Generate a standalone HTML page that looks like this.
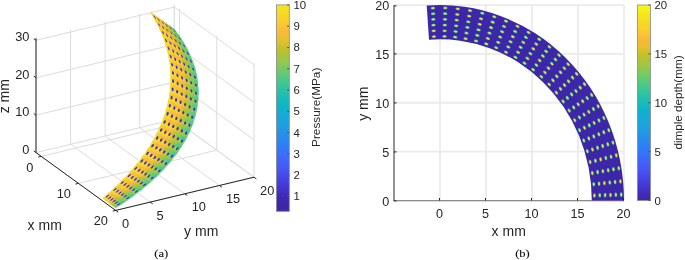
<!DOCTYPE html>
<html><head><meta charset="utf-8"><style>
html,body{margin:0;padding:0;background:#fff;}
svg{display:block;will-change:transform;}
text{font-family:"Liberation Sans",sans-serif;}
</style></head><body>
<svg width="685" height="260" viewBox="0 0 685 260">
<rect width="685" height="260" fill="#fff"/>
<g stroke="#dcdcdc" stroke-width="1" fill="none">
<line x1="41.20" y1="156.37" x2="179.50" y2="123.17"/>
<line x1="78.45" y1="183.38" x2="216.75" y2="150.18"/>
<line x1="115.70" y1="210.40" x2="254.00" y2="177.20"/>
<line x1="36.00" y1="152.60" x2="115.70" y2="210.40"/>
<line x1="70.58" y1="144.30" x2="150.28" y2="202.10"/>
<line x1="105.15" y1="136.00" x2="184.85" y2="193.80"/>
<line x1="139.73" y1="127.70" x2="219.43" y2="185.50"/>
<line x1="174.30" y1="119.40" x2="254.00" y2="177.20"/>
<line x1="36.00" y1="152.60" x2="36.00" y2="38.24"/>
<line x1="70.58" y1="144.30" x2="70.58" y2="29.94"/>
<line x1="105.15" y1="136.00" x2="105.15" y2="21.64"/>
<line x1="139.73" y1="127.70" x2="139.73" y2="13.34"/>
<line x1="174.30" y1="119.40" x2="174.30" y2="5.04"/>
<line x1="36.00" y1="152.60" x2="174.30" y2="119.40"/>
<line x1="36.00" y1="115.17" x2="174.30" y2="81.97"/>
<line x1="36.00" y1="77.73" x2="174.30" y2="44.53"/>
<line x1="36.00" y1="40.30" x2="174.30" y2="7.10"/>
<line x1="174.30" y1="119.40" x2="174.30" y2="5.04"/>
<line x1="179.50" y1="123.17" x2="179.50" y2="8.81"/>
<line x1="216.75" y1="150.18" x2="216.75" y2="35.83"/>
<line x1="254.00" y1="177.20" x2="254.00" y2="62.84"/>
<line x1="174.30" y1="119.40" x2="254.00" y2="177.20"/>
<line x1="174.30" y1="81.97" x2="254.00" y2="139.77"/>
<line x1="174.30" y1="44.53" x2="254.00" y2="102.33"/>
<line x1="174.30" y1="7.10" x2="254.00" y2="64.90"/>
</g>
<g stroke-width="0.6" stroke-linejoin="round">
<polygon points="172.53,28.56 174.87,30.21 173.96,29.06 171.64,27.40" fill="#40c790" stroke="#40c790"/>
<polygon points="173.41,29.72 175.77,31.36 174.87,30.21 172.53,28.56" fill="#43c88d" stroke="#43c88d"/>
<polygon points="174.28,30.89 176.65,32.53 175.77,31.36 173.41,29.72" fill="#5dca78" stroke="#5dca78"/>
<polygon points="175.12,32.06 177.51,33.69 176.65,32.53 174.28,30.89" fill="#7dc85e" stroke="#7dc85e"/>
<polygon points="175.95,33.23 178.35,34.86 177.51,33.69 175.12,32.06" fill="#7fc85c" stroke="#7fc85c"/>
<polygon points="170.19,26.91 172.53,28.56 171.64,27.40 169.32,25.75" fill="#57ca7d" stroke="#57ca7d"/>
<polygon points="176.77,34.41 179.18,36.03 178.35,34.86 175.95,33.23" fill="#60ca75" stroke="#60ca75"/>
<polygon points="171.06,28.08 173.41,29.72 172.53,28.56 170.19,26.91" fill="#5aca7a" stroke="#5aca7a"/>
<polygon points="177.57,35.59 180.00,37.21 179.18,36.03 176.77,34.41" fill="#44c88c" stroke="#44c88c"/>
<polygon points="171.91,29.25 174.28,30.89 173.41,29.72 171.06,28.08" fill="#7bc860" stroke="#7bc860"/>
<polygon points="178.35,36.78 180.79,38.39 180.00,37.21 177.57,35.59" fill="#3fc790" stroke="#3fc790"/>
<polygon points="172.74,30.42 175.12,32.06 174.28,30.89 171.91,29.25" fill="#98c84a" stroke="#98c84a"/>
<polygon points="179.12,37.96 181.57,39.57 180.79,38.39 178.35,36.78" fill="#54ca7f" stroke="#54ca7f"/>
<polygon points="173.55,31.60 175.95,33.23 175.12,32.06 172.74,30.42" fill="#9ac849" stroke="#9ac849"/>
<polygon points="167.86,25.26 170.19,26.91 169.32,25.75 166.99,24.09" fill="#79c861" stroke="#79c861"/>
<polygon points="174.35,32.79 176.77,34.41 175.95,33.23 173.55,31.60" fill="#7ec85d" stroke="#7ec85d"/>
<polygon points="179.87,39.16 182.34,40.76 181.57,39.57 179.12,37.96" fill="#76c963" stroke="#76c963"/>
<polygon points="168.70,26.43 171.06,28.08 170.19,26.91 167.86,25.26" fill="#7dc85e" stroke="#7dc85e"/>
<polygon points="175.14,33.97 177.57,35.59 176.77,34.41 174.35,32.79" fill="#5cca79" stroke="#5cca79"/>
<polygon points="180.60,40.35 183.08,41.95 182.34,40.76 179.87,39.16" fill="#82c85a" stroke="#82c85a"/>
<polygon points="169.53,27.61 171.91,29.25 171.06,28.08 168.70,26.43" fill="#9bc848" stroke="#9bc848"/>
<polygon points="175.91,35.16 178.35,36.78 177.57,35.59 175.14,33.97" fill="#56ca7e" stroke="#56ca7e"/>
<polygon points="181.31,41.56 183.81,43.15 183.08,41.95 180.60,40.35" fill="#6bc96d" stroke="#6bc96d"/>
<polygon points="170.35,28.79 172.74,30.42 171.91,29.25 169.53,27.61" fill="#b2c234" stroke="#b2c234"/>
<polygon points="176.66,36.36 179.12,37.96 178.35,36.78 175.91,35.16" fill="#70c968" stroke="#70c968"/>
<polygon points="171.15,29.97 173.55,31.60 172.74,30.42 170.35,28.79" fill="#b3c233" stroke="#b3c233"/>
<polygon points="182.01,42.76 184.52,44.35 183.81,43.15 181.31,41.56" fill="#4ac887" stroke="#4ac887"/>
<polygon points="165.52,23.61 167.86,25.26 166.99,24.09 164.67,22.44" fill="#9dc847" stroke="#9dc847"/>
<polygon points="177.40,37.55 179.87,39.16 179.12,37.96 176.66,36.36" fill="#92c84e" stroke="#92c84e"/>
<polygon points="171.94,31.16 174.35,32.79 173.55,31.60 171.15,29.97" fill="#9ec846" stroke="#9ec846"/>
<polygon points="182.70,43.97 185.22,45.55 184.52,44.35 182.01,42.76" fill="#3ec791" stroke="#3ec791"/>
<polygon points="166.35,24.79 168.70,26.43 167.86,25.26 165.52,23.61" fill="#a0c745" stroke="#a0c745"/>
<polygon points="178.12,38.76 180.60,40.35 179.87,39.16 177.40,37.55" fill="#9dc847" stroke="#9dc847"/>
<polygon points="172.71,32.35 175.14,33.97 174.35,32.79 171.94,31.16" fill="#7fc85c" stroke="#7fc85c"/>
<polygon points="183.36,45.18 185.89,46.76 185.22,45.55 182.70,43.97" fill="#4cc986" stroke="#4cc986"/>
<polygon points="167.16,25.97 169.53,27.61 168.70,26.43 166.35,24.79" fill="#b8c130" stroke="#b8c130"/>
<polygon points="173.46,33.55 175.91,35.16 175.14,33.97 172.71,32.35" fill="#78c962" stroke="#78c962"/>
<polygon points="178.82,39.96 181.31,41.56 180.60,40.35 178.12,38.76" fill="#88c855" stroke="#88c855"/>
<polygon points="167.97,27.16 170.35,28.79 169.53,27.61 167.16,25.97" fill="#d7c02a" stroke="#d7c02a"/>
<polygon points="184.01,46.39 186.55,47.97 185.89,46.76 183.36,45.18" fill="#6dc96a" stroke="#6dc96a"/>
<polygon points="174.20,34.75 176.66,36.36 175.91,35.16 173.46,33.55" fill="#92c84f" stroke="#92c84f"/>
<polygon points="179.51,41.17 182.01,42.76 181.31,41.56 178.82,39.96" fill="#64c973" stroke="#64c973"/>
<polygon points="168.75,28.35 171.15,29.97 170.35,28.79 167.97,27.16" fill="#d8c02b" stroke="#d8c02b"/>
<polygon points="184.64,47.61 187.20,49.18 186.55,47.97 184.01,46.39" fill="#82c859" stroke="#82c859"/>
<polygon points="174.93,35.95 177.40,37.55 176.66,36.36 174.20,34.75" fill="#adc338" stroke="#adc338"/>
<polygon points="180.18,42.38 182.70,43.97 182.01,42.76 179.51,41.17" fill="#54ca7f" stroke="#54ca7f"/>
<polygon points="169.52,29.54 171.94,31.16 171.15,29.97 168.75,28.35" fill="#bbc12f" stroke="#bbc12f"/>
<polygon points="163.18,21.96 165.52,23.61 164.67,22.44 162.35,20.78" fill="#bec12e" stroke="#bec12e"/>
<polygon points="175.63,37.16 178.12,38.76 177.40,37.55 174.93,35.95" fill="#b5c131" stroke="#b5c131"/>
<polygon points="185.26,48.83 187.82,50.40 187.20,49.18 184.64,47.61" fill="#74c965" stroke="#74c965"/>
<polygon points="163.99,23.15 166.35,24.79 165.52,23.61 163.18,21.96" fill="#c1c12d" stroke="#c1c12d"/>
<polygon points="170.28,30.74 172.71,32.35 171.94,31.16 169.52,29.54" fill="#a1c743" stroke="#a1c743"/>
<polygon points="180.83,43.60 183.36,45.18 182.70,43.97 180.18,42.38" fill="#66c970" stroke="#66c970"/>
<polygon points="164.79,24.33 167.16,25.97 166.35,24.79 163.99,23.15" fill="#e1c02e" stroke="#e1c02e"/>
<polygon points="176.32,38.37 178.82,39.96 178.12,38.76 175.63,37.16" fill="#a5c540" stroke="#a5c540"/>
<polygon points="171.02,31.94 173.46,33.55 172.71,32.35 170.28,30.74" fill="#9cc848" stroke="#9cc848"/>
<polygon points="185.85,50.05 188.43,51.61 187.82,50.40 185.26,48.83" fill="#52c981" stroke="#52c981"/>
<polygon points="181.47,44.81 184.01,46.39 183.36,45.18 180.83,43.60" fill="#8ac854" stroke="#8ac854"/>
<polygon points="165.58,25.52 167.97,27.16 167.16,25.97 164.79,24.33" fill="#f2bb36" stroke="#f2bb36"/>
<polygon points="177.00,39.58 179.51,41.17 178.82,39.96 176.32,38.37" fill="#87c856" stroke="#87c856"/>
<polygon points="171.75,33.14 174.20,34.75 173.46,33.55 171.02,31.94" fill="#afc336" stroke="#afc336"/>
<polygon points="186.43,51.28 189.02,52.84 188.43,51.61 185.85,50.05" fill="#3fc791" stroke="#3fc791"/>
<polygon points="182.09,46.04 184.64,47.61 184.01,46.39 181.47,44.81" fill="#9dc847" stroke="#9dc847"/>
<polygon points="166.35,26.72 168.75,28.35 167.97,27.16 165.58,25.52" fill="#f2bb36" stroke="#f2bb36"/>
<polygon points="172.46,34.35 174.93,35.95 174.20,34.75 171.75,33.14" fill="#d1c028" stroke="#d1c028"/>
<polygon points="177.66,40.80 180.18,42.38 179.51,41.17 177.00,39.58" fill="#76c963" stroke="#76c963"/>
<polygon points="167.11,27.92 169.52,29.54 168.75,28.35 166.35,26.72" fill="#e4c02f" stroke="#e4c02f"/>
<polygon points="187.00,52.51 189.59,54.06 189.02,52.84 186.43,51.28" fill="#46c88b" stroke="#46c88b"/>
<polygon points="182.69,47.26 185.26,48.83 184.64,47.61 182.09,46.04" fill="#90c850" stroke="#90c850"/>
<polygon points="160.84,20.31 163.18,21.96 162.35,20.78 160.02,19.13" fill="#e7c030" stroke="#e7c030"/>
<polygon points="173.15,35.56 175.63,37.16 174.93,35.95 172.46,34.35" fill="#dbc02c" stroke="#dbc02c"/>
<polygon points="178.30,42.02 180.83,43.60 180.18,42.38 177.66,40.80" fill="#89c855" stroke="#89c855"/>
<polygon points="167.85,29.12 170.28,30.74 169.52,29.54 167.11,27.92" fill="#c3c02c" stroke="#c3c02c"/>
<polygon points="161.64,21.50 163.99,23.15 163.18,21.96 160.84,20.31" fill="#e9c031" stroke="#e9c031"/>
<polygon points="183.28,48.49 185.85,50.05 185.26,48.83 182.69,47.26" fill="#6dc96b" stroke="#6dc96b"/>
<polygon points="187.54,53.74 190.15,55.29 189.59,54.06 187.00,52.51" fill="#63c973" stroke="#63c973"/>
<polygon points="173.83,36.77 176.32,38.37 175.63,37.16 173.15,35.56" fill="#c5c02c" stroke="#c5c02c"/>
<polygon points="178.92,43.24 181.47,44.81 180.83,43.60 178.30,42.02" fill="#a7c53e" stroke="#a7c53e"/>
<polygon points="168.58,30.32 171.02,31.94 170.28,30.74 167.85,29.12" fill="#bdc12e" stroke="#bdc12e"/>
<polygon points="162.42,22.69 164.79,24.33 163.99,23.15 161.64,21.50" fill="#f6b939" stroke="#f6b939"/>
<polygon points="174.49,37.99 177.00,39.58 176.32,38.37 173.83,36.77" fill="#a7c53e" stroke="#a7c53e"/>
<polygon points="183.85,49.72 186.43,51.28 185.85,50.05 183.28,48.49" fill="#55ca7e" stroke="#55ca7e"/>
<polygon points="188.07,54.97 190.69,56.52 190.15,55.29 187.54,53.74" fill="#80c85b" stroke="#80c85b"/>
<polygon points="163.20,23.89 165.58,25.52 164.79,24.33 162.42,22.69" fill="#fdc634" stroke="#fdc634"/>
<polygon points="169.29,31.53 171.75,33.14 171.02,31.94 168.58,30.32" fill="#d7c02a" stroke="#d7c02a"/>
<polygon points="179.53,44.46 182.09,46.04 181.47,44.81 178.92,43.24" fill="#b6c131" stroke="#b6c131"/>
<polygon points="175.14,39.21 177.66,40.80 177.00,39.58 174.49,37.99" fill="#9bc849" stroke="#9bc849"/>
<polygon points="163.95,25.09 166.35,26.72 165.58,25.52 163.20,23.89" fill="#fcc733" stroke="#fcc733"/>
<polygon points="169.99,32.74 172.46,34.35 171.75,33.14 169.29,31.53" fill="#efbd34" stroke="#efbd34"/>
<polygon points="184.40,50.95 187.00,52.51 186.43,51.28 183.85,49.72" fill="#5eca77" stroke="#5eca77"/>
<polygon points="188.58,56.21 191.20,57.75 190.69,56.52 188.07,54.97" fill="#7bc85f" stroke="#7bc85f"/>
<polygon points="180.12,45.69 182.69,47.26 182.09,46.04 179.53,44.46" fill="#acc43a" stroke="#acc43a"/>
<polygon points="164.69,26.29 167.11,27.92 166.35,26.72 163.95,25.09" fill="#f7ba39" stroke="#f7ba39"/>
<polygon points="175.77,40.44 178.30,42.02 177.66,40.80 175.14,39.21" fill="#a8c53d" stroke="#a8c53d"/>
<polygon points="170.67,33.96 173.15,35.56 172.46,34.35 169.99,32.74" fill="#f4bb37" stroke="#f4bb37"/>
<polygon points="184.93,52.19 187.54,53.74 187.00,52.51 184.40,50.95" fill="#81c85a" stroke="#81c85a"/>
<polygon points="158.50,18.67 160.84,20.31 160.02,19.13 157.70,17.48" fill="#f5ba38" stroke="#f5ba38"/>
<polygon points="180.70,46.93 183.28,48.49 182.69,47.26 180.12,45.69" fill="#8fc851" stroke="#8fc851"/>
<polygon points="189.07,57.45 191.71,58.99 191.20,57.75 188.58,56.21" fill="#5aca7a" stroke="#5aca7a"/>
<polygon points="165.42,27.50 167.85,29.12 167.11,27.92 164.69,26.29" fill="#eabf31" stroke="#eabf31"/>
<polygon points="171.33,35.18 173.83,36.77 173.15,35.56 170.67,33.96" fill="#eabf31" stroke="#eabf31"/>
<polygon points="176.38,41.66 178.92,43.24 178.30,42.02 175.77,40.44" fill="#c8c02b" stroke="#c8c02b"/>
<polygon points="159.28,19.86 161.64,21.50 160.84,20.31 158.50,18.67" fill="#f7b939" stroke="#f7b939"/>
<polygon points="185.45,53.43 188.07,54.97 187.54,53.74 184.93,52.19" fill="#9bc849" stroke="#9bc849"/>
<polygon points="166.14,28.71 168.58,30.32 167.85,29.12 165.42,27.50" fill="#e6c02f" stroke="#e6c02f"/>
<polygon points="181.26,48.16 183.85,49.72 183.28,48.49 180.70,46.93" fill="#77c962" stroke="#77c962"/>
<polygon points="189.55,58.69 192.19,60.23 191.71,58.99 189.07,57.45" fill="#42c78e" stroke="#42c78e"/>
<polygon points="160.05,21.06 162.42,22.69 161.64,21.50 159.28,19.86" fill="#fcc733" stroke="#fcc733"/>
<polygon points="171.98,36.40 174.49,37.99 173.83,36.77 171.33,35.18" fill="#cbc02a" stroke="#cbc02a"/>
<polygon points="176.98,42.89 179.53,44.46 178.92,43.24 176.38,41.66" fill="#dcc02c" stroke="#dcc02c"/>
<polygon points="166.83,29.92 169.29,31.53 168.58,30.32 166.14,28.71" fill="#f2bb36" stroke="#f2bb36"/>
<polygon points="160.81,22.26 163.20,23.89 162.42,22.69 160.05,21.06" fill="#f9d428" stroke="#f9d428"/>
<polygon points="181.80,49.40 184.40,50.95 183.85,49.72 181.26,48.16" fill="#81c85a" stroke="#81c85a"/>
<polygon points="185.95,54.67 188.58,56.21 188.07,54.97 185.45,53.43" fill="#97c84b" stroke="#97c84b"/>
<polygon points="172.61,37.63 175.14,39.21 174.49,37.99 171.98,36.40" fill="#bbc12f" stroke="#bbc12f"/>
<polygon points="177.56,44.13 180.12,45.69 179.53,44.46 176.98,42.89" fill="#cfc028" stroke="#cfc028"/>
<polygon points="190.00,59.94 192.65,61.47 192.19,60.23 189.55,58.69" fill="#41c78f" stroke="#41c78f"/>
<polygon points="167.52,31.14 169.99,32.74 169.29,31.53 166.83,29.92" fill="#fcc336" stroke="#fcc336"/>
<polygon points="161.55,23.46 163.95,25.09 163.20,23.89 160.81,22.26" fill="#f8d527" stroke="#f8d527"/>
<polygon points="182.33,50.64 184.93,52.19 184.40,50.95 181.80,49.40" fill="#a0c744" stroke="#a0c744"/>
<polygon points="173.23,38.85 175.77,40.44 175.14,39.21 172.61,37.63" fill="#cec029" stroke="#cec029"/>
<polygon points="186.44,55.91 189.07,57.45 188.58,56.21 185.95,54.67" fill="#78c962" stroke="#78c962"/>
<polygon points="168.18,32.36 170.67,33.96 169.99,32.74 167.52,31.14" fill="#fcc832" stroke="#fcc832"/>
<polygon points="178.12,45.36 180.70,46.93 180.12,45.69 177.56,44.13" fill="#adc338" stroke="#adc338"/>
<polygon points="162.28,24.67 164.69,26.29 163.95,25.09 161.55,23.46" fill="#fcc832" stroke="#fcc832"/>
<polygon points="190.44,61.19 193.10,62.71 192.65,61.47 190.00,59.94" fill="#59ca7b" stroke="#59ca7b"/>
<polygon points="173.84,40.09 176.38,41.66 175.77,40.44 173.23,38.85" fill="#ebbe32" stroke="#ebbe32"/>
<polygon points="162.99,25.88 165.42,27.50 164.69,26.29 162.28,24.67" fill="#f7b939" stroke="#f7b939"/>
<polygon points="182.84,51.88 185.45,53.43 184.93,52.19 182.33,50.64" fill="#b4c132" stroke="#b4c132"/>
<polygon points="156.16,17.02 158.50,18.67 157.70,17.48 155.38,15.82" fill="#f7b939" stroke="#f7b939"/>
<polygon points="168.84,33.58 171.33,35.18 170.67,33.96 168.18,32.36" fill="#fabe37" stroke="#fabe37"/>
<polygon points="186.90,57.16 189.55,58.69 189.07,57.45 186.44,55.91" fill="#58ca7c" stroke="#58ca7c"/>
<polygon points="178.67,46.60 181.26,48.16 180.70,46.93 178.12,45.36" fill="#9cc848" stroke="#9cc848"/>
<polygon points="190.86,62.44 193.53,63.96 193.10,62.71 190.44,61.19" fill="#7ac860" stroke="#7ac860"/>
<polygon points="156.93,18.22 159.28,19.86 158.50,18.67 156.16,17.02" fill="#f8bb38" stroke="#f8bb38"/>
<polygon points="163.69,27.10 166.14,28.71 165.42,27.50 162.99,25.88" fill="#f5ba38" stroke="#f5ba38"/>
<polygon points="174.42,41.32 176.98,42.89 176.38,41.66 173.84,40.09" fill="#f4ba37" stroke="#f4ba37"/>
<polygon points="169.47,34.81 171.98,36.40 171.33,35.18 168.84,33.58" fill="#edbe33" stroke="#edbe33"/>
<polygon points="183.33,53.13 185.95,54.67 185.45,53.43 182.84,51.88" fill="#b1c235" stroke="#b1c235"/>
<polygon points="179.21,47.84 181.80,49.40 181.26,48.16 178.67,46.60" fill="#a3c642" stroke="#a3c642"/>
<polygon points="187.35,58.41 190.00,59.94 189.55,58.69 186.90,57.16" fill="#58ca7c" stroke="#58ca7c"/>
<polygon points="157.68,19.42 160.05,21.06 159.28,19.86 156.93,18.22" fill="#fcc932" stroke="#fcc932"/>
<polygon points="164.38,28.32 166.83,29.92 166.14,28.71 163.69,27.10" fill="#fcc236" stroke="#fcc236"/>
<polygon points="174.99,42.56 177.56,44.13 176.98,42.89 174.42,41.32" fill="#eebd34" stroke="#eebd34"/>
<polygon points="170.09,36.04 172.61,37.63 171.98,36.40 169.47,34.81" fill="#e4c02f" stroke="#e4c02f"/>
<polygon points="191.27,63.69 193.94,65.21 193.53,63.96 190.86,62.44" fill="#80c85b" stroke="#80c85b"/>
<polygon points="158.42,20.62 160.81,22.26 160.05,21.06 157.68,19.42" fill="#f8d626" stroke="#f8d626"/>
<polygon points="183.80,54.37 186.44,55.91 185.95,54.67 183.33,53.13" fill="#99c84a" stroke="#99c84a"/>
<polygon points="179.72,49.09 182.33,50.64 181.80,49.40 179.21,47.84" fill="#bec12e" stroke="#bec12e"/>
<polygon points="165.05,29.54 167.52,31.14 166.83,29.92 164.38,28.32" fill="#f9d12a" stroke="#f9d12a"/>
<polygon points="187.78,59.66 190.44,61.19 190.00,59.94 187.35,58.41" fill="#76c963" stroke="#76c963"/>
<polygon points="170.70,37.27 173.23,38.85 172.61,37.63 170.09,36.04" fill="#eebd34" stroke="#eebd34"/>
<polygon points="159.15,21.83 161.55,23.46 160.81,22.26 158.42,20.62" fill="#f8d726" stroke="#f8d726"/>
<polygon points="175.55,43.80 178.12,45.36 177.56,44.13 174.99,42.56" fill="#d4c029" stroke="#d4c029"/>
<polygon points="165.70,30.76 168.18,32.36 167.52,31.14 165.05,29.54" fill="#f8d626" stroke="#f8d626"/>
<polygon points="191.65,64.94 194.33,66.46 193.94,65.21 191.27,63.69" fill="#65c972" stroke="#65c972"/>
<polygon points="184.26,55.62 186.90,57.16 186.44,55.91 183.80,54.37" fill="#7bc85f" stroke="#7bc85f"/>
<polygon points="180.22,50.33 182.84,51.88 182.33,50.64 179.72,49.09" fill="#dac02b" stroke="#dac02b"/>
<polygon points="159.87,23.05 162.28,24.67 161.55,23.46 159.15,21.83" fill="#fbca30" stroke="#fbca30"/>
<polygon points="171.29,38.51 173.84,40.09 173.23,38.85 170.70,37.27" fill="#fabf37" stroke="#fabf37"/>
<polygon points="188.20,60.91 190.86,62.44 190.44,61.19 187.78,59.66" fill="#96c84c" stroke="#96c84c"/>
<polygon points="176.09,45.04 178.67,46.60 178.12,45.36 175.55,43.80" fill="#bcc12f" stroke="#bcc12f"/>
<polygon points="166.34,31.99 168.84,33.58 168.18,32.36 165.70,30.76" fill="#fbcc2e" stroke="#fbcc2e"/>
<polygon points="160.56,24.26 162.99,25.88 162.28,24.67 159.87,23.05" fill="#f8bc38" stroke="#f8bc38"/>
<polygon points="180.70,51.58 183.33,53.13 182.84,51.88 180.22,50.33" fill="#d6c02a" stroke="#d6c02a"/>
<polygon points="192.02,66.20 194.71,67.71 194.33,66.46 191.65,64.94" fill="#47c88a" stroke="#47c88a"/>
<polygon points="153.82,15.37 156.16,17.02 155.38,15.82 153.05,14.17" fill="#f9bd38" stroke="#f9bd38"/>
<polygon points="184.70,56.88 187.35,58.41 186.90,57.16 184.26,55.62" fill="#7bc860" stroke="#7bc860"/>
<polygon points="171.87,39.75 174.42,41.32 173.84,40.09 171.29,38.51" fill="#fcc832" stroke="#fcc832"/>
<polygon points="176.61,46.29 179.21,47.84 178.67,46.60 176.09,45.04" fill="#c5c02c" stroke="#c5c02c"/>
<polygon points="166.96,33.22 169.47,34.81 168.84,33.58 166.34,31.99" fill="#f9bd38" stroke="#f9bd38"/>
<polygon points="161.25,25.48 163.69,27.10 162.99,25.88 160.56,24.26" fill="#f7b939" stroke="#f7b939"/>
<polygon points="188.59,62.17 191.27,63.69 190.86,62.44 188.20,60.91" fill="#9bc848" stroke="#9bc848"/>
<polygon points="154.57,16.57 156.93,18.22 156.16,17.02 153.82,15.37" fill="#fabf37" stroke="#fabf37"/>
<polygon points="172.43,40.99 174.99,42.56 174.42,41.32 171.87,39.75" fill="#fcc236" stroke="#fcc236"/>
<polygon points="181.17,52.84 183.80,54.37 183.33,53.13 180.70,51.58" fill="#b5c131" stroke="#b5c131"/>
<polygon points="167.57,34.46 170.09,36.04 169.47,34.81 166.96,33.22" fill="#f4ba37" stroke="#f4ba37"/>
<polygon points="161.92,26.71 164.38,28.32 163.69,27.10 161.25,25.48" fill="#fdc435" stroke="#fdc435"/>
<polygon points="185.13,58.13 187.78,59.66 187.35,58.41 184.70,56.88" fill="#97c84b" stroke="#97c84b"/>
<polygon points="155.31,17.78 157.68,19.42 156.93,18.22 154.57,16.57" fill="#fbcd2e" stroke="#fbcd2e"/>
<polygon points="192.37,67.46 195.06,68.97 194.71,67.71 192.02,66.20" fill="#3ec791" stroke="#3ec791"/>
<polygon points="177.11,47.54 179.72,49.09 179.21,47.84 176.61,46.29" fill="#e6c02f" stroke="#e6c02f"/>
<polygon points="188.97,63.43 191.65,64.94 191.27,63.69 188.59,62.17" fill="#82c859" stroke="#82c859"/>
<polygon points="172.97,42.24 175.55,43.80 174.99,42.56 172.43,40.99" fill="#f1bc35" stroke="#f1bc35"/>
<polygon points="156.04,18.99 158.42,20.62 157.68,19.42 155.31,17.78" fill="#f7d924" stroke="#f7d924"/>
<polygon points="162.58,27.93 165.05,29.54 164.38,28.32 161.92,26.71" fill="#f9d328" stroke="#f9d328"/>
<polygon points="168.17,35.69 170.70,37.27 170.09,36.04 167.57,34.46" fill="#f9be37" stroke="#f9be37"/>
<polygon points="181.62,54.09 184.26,55.62 183.80,54.37 181.17,52.84" fill="#9fc746" stroke="#9fc746"/>
<polygon points="177.60,48.79 180.22,50.33 179.72,49.09 177.11,47.54" fill="#f3bb37" stroke="#f3bb37"/>
<polygon points="185.53,59.39 188.20,60.91 187.78,59.66 185.13,58.13" fill="#b0c235" stroke="#b0c235"/>
<polygon points="192.70,68.72 195.40,70.22 195.06,68.97 192.37,67.46" fill="#51c982" stroke="#51c982"/>
<polygon points="156.75,20.21 159.15,21.83 158.42,20.62 156.04,18.99" fill="#f7da24" stroke="#f7da24"/>
<polygon points="163.22,29.16 165.70,30.76 165.05,29.54 162.58,27.93" fill="#f8d825" stroke="#f8d825"/>
<polygon points="173.50,43.48 176.09,45.04 175.55,43.80 172.97,42.24" fill="#e5c02f" stroke="#e5c02f"/>
<polygon points="168.75,36.93 171.29,38.51 170.70,37.27 168.17,35.69" fill="#face2d" stroke="#face2d"/>
<polygon points="189.33,64.69 192.02,66.20 191.65,64.94 188.97,63.43" fill="#5fca76" stroke="#5fca76"/>
<polygon points="182.05,55.35 184.70,56.88 184.26,55.62 181.62,54.09" fill="#9ec746" stroke="#9ec746"/>
<polygon points="157.45,21.42 159.87,23.05 159.15,21.83 156.75,20.21" fill="#face2d" stroke="#face2d"/>
<polygon points="178.08,50.04 180.70,51.58 180.22,50.33 177.60,48.79" fill="#f1bc35" stroke="#f1bc35"/>
<polygon points="163.84,30.40 166.34,31.99 165.70,30.76 163.22,29.16" fill="#face2d" stroke="#face2d"/>
<polygon points="185.92,60.65 188.59,62.17 188.20,60.91 185.53,59.39" fill="#b4c132" stroke="#b4c132"/>
<polygon points="169.31,38.18 171.87,39.75 171.29,38.51 168.75,36.93" fill="#f8d626" stroke="#f8d626"/>
<polygon points="174.01,44.73 176.61,46.29 176.09,45.04 173.50,43.48" fill="#eabf31" stroke="#eabf31"/>
<polygon points="193.01,69.98 195.72,71.48 195.40,70.22 192.70,68.72" fill="#73c966" stroke="#73c966"/>
<polygon points="158.14,22.65 160.56,24.26 159.87,23.05 157.45,21.42" fill="#fac037" stroke="#fac037"/>
<polygon points="189.68,65.95 192.37,67.46 192.02,66.20 189.33,64.69" fill="#55ca7f" stroke="#55ca7f"/>
<polygon points="164.46,31.63 166.96,33.22 166.34,31.99 163.84,30.40" fill="#fabf37" stroke="#fabf37"/>
<polygon points="182.47,56.61 185.13,58.13 184.70,56.88 182.05,55.35" fill="#b4c132" stroke="#b4c132"/>
<polygon points="178.54,51.30 181.17,52.84 180.70,51.58 178.08,50.04" fill="#dec02d" stroke="#dec02d"/>
<polygon points="151.48,13.72 153.82,15.37 153.05,14.17 150.73,12.51" fill="#fcca31" stroke="#fcca31"/>
<polygon points="158.81,23.87 161.25,25.48 160.56,24.26 158.14,22.65" fill="#f9bd38" stroke="#f9bd38"/>
<polygon points="169.86,39.42 172.43,40.99 171.87,39.75 169.31,38.18" fill="#fad02b" stroke="#fad02b"/>
<polygon points="186.29,61.91 188.97,63.43 188.59,62.17 185.92,60.65" fill="#a1c744" stroke="#a1c744"/>
<polygon points="174.51,45.99 177.11,47.54 176.61,46.29 174.01,44.73" fill="#f8bb38" stroke="#f8bb38"/>
<polygon points="165.05,32.87 167.57,34.46 166.96,33.22 164.46,31.63" fill="#f6b938" stroke="#f6b938"/>
<polygon points="152.22,14.93 154.57,16.57 153.82,15.37 151.48,13.72" fill="#fbcb2f" stroke="#fbcb2f"/>
<polygon points="193.31,71.24 196.02,72.74 195.72,71.48 193.01,69.98" fill="#82c859" stroke="#82c859"/>
<polygon points="159.46,25.10 161.92,26.71 161.25,25.48 158.81,23.87" fill="#fcc832" stroke="#fcc832"/>
<polygon points="178.98,52.56 181.62,54.09 181.17,52.84 178.54,51.30" fill="#c0c12d" stroke="#c0c12d"/>
<polygon points="190.00,67.21 192.70,68.72 192.37,67.46 189.68,65.95" fill="#6cc96c" stroke="#6cc96c"/>
<polygon points="182.87,57.87 185.53,59.39 185.13,58.13 182.47,56.61" fill="#d5c02a" stroke="#d5c02a"/>
<polygon points="170.39,40.67 172.97,42.24 172.43,40.99 169.86,39.42" fill="#fbc136" stroke="#fbc136"/>
<polygon points="152.94,16.14 155.31,17.78 154.57,16.57 152.22,14.93" fill="#f7d925" stroke="#f7d925"/>
<polygon points="174.99,47.24 177.60,48.79 177.11,47.54 174.51,45.99" fill="#fcc733" stroke="#fcc733"/>
<polygon points="165.64,34.11 168.17,35.69 167.57,34.46 165.05,32.87" fill="#fbc037" stroke="#fbc037"/>
<polygon points="186.65,63.18 189.33,64.69 188.97,63.43 186.29,61.91" fill="#82c85a" stroke="#82c85a"/>
<polygon points="160.11,26.33 162.58,27.93 161.92,26.71 159.46,25.10" fill="#f8d725" stroke="#f8d725"/>
<polygon points="153.65,17.36 156.04,18.99 155.31,17.78 152.94,16.14" fill="#f5e41f" stroke="#f5e41f"/>
<polygon points="170.91,41.92 173.50,43.48 172.97,42.24 170.39,40.67" fill="#f4ba37" stroke="#f4ba37"/>
<polygon points="179.40,53.82 182.05,55.35 181.62,54.09 178.98,52.56" fill="#bfc12e" stroke="#bfc12e"/>
<polygon points="193.59,72.51 196.30,74.00 196.02,72.74 193.31,71.24" fill="#6fc969" stroke="#6fc969"/>
<polygon points="183.25,59.13 185.92,60.65 185.53,59.39 182.87,57.87" fill="#dac02b" stroke="#dac02b"/>
<polygon points="190.31,68.48 193.01,69.98 192.70,68.72 190.00,67.21" fill="#8fc851" stroke="#8fc851"/>
<polygon points="166.20,35.36 168.75,36.93 168.17,35.69 165.64,34.11" fill="#fad02c" stroke="#fad02c"/>
<polygon points="175.45,48.50 178.08,50.04 177.60,48.79 174.99,47.24" fill="#fdc535" stroke="#fdc535"/>
<polygon points="160.73,27.56 163.22,29.16 162.58,27.93 160.11,26.33" fill="#f7db23" stroke="#f7db23"/>
<polygon points="154.35,18.58 156.75,20.21 156.04,18.99 153.65,17.36" fill="#f4e41f" stroke="#f4e41f"/>
<polygon points="186.98,64.44 189.68,65.95 189.33,64.69 186.65,63.18" fill="#77c962" stroke="#77c962"/>
<polygon points="171.41,43.18 174.01,44.73 173.50,43.48 170.91,41.92" fill="#f8ba39" stroke="#f8ba39"/>
<polygon points="161.35,28.80 163.84,30.40 163.22,29.16 160.73,27.56" fill="#f9d229" stroke="#f9d229"/>
<polygon points="166.76,36.61 169.31,38.18 168.75,36.93 166.20,35.36" fill="#f8d825" stroke="#f8d825"/>
<polygon points="179.81,55.08 182.47,56.61 182.05,55.35 179.40,53.82" fill="#ddc02c" stroke="#ddc02c"/>
<polygon points="155.04,19.80 157.45,21.42 156.75,20.21 154.35,18.58" fill="#f7da24" stroke="#f7da24"/>
<polygon points="175.90,49.76 178.54,51.30 178.08,50.04 175.45,48.50" fill="#f5ba38" stroke="#f5ba38"/>
<polygon points="183.61,60.40 186.29,61.91 185.92,60.65 183.25,59.13" fill="#bfc12e" stroke="#bfc12e"/>
<polygon points="193.84,73.78 196.56,75.27 196.30,74.00 193.59,72.51" fill="#4dc985" stroke="#4dc985"/>
<polygon points="190.60,69.75 193.31,71.24 193.01,69.98 190.31,68.48" fill="#9dc847" stroke="#9dc847"/>
<polygon points="155.71,21.03 158.14,22.65 157.45,21.42 155.04,19.80" fill="#fbcc2f" stroke="#fbcc2f"/>
<polygon points="161.95,30.04 164.46,31.63 163.84,30.40 161.35,28.80" fill="#fcc336" stroke="#fcc336"/>
<polygon points="171.90,44.43 174.51,45.99 174.01,44.73 171.41,43.18" fill="#fcc931" stroke="#fcc931"/>
<polygon points="187.30,65.71 190.00,67.21 189.68,65.95 186.98,64.44" fill="#8ec851" stroke="#8ec851"/>
<polygon points="167.30,37.86 169.86,39.42 169.31,38.18 166.76,36.61" fill="#f9d229" stroke="#f9d229"/>
<polygon points="180.20,56.34 182.87,57.87 182.47,56.61 179.81,55.08" fill="#f1bc35" stroke="#f1bc35"/>
<polygon points="176.33,51.02 178.98,52.56 178.54,51.30 175.90,49.76" fill="#e8c030" stroke="#e8c030"/>
<polygon points="156.36,22.26 158.81,23.87 158.14,22.65 155.71,21.03" fill="#fcca31" stroke="#fcca31"/>
<polygon points="183.96,61.66 186.65,63.18 186.29,61.91 183.61,60.40" fill="#a3c641" stroke="#a3c641"/>
<polygon points="162.53,31.29 165.05,32.87 164.46,31.63 161.95,30.04" fill="#f9bc38" stroke="#f9bc38"/>
<polygon points="194.08,75.05 196.81,76.53 196.56,75.27 193.84,73.78" fill="#3ec791" stroke="#3ec791"/>
<polygon points="172.37,45.69 174.99,47.24 174.51,45.99 171.90,44.43" fill="#f8d527" stroke="#f8d527"/>
<polygon points="167.82,39.11 170.39,40.67 169.86,39.42 167.30,37.86" fill="#fcc336" stroke="#fcc336"/>
<polygon points="190.87,71.02 193.59,72.51 193.31,71.24 190.60,69.75" fill="#8cc853" stroke="#8cc853"/>
<polygon points="187.61,66.98 190.31,68.48 190.00,67.21 187.30,65.71" fill="#abc43a" stroke="#abc43a"/>
<polygon points="157.01,23.49 159.46,25.10 158.81,23.87 156.36,22.26" fill="#f8d527" stroke="#f8d527"/>
<polygon points="180.57,57.61 183.25,59.13 182.87,57.87 180.20,56.34" fill="#f3bb37" stroke="#f3bb37"/>
<polygon points="176.75,52.28 179.40,53.82 178.98,52.56 176.33,51.02" fill="#e8c030" stroke="#e8c030"/>
<polygon points="163.10,32.53 165.64,34.11 165.05,32.87 162.53,31.29" fill="#fdc435" stroke="#fdc435"/>
<polygon points="184.29,62.93 186.98,64.44 186.65,63.18 183.96,61.66" fill="#9cc848" stroke="#9cc848"/>
<polygon points="168.33,40.36 170.91,41.92 170.39,40.67 167.82,39.11" fill="#f6b939" stroke="#f6b939"/>
<polygon points="172.83,46.96 175.45,48.50 174.99,47.24 172.37,45.69" fill="#f9d328" stroke="#f9d328"/>
<polygon points="157.64,24.73 160.11,26.33 159.46,25.10 157.01,23.49" fill="#f5e120" stroke="#f5e120"/>
<polygon points="191.13,72.29 193.84,73.78 193.59,72.51 190.87,71.02" fill="#67c96f" stroke="#67c96f"/>
<polygon points="194.31,76.32 197.03,77.80 196.81,76.53 194.08,75.05" fill="#49c888" stroke="#49c888"/>
<polygon points="163.66,33.78 166.20,35.36 165.64,34.11 163.10,32.53" fill="#f9d428" stroke="#f9d428"/>
<polygon points="187.89,68.25 190.60,69.75 190.31,68.48 187.61,66.98" fill="#b6c131" stroke="#b6c131"/>
<polygon points="177.15,53.55 179.81,55.08 179.40,53.82 176.75,52.28" fill="#f4ba37" stroke="#f4ba37"/>
<polygon points="180.93,58.88 183.61,60.40 183.25,59.13 180.57,57.61" fill="#e8c030" stroke="#e8c030"/>
<polygon points="158.25,25.97 160.73,27.56 160.11,26.33 157.64,24.73" fill="#f4e51e" stroke="#f4e51e"/>
<polygon points="168.82,41.62 171.41,43.18 170.91,41.92 168.33,40.36" fill="#f9bc38" stroke="#f9bc38"/>
<polygon points="173.27,48.22 175.90,49.76 175.45,48.50 172.83,46.96" fill="#fdc635" stroke="#fdc635"/>
<polygon points="184.60,64.20 187.30,65.71 186.98,64.44 184.29,62.93" fill="#acc339" stroke="#acc339"/>
<polygon points="164.20,35.03 166.76,36.61 166.20,35.36 163.66,33.78" fill="#f7db23" stroke="#f7db23"/>
<polygon points="158.85,27.21 161.35,28.80 160.73,27.56 158.25,25.97" fill="#f6dd22" stroke="#f6dd22"/>
<polygon points="177.53,54.82 180.20,56.34 179.81,55.08 177.15,53.55" fill="#fdc535" stroke="#fdc535"/>
<polygon points="191.36,73.56 194.08,75.05 193.84,73.78 191.13,72.29" fill="#54ca7f" stroke="#54ca7f"/>
<polygon points="169.29,42.88 171.90,44.43 171.41,43.18 168.82,41.62" fill="#fbcb2f" stroke="#fbcb2f"/>
<polygon points="181.27,60.15 183.96,61.66 183.61,60.40 180.93,58.88" fill="#c6c02b" stroke="#c6c02b"/>
<polygon points="194.51,77.59 197.24,79.07 197.03,77.80 194.31,76.32" fill="#69c96e" stroke="#69c96e"/>
<polygon points="188.16,69.52 190.87,71.02 190.60,69.75 187.89,68.25" fill="#a8c53d" stroke="#a8c53d"/>
<polygon points="173.69,49.49 176.33,51.02 175.90,49.76 173.27,48.22" fill="#f6ba38" stroke="#f6ba38"/>
<polygon points="164.73,36.29 167.30,37.86 166.76,36.61 164.20,35.03" fill="#f8d626" stroke="#f8d626"/>
<polygon points="159.44,28.45 161.95,30.04 161.35,28.80 158.85,27.21" fill="#facf2c" stroke="#facf2c"/>
<polygon points="184.90,65.48 187.61,66.98 187.30,65.71 184.60,64.20" fill="#cec029" stroke="#cec029"/>
<polygon points="169.76,44.15 172.37,45.69 171.90,44.43 169.29,42.88" fill="#f8d725" stroke="#f8d725"/>
<polygon points="177.90,56.09 180.57,57.61 180.20,56.34 177.53,54.82" fill="#fcc733" stroke="#fcc733"/>
<polygon points="165.24,37.55 167.82,39.11 167.30,37.86 164.73,36.29" fill="#fcc733" stroke="#fcc733"/>
<polygon points="160.01,29.70 162.53,31.29 161.95,30.04 159.44,28.45" fill="#fcc932" stroke="#fcc932"/>
<polygon points="181.60,61.42 184.29,62.93 183.96,61.66 181.27,60.15" fill="#bbc12f" stroke="#bbc12f"/>
<polygon points="174.10,50.75 176.75,52.28 176.33,51.02 173.69,49.49" fill="#f6ba38" stroke="#f6ba38"/>
<polygon points="191.58,74.83 194.31,76.32 194.08,75.05 191.36,73.56" fill="#62ca73" stroke="#62ca73"/>
<polygon points="188.41,70.79 191.13,72.29 190.87,71.02 188.16,69.52" fill="#8ac854" stroke="#8ac854"/>
<polygon points="194.70,78.86 197.43,80.34 197.24,79.07 194.51,77.59" fill="#82c85a" stroke="#82c85a"/>
<polygon points="185.18,66.75 187.89,68.25 187.61,66.98 184.90,65.48" fill="#dcc02c" stroke="#dcc02c"/>
<polygon points="170.20,45.41 172.83,46.96 172.37,45.69 169.76,44.15" fill="#f8d527" stroke="#f8d527"/>
<polygon points="160.57,30.95 163.10,32.53 162.53,31.29 160.01,29.70" fill="#fad12b" stroke="#fad12b"/>
<polygon points="165.74,38.81 168.33,40.36 167.82,39.11 165.24,37.55" fill="#f9bd38" stroke="#f9bd38"/>
<polygon points="178.25,57.36 180.93,58.88 180.57,57.61 177.90,56.09" fill="#f8bc38" stroke="#f8bc38"/>
<polygon points="174.49,52.02 177.15,53.55 176.75,52.28 174.10,50.75" fill="#fdc535" stroke="#fdc535"/>
<polygon points="181.91,62.70 184.60,64.20 184.29,62.93 181.60,61.42" fill="#d3c029" stroke="#d3c029"/>
<polygon points="161.12,32.21 163.66,33.78 163.10,32.53 160.57,30.95" fill="#f6de22" stroke="#f6de22"/>
<polygon points="191.78,76.11 194.51,77.59 194.31,76.32 191.58,74.83" fill="#87c856" stroke="#87c856"/>
<polygon points="188.64,72.07 191.36,73.56 191.13,72.29 188.41,70.79" fill="#77c963" stroke="#77c963"/>
<polygon points="170.63,46.68 173.27,48.22 172.83,46.96 170.20,45.41" fill="#fcc833" stroke="#fcc833"/>
<polygon points="166.22,40.07 168.82,41.62 168.33,40.36 165.74,38.81" fill="#fbc136" stroke="#fbc136"/>
<polygon points="194.86,80.13 197.60,81.61 197.43,80.34 194.70,78.86" fill="#77c962" stroke="#77c962"/>
<polygon points="185.44,68.03 188.16,69.52 187.89,68.25 185.18,66.75" fill="#c9c02a" stroke="#c9c02a"/>
<polygon points="178.59,58.64 181.27,60.15 180.93,58.88 178.25,57.36" fill="#ebbf32" stroke="#ebbf32"/>
<polygon points="174.87,53.30 177.53,54.82 177.15,53.55 174.49,52.02" fill="#f9d329" stroke="#f9d329"/>
<polygon points="161.65,33.46 164.20,35.03 163.66,33.78 161.12,32.21" fill="#f4e61e" stroke="#f4e61e"/>
<polygon points="182.20,63.97 184.90,65.48 184.60,64.20 181.91,62.70" fill="#eebd33" stroke="#eebd33"/>
<polygon points="166.69,41.33 169.29,42.88 168.82,41.62 166.22,40.07" fill="#facf2c" stroke="#facf2c"/>
<polygon points="171.05,47.95 173.69,49.49 173.27,48.22 170.63,46.68" fill="#f8ba39" stroke="#f8ba39"/>
<polygon points="188.85,73.35 191.58,74.83 191.36,73.56 188.64,72.07" fill="#86c857" stroke="#86c857"/>
<polygon points="191.96,77.38 194.70,78.86 194.51,77.59 191.78,76.11" fill="#9cc848" stroke="#9cc848"/>
<polygon points="162.16,34.72 164.73,36.29 164.20,35.03 161.65,33.46" fill="#f5e121" stroke="#f5e121"/>
<polygon points="185.69,69.30 188.41,70.79 188.16,69.52 185.44,68.03" fill="#a9c43c" stroke="#a9c43c"/>
<polygon points="175.23,54.57 177.90,56.09 177.53,54.82 174.87,53.30" fill="#f8d527" stroke="#f8d527"/>
<polygon points="178.91,59.91 181.60,61.42 181.27,60.15 178.59,58.64" fill="#e5c02f" stroke="#e5c02f"/>
<polygon points="195.01,81.41 197.75,82.88 197.60,81.61 194.86,80.13" fill="#55ca7f" stroke="#55ca7f"/>
<polygon points="167.14,42.60 169.76,44.15 169.29,42.88 166.69,41.33" fill="#f7da24" stroke="#f7da24"/>
<polygon points="171.45,49.22 174.10,50.75 173.69,49.49 171.05,47.95" fill="#f7ba39" stroke="#f7ba39"/>
<polygon points="182.47,65.25 185.18,66.75 184.90,65.48 182.20,63.97" fill="#f4ba37" stroke="#f4ba37"/>
<polygon points="162.66,35.98 165.24,37.55 164.73,36.29 162.16,34.72" fill="#f9d328" stroke="#f9d328"/>
<polygon points="175.57,55.85 178.25,57.36 177.90,56.09 175.23,54.57" fill="#fcca31" stroke="#fcca31"/>
<polygon points="189.05,74.63 191.78,76.11 191.58,74.83 188.85,73.35" fill="#a4c641" stroke="#a4c641"/>
<polygon points="179.21,61.19 181.91,62.70 181.60,61.42 178.91,59.91" fill="#f0bc35" stroke="#f0bc35"/>
<polygon points="167.58,43.87 170.20,45.41 169.76,44.15 167.14,42.60" fill="#f7d925" stroke="#f7d925"/>
<polygon points="192.13,78.66 194.86,80.13 194.70,78.86 191.96,77.38" fill="#93c84e" stroke="#93c84e"/>
<polygon points="185.91,70.58 188.64,72.07 188.41,70.79 185.69,69.30" fill="#9bc849" stroke="#9bc849"/>
<polygon points="171.83,50.50 174.49,52.02 174.10,50.75 171.45,49.22" fill="#fcc733" stroke="#fcc733"/>
<polygon points="195.14,82.68 197.88,84.15 197.75,82.88 195.01,81.41" fill="#40c790" stroke="#40c790"/>
<polygon points="163.15,37.25 165.74,38.81 165.24,37.55 162.66,35.98" fill="#fcc931" stroke="#fcc931"/>
<polygon points="182.73,66.53 185.44,68.03 185.18,66.75 182.47,65.25" fill="#ecbe32" stroke="#ecbe32"/>
<polygon points="168.00,45.14 170.63,46.68 170.20,45.41 167.58,43.87" fill="#fbcc2f" stroke="#fbcc2f"/>
<polygon points="175.90,57.13 178.59,58.64 178.25,57.36 175.57,55.85" fill="#f8bb38" stroke="#f8bb38"/>
<polygon points="179.49,62.47 182.20,63.97 181.91,62.70 179.21,61.19" fill="#fbc236" stroke="#fbc236"/>
<polygon points="172.20,51.77 174.87,53.30 174.49,52.02 171.83,50.50" fill="#f8d527" stroke="#f8d527"/>
<polygon points="163.62,38.51 166.22,40.07 165.74,38.81 163.15,37.25" fill="#fbcd2e" stroke="#fbcd2e"/>
<polygon points="189.23,75.90 191.96,77.38 191.78,76.11 189.05,74.63" fill="#b5c131" stroke="#b5c131"/>
<polygon points="186.12,71.86 188.85,73.35 188.64,72.07 185.91,70.58" fill="#a6c53f" stroke="#a6c53f"/>
<polygon points="192.27,79.94 195.01,81.41 194.86,80.13 192.13,78.66" fill="#71c967" stroke="#71c967"/>
<polygon points="182.97,67.81 185.69,69.30 185.44,68.03 182.73,66.53" fill="#cfc028" stroke="#cfc028"/>
<polygon points="168.41,46.42 171.05,47.95 170.63,46.68 168.00,45.14" fill="#fabe37" stroke="#fabe37"/>
<polygon points="195.25,83.96 198.00,85.43 197.88,84.15 195.14,82.68" fill="#44c88d" stroke="#44c88d"/>
<polygon points="176.21,58.41 178.91,59.91 178.59,58.64 175.90,57.13" fill="#f4ba37" stroke="#f4ba37"/>
<polygon points="164.08,39.78 166.69,41.33 166.22,40.07 163.62,38.51" fill="#f7db24" stroke="#f7db24"/>
<polygon points="172.56,53.05 175.23,54.57 174.87,53.30 172.20,51.77" fill="#f8d725" stroke="#f8d725"/>
<polygon points="179.76,63.75 182.47,65.25 182.20,63.97 179.49,62.47" fill="#fcc832" stroke="#fcc832"/>
<polygon points="189.39,77.19 192.13,78.66 191.96,77.38 189.23,75.90" fill="#aec338" stroke="#aec338"/>
<polygon points="186.32,73.14 189.05,74.63 188.85,73.35 186.12,71.86" fill="#c4c02c" stroke="#c4c02c"/>
<polygon points="168.80,47.69 171.45,49.22 171.05,47.95 168.41,46.42" fill="#f9be37" stroke="#f9be37"/>
<polygon points="192.40,81.22 195.14,82.68 195.01,81.41 192.27,79.94" fill="#56ca7e" stroke="#56ca7e"/>
<polygon points="164.52,41.05 167.14,42.60 166.69,41.33 164.08,39.78" fill="#f4e51f" stroke="#f4e51f"/>
<polygon points="183.19,69.09 185.91,70.58 185.69,69.30 182.97,67.81" fill="#bbc12f" stroke="#bbc12f"/>
<polygon points="176.51,59.69 179.21,61.19 178.91,59.91 176.21,58.41" fill="#fbc037" stroke="#fbc037"/>
<polygon points="172.89,54.33 175.57,55.85 175.23,54.57 172.56,53.05" fill="#fbcc2f" stroke="#fbcc2f"/>
<polygon points="195.35,85.24 198.09,86.70 198.00,85.43 195.25,83.96" fill="#5fca76" stroke="#5fca76"/>
<polygon points="180.01,65.04 182.73,66.53 182.47,65.25 179.76,63.75" fill="#fac037" stroke="#fac037"/>
<polygon points="169.18,48.97 171.83,50.50 171.45,49.22 168.80,47.69" fill="#fbcb30" stroke="#fbcb30"/>
<polygon points="164.95,42.33 167.58,43.87 167.14,42.60 164.52,41.05" fill="#f5e31f" stroke="#f5e31f"/>
<polygon points="186.49,74.43 189.23,75.90 189.05,74.63 186.32,73.14" fill="#dbc02c" stroke="#dbc02c"/>
<polygon points="189.53,78.47 192.27,79.94 192.13,78.66 189.39,77.19" fill="#93c84e" stroke="#93c84e"/>
<polygon points="183.40,70.38 186.12,71.86 185.91,70.58 183.19,69.09" fill="#cac02a" stroke="#cac02a"/>
<polygon points="176.79,60.97 179.49,62.47 179.21,61.19 176.51,59.69" fill="#fad02c" stroke="#fad02c"/>
<polygon points="173.21,55.61 175.90,57.13 175.57,55.85 172.89,54.33" fill="#f9bd38" stroke="#f9bd38"/>
<polygon points="192.51,82.50 195.25,83.96 195.14,82.68 192.40,81.22" fill="#5bca7a" stroke="#5bca7a"/>
<polygon points="180.25,66.32 182.97,67.81 182.73,66.53 180.01,65.04" fill="#eebd34" stroke="#eebd34"/>
<polygon points="165.37,43.60 168.00,45.14 167.58,43.87 164.95,42.33" fill="#f8d825" stroke="#f8d825"/>
<polygon points="169.54,50.25 172.20,51.77 171.83,50.50 169.18,48.97" fill="#f7d925" stroke="#f7d925"/>
<polygon points="195.42,86.52 198.17,87.98 198.09,86.70 195.35,85.24" fill="#7ec85d" stroke="#7ec85d"/>
<polygon points="186.65,75.71 189.39,77.19 189.23,75.90 186.49,74.43" fill="#d2c029" stroke="#d2c029"/>
<polygon points="173.52,56.90 176.21,58.41 175.90,57.13 173.21,55.61" fill="#f6b939" stroke="#f6b939"/>
<polygon points="177.05,62.26 179.76,63.75 179.49,62.47 176.79,60.97" fill="#f8d626" stroke="#f8d626"/>
<polygon points="189.66,79.75 192.40,81.22 192.27,79.94 189.53,78.47" fill="#79c961" stroke="#79c961"/>
<polygon points="183.59,71.66 186.32,73.14 186.12,71.86 183.40,70.38" fill="#eabf31" stroke="#eabf31"/>
<polygon points="165.76,44.88 168.41,46.42 168.00,45.14 165.37,43.60" fill="#fbcb30" stroke="#fbcb30"/>
<polygon points="169.88,51.53 172.56,53.05 172.20,51.77 169.54,50.25" fill="#f7db24" stroke="#f7db24"/>
<polygon points="192.60,83.78 195.35,85.24 195.25,83.96 192.51,82.50" fill="#7dc85e" stroke="#7dc85e"/>
<polygon points="180.47,67.61 183.19,69.09 182.97,67.81 180.25,66.32" fill="#e4c02f" stroke="#e4c02f"/>
<polygon points="173.81,58.18 176.51,59.69 176.21,58.41 173.52,56.90" fill="#fcc336" stroke="#fcc336"/>
<polygon points="195.48,87.80 198.23,89.25 198.17,87.98 195.42,86.52" fill="#7ec85d" stroke="#7ec85d"/>
<polygon points="166.15,46.16 168.80,47.69 168.41,46.42 165.76,44.88" fill="#fbcb30" stroke="#fbcb30"/>
<polygon points="177.30,63.54 180.01,65.04 179.76,63.75 177.05,62.26" fill="#face2d" stroke="#face2d"/>
<polygon points="170.21,52.82 172.89,54.33 172.56,53.05 169.88,51.53" fill="#fad02b" stroke="#fad02b"/>
<polygon points="186.79,77.00 189.53,78.47 189.39,77.19 186.65,75.71" fill="#b0c235" stroke="#b0c235"/>
<polygon points="183.76,72.95 186.49,74.43 186.32,73.14 183.59,71.66" fill="#f4bb37" stroke="#f4bb37"/>
<polygon points="189.77,81.03 192.51,82.50 192.40,81.22 189.66,79.75" fill="#7ec85d" stroke="#7ec85d"/>
<polygon points="180.67,68.89 183.40,70.38 183.19,69.09 180.47,67.61" fill="#ecbe33" stroke="#ecbe33"/>
<polygon points="192.67,85.06 195.42,86.52 195.35,85.24 192.60,83.78" fill="#99c84a" stroke="#99c84a"/>
<polygon points="166.52,47.44 169.18,48.97 168.80,47.69 166.15,46.16" fill="#f8d725" stroke="#f8d725"/>
<polygon points="174.08,59.47 176.79,60.97 176.51,59.69 173.81,58.18" fill="#f9d22a" stroke="#f9d22a"/>
<polygon points="170.53,54.10 173.21,55.61 172.89,54.33 170.21,52.82" fill="#fbc136" stroke="#fbc136"/>
<polygon points="177.53,64.83 180.25,66.32 180.01,65.04 177.30,63.54" fill="#fabe37" stroke="#fabe37"/>
<polygon points="195.52,89.08 198.26,90.53 198.23,89.25 195.48,87.80" fill="#5fca77" stroke="#5fca77"/>
<polygon points="186.92,78.28 189.66,79.75 189.53,78.47 186.79,77.00" fill="#9dc847" stroke="#9dc847"/>
<polygon points="183.91,74.24 186.65,75.71 186.49,74.43 183.76,72.95" fill="#efbd34" stroke="#efbd34"/>
<polygon points="166.87,48.73 169.54,50.25 169.18,48.97 166.52,47.44" fill="#f5e320" stroke="#f5e320"/>
<polygon points="189.86,82.32 192.60,83.78 192.51,82.50 189.77,81.03" fill="#9dc847" stroke="#9dc847"/>
<polygon points="180.86,70.18 183.59,71.66 183.40,70.38 180.67,68.89" fill="#f9be37" stroke="#f9be37"/>
<polygon points="174.34,60.76 177.05,62.26 176.79,60.97 174.08,59.47" fill="#f8d825" stroke="#f8d825"/>
<polygon points="170.83,55.39 173.52,56.90 173.21,55.61 170.53,54.10" fill="#f9bc38" stroke="#f9bc38"/>
<polygon points="192.73,86.34 195.48,87.80 195.42,86.52 192.67,85.06" fill="#99c84a" stroke="#99c84a"/>
<polygon points="177.75,66.12 180.47,67.61 180.25,66.32 177.53,64.83" fill="#f4ba37" stroke="#f4ba37"/>
<polygon points="167.21,50.01 169.88,51.53 169.54,50.25 166.87,48.73" fill="#f4e51f" stroke="#f4e51f"/>
<polygon points="184.05,75.52 186.79,77.00 186.65,75.71 183.91,74.24" fill="#d8c02b" stroke="#d8c02b"/>
<polygon points="187.02,79.57 189.77,81.03 189.66,79.75 186.92,78.28" fill="#a0c744" stroke="#a0c744"/>
<polygon points="181.03,71.47 183.76,72.95 183.59,71.66 180.86,70.18" fill="#fcc832" stroke="#fcc832"/>
<polygon points="195.54,90.36 198.28,91.81 198.26,90.53 195.52,89.08" fill="#44c88d" stroke="#44c88d"/>
<polygon points="174.59,62.05 177.30,63.54 177.05,62.26 174.34,60.76" fill="#fad02b" stroke="#fad02b"/>
<polygon points="171.11,56.68 173.81,58.18 173.52,56.90 170.83,55.39" fill="#fcc733" stroke="#fcc733"/>
<polygon points="189.93,83.60 192.67,85.06 192.60,83.78 189.86,82.32" fill="#b3c233" stroke="#b3c233"/>
<polygon points="177.94,67.41 180.67,68.89 180.47,67.61 177.75,66.12" fill="#f9bc38" stroke="#f9bc38"/>
<polygon points="167.53,51.30 170.21,52.82 169.88,51.53 167.21,50.01" fill="#f7db23" stroke="#f7db23"/>
<polygon points="192.77,87.63 195.52,89.08 195.48,87.80 192.73,86.34" fill="#7cc85e" stroke="#7cc85e"/>
<polygon points="184.17,76.81 186.92,78.28 186.79,77.00 184.05,75.52" fill="#bdc12e" stroke="#bdc12e"/>
<polygon points="171.38,57.97 174.08,59.47 173.81,58.18 171.11,56.68" fill="#f8d626" stroke="#f8d626"/>
<polygon points="174.81,63.34 177.53,64.83 177.30,63.54 174.59,62.05" fill="#fbc136" stroke="#fbc136"/>
<polygon points="187.11,80.86 189.86,82.32 189.77,81.03 187.02,79.57" fill="#b9c130" stroke="#b9c130"/>
<polygon points="181.18,72.76 183.91,74.24 183.76,72.95 181.03,71.47" fill="#fcc435" stroke="#fcc435"/>
<polygon points="167.84,52.59 170.53,54.10 170.21,52.82 167.53,51.30" fill="#face2d" stroke="#face2d"/>
<polygon points="195.54,91.64 198.29,93.08 198.28,91.81 195.54,90.36" fill="#40c790" stroke="#40c790"/>
<polygon points="189.98,84.89 192.73,86.34 192.67,85.06 189.93,83.60" fill="#b2c233" stroke="#b2c233"/>
<polygon points="178.13,68.70 180.86,70.18 180.67,68.89 177.94,67.41" fill="#fbcc2f" stroke="#fbcc2f"/>
<polygon points="171.63,59.26 174.34,60.76 174.08,59.47 171.38,57.97" fill="#f7db23" stroke="#f7db23"/>
<polygon points="192.79,88.91 195.54,90.36 195.52,89.08 192.77,87.63" fill="#5bca7a" stroke="#5bca7a"/>
<polygon points="175.02,64.63 177.75,66.12 177.53,64.83 174.81,63.34" fill="#f6b938" stroke="#f6b938"/>
<polygon points="184.28,78.10 187.02,79.57 186.92,78.28 184.17,76.81" fill="#c2c12d" stroke="#c2c12d"/>
<polygon points="181.31,74.05 184.05,75.52 183.91,74.24 181.18,72.76" fill="#f3bb36" stroke="#f3bb36"/>
<polygon points="168.14,53.88 170.83,55.39 170.53,54.10 167.84,52.59" fill="#fcc931" stroke="#fcc931"/>
<polygon points="187.18,82.14 189.93,83.60 189.86,82.32 187.11,80.86" fill="#d8c02b" stroke="#d8c02b"/>
<polygon points="178.29,69.99 181.03,71.47 180.86,70.18 178.13,68.70" fill="#f8d626" stroke="#f8d626"/>
<polygon points="190.02,86.17 192.77,87.63 192.73,86.34 189.98,84.89" fill="#9dc847" stroke="#9dc847"/>
<polygon points="195.52,92.92 198.27,94.36 198.29,93.08 195.54,91.64" fill="#55ca7e" stroke="#55ca7e"/>
<polygon points="171.87,60.55 174.59,62.05 174.34,60.76 171.63,59.26" fill="#f9d428" stroke="#f9d428"/>
<polygon points="175.22,65.93 177.94,67.41 177.75,66.12 175.02,64.63" fill="#fabf37" stroke="#fabf37"/>
<polygon points="168.41,55.17 171.11,56.68 170.83,55.39 168.14,53.88" fill="#f9d329" stroke="#f9d329"/>
<polygon points="181.43,75.35 184.17,76.81 184.05,75.52 181.31,74.05" fill="#e6c02f" stroke="#e6c02f"/>
<polygon points="184.36,79.40 187.11,80.86 187.02,79.57 184.28,78.10" fill="#e2c02e" stroke="#e2c02e"/>
<polygon points="192.79,90.19 195.54,91.64 195.54,90.36 192.79,88.91" fill="#56ca7d" stroke="#56ca7d"/>
<polygon points="178.44,71.29 181.18,72.76 181.03,71.47 178.29,69.99" fill="#f9d22a" stroke="#f9d22a"/>
<polygon points="187.23,83.43 189.98,84.89 189.93,83.60 187.18,82.14" fill="#d8c02b" stroke="#d8c02b"/>
<polygon points="172.09,61.85 174.81,63.34 174.59,62.05 171.87,60.55" fill="#fdc535" stroke="#fdc535"/>
<polygon points="168.68,56.47 171.38,57.97 171.11,56.68 168.41,55.17" fill="#f5e021" stroke="#f5e021"/>
<polygon points="175.39,67.22 178.13,68.70 177.94,67.41 175.22,65.93" fill="#face2d" stroke="#face2d"/>
<polygon points="190.04,87.46 192.79,88.91 192.77,87.63 190.02,86.17" fill="#7ec85d" stroke="#7ec85d"/>
<polygon points="195.48,94.20 198.23,95.64 198.27,94.36 195.52,92.92" fill="#78c962" stroke="#78c962"/>
<polygon points="181.53,76.64 184.28,78.10 184.17,76.81 181.43,75.35" fill="#e9bf31" stroke="#e9bf31"/>
<polygon points="184.43,80.69 187.18,82.14 187.11,80.86 184.36,79.40" fill="#f2bb36" stroke="#f2bb36"/>
<polygon points="178.57,72.58 181.31,74.05 181.18,72.76 178.44,71.29" fill="#fcc336" stroke="#fcc336"/>
<polygon points="172.30,63.14 175.02,64.63 174.81,63.34 172.09,61.85" fill="#f9bc38" stroke="#f9bc38"/>
<polygon points="192.77,91.48 195.52,92.92 195.54,91.64 192.79,90.19" fill="#72c967" stroke="#72c967"/>
<polygon points="168.92,57.76 171.63,59.26 171.38,57.97 168.68,56.47" fill="#f4e61e" stroke="#f4e61e"/>
<polygon points="187.27,84.72 190.02,86.17 189.98,84.89 187.23,83.43" fill="#b9c130" stroke="#b9c130"/>
<polygon points="175.56,68.52 178.29,69.99 178.13,68.70 175.39,67.22" fill="#f8d825" stroke="#f8d825"/>
<polygon points="190.04,88.75 192.79,90.19 192.79,88.91 190.04,87.46" fill="#79c961" stroke="#79c961"/>
<polygon points="181.62,77.93 184.36,79.40 184.28,78.10 181.53,76.64" fill="#f7b939" stroke="#f7b939"/>
<polygon points="172.49,64.44 175.22,65.93 175.02,64.63 172.30,63.14" fill="#fcc336" stroke="#fcc336"/>
<polygon points="195.43,95.48 198.18,96.92 198.23,95.64 195.48,94.20" fill="#82c85a" stroke="#82c85a"/>
<polygon points="169.16,59.06 171.87,60.55 171.63,59.26 168.92,57.76" fill="#f6df22" stroke="#f6df22"/>
<polygon points="178.69,73.88 181.43,75.35 181.31,74.05 178.57,72.58" fill="#f5ba38" stroke="#f5ba38"/>
<polygon points="184.49,81.98 187.23,83.43 187.18,82.14 184.43,80.69" fill="#f2bb36" stroke="#f2bb36"/>
<polygon points="175.70,69.81 178.44,71.29 178.29,69.99 175.56,68.52" fill="#f9d428" stroke="#f9d428"/>
<polygon points="187.29,86.01 190.04,87.46 190.02,86.17 187.27,84.72" fill="#a0c744" stroke="#a0c744"/>
<polygon points="192.74,92.76 195.48,94.20 195.52,92.92 192.77,91.48" fill="#93c84e" stroke="#93c84e"/>
<polygon points="169.37,60.36 172.09,61.85 171.87,60.55 169.16,59.06" fill="#f9d12a" stroke="#f9d12a"/>
<polygon points="172.66,65.74 175.39,67.22 175.22,65.93 172.49,64.44" fill="#f9d22a" stroke="#f9d22a"/>
<polygon points="190.02,90.04 192.77,91.48 192.79,90.19 190.04,88.75" fill="#93c84e" stroke="#93c84e"/>
<polygon points="181.69,79.23 184.43,80.69 184.36,79.40 181.62,77.93" fill="#fdc634" stroke="#fdc634"/>
<polygon points="178.79,75.18 181.53,76.64 181.43,75.35 178.69,73.88" fill="#f7b939" stroke="#f7b939"/>
<polygon points="184.52,83.27 187.27,84.72 187.23,83.43 184.49,81.98" fill="#e2c02e" stroke="#e2c02e"/>
<polygon points="175.83,71.11 178.57,72.58 178.44,71.29 175.70,69.81" fill="#fdc535" stroke="#fdc535"/>
<polygon points="195.36,96.77 198.10,98.20 198.18,96.92 195.43,95.48" fill="#69c96e" stroke="#69c96e"/>
<polygon points="187.29,87.30 190.04,88.75 190.04,87.46 187.29,86.01" fill="#9dc847" stroke="#9dc847"/>
<polygon points="169.58,61.66 172.30,63.14 172.09,61.85 169.37,60.36" fill="#fcc932" stroke="#fcc932"/>
<polygon points="192.68,94.05 195.43,95.48 195.48,94.20 192.74,92.76" fill="#9cc848" stroke="#9cc848"/>
<polygon points="172.82,67.04 175.56,68.52 175.39,67.22 172.66,65.74" fill="#f7db24" stroke="#f7db24"/>
<polygon points="178.87,76.47 181.62,77.93 181.53,76.64 178.79,75.18" fill="#fcc833" stroke="#fcc833"/>
<polygon points="181.74,80.52 184.49,81.98 184.43,80.69 181.69,79.23" fill="#fdc634" stroke="#fdc634"/>
<polygon points="189.99,91.33 192.74,92.76 192.77,91.48 190.02,90.04" fill="#aec337" stroke="#aec337"/>
<polygon points="175.95,72.41 178.69,73.88 178.57,72.58 175.83,71.11" fill="#f7b939" stroke="#f7b939"/>
<polygon points="184.54,84.57 187.29,86.01 187.27,84.72 184.52,83.27" fill="#c2c12d" stroke="#c2c12d"/>
<polygon points="169.76,62.96 172.49,64.44 172.30,63.14 169.58,61.66" fill="#facf2c" stroke="#facf2c"/>
<polygon points="172.97,68.34 175.70,69.81 175.56,68.52 172.82,67.04" fill="#f8d725" stroke="#f8d725"/>
<polygon points="195.27,98.05 198.01,99.48 198.10,98.20 195.36,96.77" fill="#49c888" stroke="#49c888"/>
<polygon points="187.27,88.60 190.02,90.04 190.04,88.75 187.29,87.30" fill="#b1c235" stroke="#b1c235"/>
<polygon points="192.61,95.33 195.36,96.77 195.43,95.48 192.68,94.05" fill="#86c856" stroke="#86c856"/>
<polygon points="178.94,77.77 181.69,79.23 181.62,77.93 178.87,76.47" fill="#f8d427" stroke="#f8d427"/>
<polygon points="181.77,81.82 184.52,83.27 184.49,81.98 181.74,80.52" fill="#f7b939" stroke="#f7b939"/>
<polygon points="176.05,73.71 178.79,75.18 178.69,73.88 175.95,72.41" fill="#f8bb38" stroke="#f8bb38"/>
<polygon points="169.93,64.26 172.66,65.74 172.49,64.44 169.76,62.96" fill="#f6dd23" stroke="#f6dd23"/>
<polygon points="189.94,92.61 192.68,94.05 192.74,92.76 189.99,91.33" fill="#b5c131" stroke="#b5c131"/>
<polygon points="184.54,85.86 187.29,87.30 187.29,86.01 184.54,84.57" fill="#bdc12e" stroke="#bdc12e"/>
<polygon points="173.09,69.64 175.83,71.11 175.70,69.81 172.97,68.34" fill="#fcc931" stroke="#fcc931"/>
<polygon points="187.24,89.89 189.99,91.33 190.02,90.04 187.27,88.60" fill="#d2c029" stroke="#d2c029"/>
<polygon points="195.16,99.33 197.90,100.76 198.01,99.48 195.27,98.05" fill="#3ec791" stroke="#3ec791"/>
<polygon points="178.99,79.07 181.74,80.52 181.69,79.23 178.94,77.77" fill="#f9d428" stroke="#f9d428"/>
<polygon points="176.13,75.01 178.87,76.47 178.79,75.18 176.05,73.71" fill="#fcca31" stroke="#fcca31"/>
<polygon points="170.09,65.56 172.82,67.04 172.66,65.74 169.93,64.26" fill="#f4e51e" stroke="#f4e51e"/>
<polygon points="181.79,83.12 184.54,84.57 184.52,83.27 181.77,81.82" fill="#e9bf31" stroke="#e9bf31"/>
<polygon points="192.52,96.62 195.27,98.05 195.36,96.77 192.61,95.33" fill="#62ca74" stroke="#62ca74"/>
<polygon points="173.21,70.94 175.95,72.41 175.83,71.11 173.09,69.64" fill="#f9bd38" stroke="#f9bd38"/>
<polygon points="184.52,87.15 187.27,88.60 187.29,87.30 184.54,85.86" fill="#d9c02b" stroke="#d9c02b"/>
<polygon points="189.87,93.90 192.61,95.33 192.68,94.05 189.94,92.61" fill="#a4c641" stroke="#a4c641"/>
<polygon points="170.23,66.87 172.97,68.34 172.82,67.04 170.09,65.56" fill="#f5e220" stroke="#f5e220"/>
<polygon points="179.02,80.37 181.77,81.82 181.74,80.52 178.99,79.07" fill="#fcc733" stroke="#fcc733"/>
<polygon points="187.19,91.18 189.94,92.61 189.99,91.33 187.24,89.89" fill="#dbc02c" stroke="#dbc02c"/>
<polygon points="176.19,76.31 178.94,77.77 178.87,76.47 176.13,75.01" fill="#f8d626" stroke="#f8d626"/>
<polygon points="181.79,84.41 184.54,85.86 184.54,84.57 181.79,83.12" fill="#e6c02f" stroke="#e6c02f"/>
<polygon points="195.03,100.61 197.77,102.04 197.90,100.76 195.16,99.33" fill="#4dc985" stroke="#4dc985"/>
<polygon points="173.30,72.25 176.05,73.71 175.95,72.41 173.21,70.94" fill="#fabf37" stroke="#fabf37"/>
<polygon points="192.41,97.90 195.16,99.33 195.27,98.05 192.52,96.62" fill="#54ca7f" stroke="#54ca7f"/>
<polygon points="184.49,88.45 187.24,89.89 187.27,88.60 184.52,87.15" fill="#f0bc35" stroke="#f0bc35"/>
<polygon points="189.78,95.19 192.52,96.62 192.61,95.33 189.87,93.90" fill="#85c857" stroke="#85c857"/>
<polygon points="170.35,68.17 173.09,69.64 172.97,68.34 170.23,66.87" fill="#f8d527" stroke="#f8d527"/>
<polygon points="176.24,77.62 178.99,79.07 178.94,77.77 176.19,76.31" fill="#f8d626" stroke="#f8d626"/>
<polygon points="179.04,81.67 181.79,83.12 181.77,81.82 179.02,80.37" fill="#f7b939" stroke="#f7b939"/>
<polygon points="187.12,92.47 189.87,93.90 189.94,92.61 187.19,91.18" fill="#c4c02c" stroke="#c4c02c"/>
<polygon points="173.38,73.55 176.13,75.01 176.05,73.71 173.30,72.25" fill="#face2d" stroke="#face2d"/>
<polygon points="181.78,85.71 184.52,87.15 184.54,85.86 181.79,84.41" fill="#f3bb36" stroke="#f3bb36"/>
<polygon points="194.88,101.89 197.62,103.31 197.77,102.04 195.03,100.61" fill="#6fc969" stroke="#6fc969"/>
<polygon points="170.46,69.48 173.21,70.94 173.09,69.64 170.35,68.17" fill="#fcca31" stroke="#fcca31"/>
<polygon points="184.44,89.74 187.19,91.18 187.24,89.89 184.49,88.45" fill="#f4bb37" stroke="#f4bb37"/>
<polygon points="192.29,99.19 195.03,100.61 195.16,99.33 192.41,97.90" fill="#68c96f" stroke="#68c96f"/>
<polygon points="176.28,78.92 179.02,80.37 178.99,79.07 176.24,77.62" fill="#fcc931" stroke="#fcc931"/>
<polygon points="189.67,96.48 192.41,97.90 192.52,96.62 189.78,95.19" fill="#77c963" stroke="#77c963"/>
<polygon points="179.04,82.97 181.79,84.41 181.79,83.12 179.04,81.67" fill="#f5ba38" stroke="#f5ba38"/>
<polygon points="173.45,74.86 176.19,76.31 176.13,75.01 173.38,73.55" fill="#f7da24" stroke="#f7da24"/>
<polygon points="181.74,87.01 184.49,88.45 184.52,87.15 181.78,85.71" fill="#fcc435" stroke="#fcc435"/>
<polygon points="187.03,93.76 189.78,95.19 189.87,93.90 187.12,92.47" fill="#a6c53f" stroke="#a6c53f"/>
<polygon points="170.56,70.78 173.30,72.25 173.21,70.94 170.46,69.48" fill="#fbcc2f" stroke="#fbcc2f"/>
<polygon points="184.37,91.04 187.12,92.47 187.19,91.18 184.44,89.74" fill="#eabf31" stroke="#eabf31"/>
<polygon points="176.29,80.22 179.04,81.67 179.02,80.37 176.28,78.92" fill="#f8bb38" stroke="#f8bb38"/>
<polygon points="194.72,103.18 197.45,104.59 197.62,103.31 194.88,101.89" fill="#82c859" stroke="#82c859"/>
<polygon points="173.49,76.16 176.24,77.62 176.19,76.31 173.45,74.86" fill="#f7da24" stroke="#f7da24"/>
<polygon points="192.14,100.48 194.88,101.89 195.03,100.61 192.29,99.19" fill="#8cc853" stroke="#8cc853"/>
<polygon points="179.03,84.27 181.78,85.71 181.79,84.41 179.04,82.97" fill="#fcc336" stroke="#fcc336"/>
<polygon points="189.55,97.77 192.29,99.19 192.41,97.90 189.67,96.48" fill="#8ac854" stroke="#8ac854"/>
<polygon points="170.64,72.09 173.38,73.55 173.30,72.25 170.56,70.78" fill="#f7d924" stroke="#f7d924"/>
<polygon points="181.69,88.31 184.44,89.74 184.49,88.45 181.74,87.01" fill="#fcc832" stroke="#fcc832"/>
<polygon points="186.93,95.05 189.67,96.48 189.78,95.19 187.03,93.76" fill="#9bc849" stroke="#9bc849"/>
<polygon points="176.29,81.53 179.04,82.97 179.04,81.67 176.29,80.22" fill="#f7b939" stroke="#f7b939"/>
<polygon points="173.53,77.47 176.28,78.92 176.24,77.62 173.49,76.16" fill="#fbcd2e" stroke="#fbcd2e"/>
<polygon points="184.29,92.33 187.03,93.76 187.12,92.47 184.37,91.04" fill="#cac02a" stroke="#cac02a"/>
<polygon points="179.00,85.57 181.74,87.01 181.78,85.71 179.03,84.27" fill="#f9d22a" stroke="#f9d22a"/>
<polygon points="170.70,73.40 173.45,74.86 173.38,73.55 170.64,72.09" fill="#f4e41f" stroke="#f4e41f"/>
<polygon points="194.53,104.46 197.27,105.87 197.45,104.59 194.72,103.18" fill="#73c966" stroke="#73c966"/>
<polygon points="191.98,101.76 194.72,103.18 194.88,101.89 192.14,100.48" fill="#9dc847" stroke="#9dc847"/>
<polygon points="181.63,89.61 184.37,91.04 184.44,89.74 181.69,88.31" fill="#f9bd38" stroke="#f9bd38"/>
<polygon points="189.41,99.06 192.14,100.48 192.29,99.19 189.55,97.77" fill="#a8c53d" stroke="#a8c53d"/>
<polygon points="186.81,96.35 189.55,97.77 189.67,96.48 186.93,95.05" fill="#a9c43c" stroke="#a9c43c"/>
<polygon points="173.54,78.77 176.29,80.22 176.28,78.92 173.53,77.47" fill="#fabf37" stroke="#fabf37"/>
<polygon points="176.28,82.83 179.03,84.27 179.04,82.97 176.29,81.53" fill="#fdc535" stroke="#fdc535"/>
<polygon points="170.75,74.71 173.49,76.16 173.45,74.86 170.70,73.40" fill="#f5e41f" stroke="#f5e41f"/>
<polygon points="184.19,93.63 186.93,95.05 187.03,93.76 184.29,92.33" fill="#bbc12f" stroke="#bbc12f"/>
<polygon points="178.95,86.87 181.69,88.31 181.74,87.01 179.00,85.57" fill="#f8d626" stroke="#f8d626"/>
<polygon points="181.54,90.90 184.29,92.33 184.37,91.04 181.63,89.61" fill="#ecbe33" stroke="#ecbe33"/>
<polygon points="191.80,103.04 194.53,104.46 194.72,103.18 191.98,101.76" fill="#8fc851" stroke="#8fc851"/>
<polygon points="194.33,105.74 197.06,107.15 197.27,105.87 194.53,104.46" fill="#50c982" stroke="#50c982"/>
<polygon points="189.25,100.34 191.98,101.76 192.14,100.48 189.41,99.06" fill="#b6c131" stroke="#b6c131"/>
<polygon points="173.54,80.08 176.29,81.53 176.29,80.22 173.54,78.77" fill="#f9bd38" stroke="#f9bd38"/>
<polygon points="176.25,84.13 179.00,85.57 179.03,84.27 176.28,82.83" fill="#f9d428" stroke="#f9d428"/>
<polygon points="170.78,76.02 173.53,77.47 173.49,76.16 170.75,74.71" fill="#f7d924" stroke="#f7d924"/>
<polygon points="186.67,97.64 189.41,99.06 189.55,97.77 186.81,96.35" fill="#cac02a" stroke="#cac02a"/>
<polygon points="178.88,88.17 181.63,89.61 181.69,88.31 178.95,86.87" fill="#fbcc2f" stroke="#fbcc2f"/>
<polygon points="184.07,94.92 186.81,96.35 186.93,95.05 184.19,93.63" fill="#cfc028" stroke="#cfc028"/>
<polygon points="181.44,92.20 184.19,93.63 184.29,92.33 181.54,90.90" fill="#e4c02f" stroke="#e4c02f"/>
<polygon points="173.53,81.39 176.28,82.83 176.29,81.53 173.54,80.08" fill="#fcc931" stroke="#fcc931"/>
<polygon points="170.79,77.33 173.54,78.77 173.53,77.47 170.78,76.02" fill="#fbcc2f" stroke="#fbcc2f"/>
<polygon points="176.20,85.44 178.95,86.87 179.00,85.57 176.25,84.13" fill="#f8d825" stroke="#f8d825"/>
<polygon points="191.60,104.33 194.33,105.74 194.53,104.46 191.80,103.04" fill="#6bc96c" stroke="#6bc96c"/>
<polygon points="189.07,101.63 191.80,103.04 191.98,101.76 189.25,100.34" fill="#abc43b" stroke="#abc43b"/>
<polygon points="194.11,107.02 196.84,108.42 197.06,107.15 194.33,105.74" fill="#3ec791" stroke="#3ec791"/>
<polygon points="186.51,98.93 189.25,100.34 189.41,99.06 186.67,97.64" fill="#dcc02c" stroke="#dcc02c"/>
<polygon points="178.80,89.48 181.54,90.90 181.63,89.61 178.88,88.17" fill="#f9bc38" stroke="#f9bc38"/>
<polygon points="183.93,96.22 186.67,97.64 186.81,96.35 184.07,94.92" fill="#ecbe32" stroke="#ecbe32"/>
<polygon points="173.50,82.69 176.25,84.13 176.28,82.83 173.53,81.39" fill="#f8d725" stroke="#f8d725"/>
<polygon points="170.80,78.64 173.54,80.08 173.54,78.77 170.79,77.33" fill="#fcca31" stroke="#fcca31"/>
<polygon points="181.33,93.50 184.07,94.92 184.19,93.63 181.44,92.20" fill="#efbd34" stroke="#efbd34"/>
<polygon points="176.14,86.74 178.88,88.17 178.95,86.87 176.20,85.44" fill="#face2d" stroke="#face2d"/>
<polygon points="178.70,90.78 181.44,92.20 181.54,90.90 178.80,89.48" fill="#f4ba37" stroke="#f4ba37"/>
<polygon points="188.88,102.92 191.60,104.33 191.80,103.04 189.07,101.63" fill="#8ec852" stroke="#8ec852"/>
<polygon points="191.39,105.61 194.11,107.02 194.33,105.74 191.60,104.33" fill="#55ca7f" stroke="#55ca7f"/>
<polygon points="186.34,100.22 189.07,101.63 189.25,100.34 186.51,98.93" fill="#cdc029" stroke="#cdc029"/>
<polygon points="193.87,108.30 196.59,109.70 196.84,108.42 194.11,107.02" fill="#47c88a" stroke="#47c88a"/>
<polygon points="183.78,97.51 186.51,98.93 186.67,97.64 183.93,96.22" fill="#f4ba37" stroke="#f4ba37"/>
<polygon points="170.78,79.95 173.53,81.39 173.54,80.08 170.80,78.64" fill="#f8d527" stroke="#f8d527"/>
<polygon points="173.45,84.00 176.20,85.44 176.25,84.13 173.50,82.69" fill="#f7db24" stroke="#f7db24"/>
<polygon points="176.06,88.05 178.80,89.48 178.88,88.17 176.14,86.74" fill="#fabe37" stroke="#fabe37"/>
<polygon points="181.19,94.80 183.93,96.22 184.07,94.92 181.33,93.50" fill="#fbc037" stroke="#fbc037"/>
<polygon points="178.59,92.08 181.33,93.50 181.44,92.20 178.70,90.78" fill="#fabf37" stroke="#fabf37"/>
<polygon points="170.75,81.26 173.50,82.69 173.53,81.39 170.78,79.95" fill="#f5e220" stroke="#f5e220"/>
<polygon points="188.67,104.21 191.39,105.61 191.60,104.33 188.88,102.92" fill="#77c963" stroke="#77c963"/>
<polygon points="173.39,85.31 176.14,86.74 176.20,85.44 173.45,84.00" fill="#f9d22a" stroke="#f9d22a"/>
<polygon points="186.15,101.51 188.88,102.92 189.07,101.63 186.34,100.22" fill="#acc339" stroke="#acc339"/>
<polygon points="191.16,106.90 193.87,108.30 194.11,107.02 191.39,105.61" fill="#5fca76" stroke="#5fca76"/>
<polygon points="183.61,98.81 186.34,100.22 186.51,98.93 183.78,97.51" fill="#edbd33" stroke="#edbd33"/>
<polygon points="193.62,109.58 196.33,110.98 196.59,109.70 193.87,108.30" fill="#65c971" stroke="#65c971"/>
<polygon points="175.96,89.35 178.70,90.78 178.80,89.48 176.06,88.05" fill="#f6b938" stroke="#f6b938"/>
<polygon points="181.04,96.10 183.78,97.51 183.93,96.22 181.19,94.80" fill="#fcc832" stroke="#fcc832"/>
<polygon points="170.71,82.57 173.45,84.00 173.50,82.69 170.75,81.26" fill="#f4e51e" stroke="#f4e51e"/>
<polygon points="178.46,93.38 181.19,94.80 181.33,93.50 178.59,92.08" fill="#face2d" stroke="#face2d"/>
<polygon points="173.31,86.62 176.06,88.05 176.14,86.74 173.39,85.31" fill="#fcc336" stroke="#fcc336"/>
<polygon points="185.94,102.80 188.67,104.21 188.88,102.92 186.15,101.51" fill="#9bc848" stroke="#9bc848"/>
<polygon points="188.44,105.49 191.16,106.90 191.39,105.61 188.67,104.21" fill="#82c859" stroke="#82c859"/>
<polygon points="175.85,90.66 178.59,92.08 178.70,90.78 175.96,89.35" fill="#fbc136" stroke="#fbc136"/>
<polygon points="183.42,100.10 186.15,101.51 186.34,100.22 183.61,98.81" fill="#d3c029" stroke="#d3c029"/>
<polygon points="190.90,108.18 193.62,109.58 193.87,108.30 191.16,106.90" fill="#83c859" stroke="#83c859"/>
<polygon points="180.88,97.39 183.61,98.81 183.78,97.51 181.04,96.10" fill="#fbc236" stroke="#fbc236"/>
<polygon points="193.34,110.86 196.05,112.25 196.33,110.98 193.62,109.58" fill="#80c85b" stroke="#80c85b"/>
<polygon points="170.64,83.88 173.39,85.31 173.45,84.00 170.71,82.57" fill="#f6dd23" stroke="#f6dd23"/>
<polygon points="178.31,94.68 181.04,96.10 181.19,94.80 178.46,93.38" fill="#f8d626" stroke="#f8d626"/>
<polygon points="173.22,87.93 175.96,89.35 176.06,88.05 173.31,86.62" fill="#f9bc38" stroke="#f9bc38"/>
<polygon points="175.72,91.96 178.46,93.38 178.59,92.08 175.85,90.66" fill="#fad02b" stroke="#fad02b"/>
<polygon points="185.72,104.09 188.44,105.49 188.67,104.21 185.94,102.80" fill="#a3c641" stroke="#a3c641"/>
<polygon points="183.22,101.39 185.94,102.80 186.15,101.51 183.42,100.10" fill="#bbc12f" stroke="#bbc12f"/>
<polygon points="188.19,106.78 190.90,108.18 191.16,106.90 188.44,105.49" fill="#a1c743" stroke="#a1c743"/>
<polygon points="170.57,85.19 173.31,86.62 173.39,85.31 170.64,83.88" fill="#facf2c" stroke="#facf2c"/>
<polygon points="180.69,98.69 183.42,100.10 183.61,98.81 180.88,97.39" fill="#f0bc35" stroke="#f0bc35"/>
<polygon points="190.63,109.46 193.34,110.86 193.62,109.58 190.90,108.18" fill="#9bc848" stroke="#9bc848"/>
<polygon points="173.11,89.23 175.85,90.66 175.96,89.35 173.22,87.93" fill="#fdc535" stroke="#fdc535"/>
<polygon points="178.15,95.98 180.88,97.39 181.04,96.10 178.31,94.68" fill="#fad02c" stroke="#fad02c"/>
<polygon points="193.05,112.13 195.76,113.53 196.05,112.25 193.34,110.86" fill="#7ac860" stroke="#7ac860"/>
<polygon points="175.58,93.26 178.31,94.68 178.46,93.38 175.72,91.96" fill="#f8d825" stroke="#f8d825"/>
<polygon points="170.48,86.50 173.22,87.93 173.31,86.62 170.57,85.19" fill="#fcc932" stroke="#fcc932"/>
<polygon points="183.00,102.69 185.72,104.09 185.94,102.80 183.22,101.39" fill="#c7c02b" stroke="#c7c02b"/>
<polygon points="185.47,105.38 188.19,106.78 188.44,105.49 185.72,104.09" fill="#c0c12d" stroke="#c0c12d"/>
<polygon points="180.49,99.99 183.22,101.39 183.42,100.10 180.69,98.69" fill="#e5c02f" stroke="#e5c02f"/>
<polygon points="172.98,90.54 175.72,91.96 175.85,90.66 173.11,89.23" fill="#f9d428" stroke="#f9d428"/>
<polygon points="187.92,108.06 190.63,109.46 190.90,108.18 188.19,106.78" fill="#b4c132" stroke="#b4c132"/>
<polygon points="177.97,97.28 180.69,98.69 180.88,97.39 178.15,95.98" fill="#fbc037" stroke="#fbc037"/>
<polygon points="190.35,110.74 193.05,112.13 193.34,110.86 190.63,109.46" fill="#96c84c" stroke="#96c84c"/>
<polygon points="175.42,94.57 178.15,95.98 178.31,94.68 175.58,93.26" fill="#f9d22a" stroke="#f9d22a"/>
<polygon points="192.74,113.41 195.44,114.80 195.76,113.53 193.05,112.13" fill="#58ca7c" stroke="#58ca7c"/>
<polygon points="170.37,87.81 173.11,89.23 173.22,87.93 170.48,86.50" fill="#f9d12a" stroke="#f9d12a"/>
<polygon points="172.84,91.85 175.58,93.26 175.72,91.96 172.98,90.54" fill="#f7db23" stroke="#f7db23"/>
<polygon points="182.76,103.98 185.47,105.38 185.72,104.09 183.00,102.69" fill="#e8c030" stroke="#e8c030"/>
<polygon points="180.28,101.28 183.00,102.69 183.22,101.39 180.49,99.99" fill="#ebbf32" stroke="#ebbf32"/>
<polygon points="185.21,106.67 187.92,108.06 188.19,106.78 185.47,105.38" fill="#dac02b" stroke="#dac02b"/>
<polygon points="177.77,98.58 180.49,99.99 180.69,98.69 177.97,97.28" fill="#f4ba37" stroke="#f4ba37"/>
<polygon points="187.64,109.35 190.35,110.74 190.63,109.46 187.92,108.06" fill="#b0c236" stroke="#b0c236"/>
<polygon points="170.25,89.12 172.98,90.54 173.11,89.23 170.37,87.81" fill="#f6df22" stroke="#f6df22"/>
<polygon points="175.24,95.87 177.97,97.28 178.15,95.98 175.42,94.57" fill="#fcc236" stroke="#fcc236"/>
<polygon points="190.04,112.02 192.74,113.41 193.05,112.13 190.35,110.74" fill="#76c964" stroke="#76c964"/>
<polygon points="172.68,93.15 175.42,94.57 175.58,93.26 172.84,91.85" fill="#f8d626" stroke="#f8d626"/>
<polygon points="192.41,114.69 195.10,116.07 195.44,114.80 192.74,113.41" fill="#41c78f" stroke="#41c78f"/>
<polygon points="180.04,102.58 182.76,103.98 183.00,102.69 180.28,101.28" fill="#f8bc38" stroke="#f8bc38"/>
<polygon points="182.50,105.27 185.21,106.67 185.47,105.38 182.76,103.98" fill="#f3bb37" stroke="#f3bb37"/>
<polygon points="177.56,99.88 180.28,101.28 180.49,99.99 177.77,98.58" fill="#f8bb38" stroke="#f8bb38"/>
<polygon points="184.94,107.95 187.64,109.35 187.92,108.06 185.21,106.67" fill="#d5c02a" stroke="#d5c02a"/>
<polygon points="170.11,90.43 172.84,91.85 172.98,90.54 170.25,89.12" fill="#f4e61e" stroke="#f4e61e"/>
<polygon points="175.05,97.17 177.77,98.58 177.97,97.28 175.24,95.87" fill="#f6b939" stroke="#f6b939"/>
<polygon points="187.34,110.63 190.04,112.02 190.35,110.74 187.64,109.35" fill="#97c84b" stroke="#97c84b"/>
<polygon points="172.51,94.46 175.24,95.87 175.42,94.57 172.68,93.15" fill="#fdc734" stroke="#fdc734"/>
<polygon points="189.72,113.30 192.41,114.69 192.74,113.41 190.04,112.02" fill="#58ca7c" stroke="#58ca7c"/>
<polygon points="169.95,91.74 172.68,93.15 172.84,91.85 170.11,90.43" fill="#f5e021" stroke="#f5e021"/>
<polygon points="179.79,103.87 182.50,105.27 182.76,103.98 180.04,102.58" fill="#fcc833" stroke="#fcc833"/>
<polygon points="192.06,115.96 194.75,117.34 195.10,116.07 192.41,114.69" fill="#42c78e" stroke="#42c78e"/>
<polygon points="177.33,101.18 180.04,102.58 180.28,101.28 177.56,99.88" fill="#fcca31" stroke="#fcca31"/>
<polygon points="182.23,106.56 184.94,107.95 185.21,106.67 182.50,105.27" fill="#f1bc35" stroke="#f1bc35"/>
<polygon points="174.84,98.48 177.56,99.88 177.77,98.58 175.05,97.17" fill="#f9bd38" stroke="#f9bd38"/>
<polygon points="184.64,109.24 187.34,110.63 187.64,109.35 184.94,107.95" fill="#b3c132" stroke="#b3c132"/>
<polygon points="172.32,95.77 175.05,97.17 175.24,95.87 172.51,94.46" fill="#f9bc38" stroke="#f9bc38"/>
<polygon points="187.02,111.91 189.72,113.30 190.04,112.02 187.34,110.63" fill="#7bc860" stroke="#7bc860"/>
<polygon points="169.78,93.05 172.51,94.46 172.68,93.15 169.95,91.74" fill="#f9d329" stroke="#f9d329"/>
<polygon points="189.38,114.58 192.06,115.96 192.41,114.69 189.72,113.30" fill="#58ca7c" stroke="#58ca7c"/>
<polygon points="177.08,102.48 179.79,103.87 180.04,102.58 177.33,101.18" fill="#f8d527" stroke="#f8d527"/>
<polygon points="179.53,105.17 182.23,106.56 182.50,105.27 179.79,103.87" fill="#fdc535" stroke="#fdc535"/>
<polygon points="174.61,99.78 177.33,101.18 177.56,99.88 174.84,98.48" fill="#fbcc2f" stroke="#fbcc2f"/>
<polygon points="181.94,107.85 184.64,109.24 184.94,107.95 182.23,106.56" fill="#dcc02c" stroke="#dcc02c"/>
<polygon points="191.70,117.23 194.38,118.61 194.75,117.34 192.06,115.96" fill="#5aca7a" stroke="#5aca7a"/>
<polygon points="172.12,97.07 174.84,98.48 175.05,97.17 172.32,95.77" fill="#fbc136" stroke="#fbc136"/>
<polygon points="184.33,110.52 187.02,111.91 187.34,110.63 184.64,109.24" fill="#9ec746" stroke="#9ec746"/>
<polygon points="169.60,94.36 172.32,95.77 172.51,94.46 169.78,93.05" fill="#fcc931" stroke="#fcc931"/>
<polygon points="186.69,113.19 189.38,114.58 189.72,113.30 187.02,111.91" fill="#7cc85f" stroke="#7cc85f"/>
<polygon points="176.82,103.77 179.53,105.17 179.79,103.87 177.08,102.48" fill="#f9d329" stroke="#f9d329"/>
<polygon points="174.37,101.08 177.08,102.48 177.33,101.18 174.61,99.78" fill="#f8d725" stroke="#f8d725"/>
<polygon points="179.24,106.46 181.94,107.85 182.23,106.56 179.53,105.17" fill="#f4ba37" stroke="#f4ba37"/>
<polygon points="189.02,115.85 191.70,117.23 192.06,115.96 189.38,114.58" fill="#78c962" stroke="#78c962"/>
<polygon points="171.90,98.38 174.61,99.78 174.84,98.48 172.12,97.07" fill="#fad02b" stroke="#fad02b"/>
<polygon points="181.64,109.14 184.33,110.52 184.64,109.24 181.94,107.85" fill="#bfc12e" stroke="#bfc12e"/>
<polygon points="169.40,95.67 172.12,97.07 172.32,95.77 169.60,94.36" fill="#face2d" stroke="#face2d"/>
<polygon points="184.00,111.81 186.69,113.19 187.02,111.91 184.33,110.52" fill="#9fc745" stroke="#9fc745"/>
<polygon points="191.32,118.50 193.99,119.88 194.38,118.61 191.70,117.23" fill="#7cc85f" stroke="#7cc85f"/>
<polygon points="186.34,114.47 189.02,115.85 189.38,114.58 186.69,113.19" fill="#99c84a" stroke="#99c84a"/>
<polygon points="174.12,102.38 176.82,103.77 177.08,102.48 174.37,101.08" fill="#f8d527" stroke="#f8d527"/>
<polygon points="176.54,105.07 179.24,106.46 179.53,105.17 176.82,103.77" fill="#fdc535" stroke="#fdc535"/>
<polygon points="171.66,99.68 174.37,101.08 174.61,99.78 171.90,98.38" fill="#f7db24" stroke="#f7db24"/>
<polygon points="178.94,107.75 181.64,109.14 181.94,107.85 179.24,106.46" fill="#e8c030" stroke="#e8c030"/>
<polygon points="188.64,117.13 191.32,118.50 191.70,117.23 189.02,115.85" fill="#97c84b" stroke="#97c84b"/>
<polygon points="169.18,96.98 171.90,98.38 172.12,97.07 169.40,95.67" fill="#f7db23" stroke="#f7db23"/>
<polygon points="181.31,110.43 184.00,111.81 184.33,110.52 181.64,109.14" fill="#c0c12d" stroke="#c0c12d"/>
<polygon points="183.66,113.09 186.34,114.47 186.69,113.19 184.00,111.81" fill="#b5c131" stroke="#b5c131"/>
<polygon points="190.91,119.78 193.58,121.15 193.99,119.88 191.32,118.50" fill="#80c85c" stroke="#80c85c"/>
<polygon points="173.85,103.68 176.54,105.07 176.82,103.77 174.12,102.38" fill="#fcc733" stroke="#fcc733"/>
<polygon points="176.25,106.36 178.94,107.75 179.24,106.46 176.54,105.07" fill="#f6ba38" stroke="#f6ba38"/>
<polygon points="171.41,100.99 174.12,102.38 174.37,101.08 171.66,99.68" fill="#f7d825" stroke="#f7d825"/>
<polygon points="185.97,115.75 188.64,117.13 189.02,115.85 186.34,114.47" fill="#b1c235" stroke="#b1c235"/>
<polygon points="178.63,109.04 181.31,110.43 181.64,109.14 178.94,107.75" fill="#e8c030" stroke="#e8c030"/>
<polygon points="168.95,98.29 171.66,99.68 171.90,98.38 169.18,96.98" fill="#f4e51f" stroke="#f4e51f"/>
<polygon points="180.98,111.71 183.66,113.09 184.00,111.81 181.31,110.43" fill="#dec02d" stroke="#dec02d"/>
<polygon points="188.25,118.40 190.91,119.78 191.32,118.50 188.64,117.13" fill="#9bc849" stroke="#9bc849"/>
<polygon points="183.29,114.37 185.97,115.75 186.34,114.47 183.66,113.09" fill="#d6c02a" stroke="#d6c02a"/>
<polygon points="173.56,104.98 176.25,106.36 176.54,105.07 173.85,103.68" fill="#f7ba39" stroke="#f7ba39"/>
<polygon points="171.15,102.29 173.85,103.68 174.12,102.38 171.41,100.99" fill="#fbcb30" stroke="#fbcb30"/>
<polygon points="175.94,107.66 178.63,109.04 178.94,107.75 176.25,106.36" fill="#f6b938" stroke="#f6b938"/>
<polygon points="168.71,99.59 171.41,100.99 171.66,99.68 168.95,98.29" fill="#f5e320" stroke="#f5e320"/>
<polygon points="190.49,121.05 193.15,122.42 193.58,121.15 190.91,119.78" fill="#63ca73" stroke="#63ca73"/>
<polygon points="178.29,110.33 180.98,111.71 181.31,110.43 178.63,109.04" fill="#f5ba38" stroke="#f5ba38"/>
<polygon points="185.58,117.03 188.25,118.40 188.64,117.13 185.97,115.75" fill="#b4c132" stroke="#b4c132"/>
<polygon points="180.62,113.00 183.29,114.37 183.66,113.09 180.98,111.71" fill="#f1bc35" stroke="#f1bc35"/>
<polygon points="170.86,103.59 173.56,104.98 173.85,103.68 171.15,102.29" fill="#f9be37" stroke="#f9be37"/>
<polygon points="187.84,119.68 190.49,121.05 190.91,119.78 188.25,118.40" fill="#81c85b" stroke="#81c85b"/>
<polygon points="173.25,106.28 175.94,107.66 176.25,106.36 173.56,104.98" fill="#f8ba39" stroke="#f8ba39"/>
<polygon points="168.45,100.90 171.15,102.29 171.41,100.99 168.71,99.59" fill="#f8d726" stroke="#f8d726"/>
<polygon points="182.91,115.66 185.58,117.03 185.97,115.75 183.29,114.37" fill="#d9c02b" stroke="#d9c02b"/>
<polygon points="175.61,108.95 178.29,110.33 178.63,109.04 175.94,107.66" fill="#fdc634" stroke="#fdc634"/>
<polygon points="177.95,111.62 180.62,113.00 180.98,111.71 178.29,110.33" fill="#fdc635" stroke="#fdc635"/>
<polygon points="185.18,118.31 187.84,119.68 188.25,118.40 185.58,117.03" fill="#a0c745" stroke="#a0c745"/>
<polygon points="190.06,122.31 192.71,123.68 193.15,122.42 190.49,121.05" fill="#46c88b" stroke="#46c88b"/>
<polygon points="180.25,114.28 182.91,115.66 183.29,114.37 180.62,113.00" fill="#f3bb36" stroke="#f3bb36"/>
<polygon points="170.57,104.89 173.25,106.28 173.56,104.98 170.86,103.59" fill="#fabe37" stroke="#fabe37"/>
<polygon points="168.17,102.20 170.86,103.59 171.15,102.29 168.45,100.90" fill="#fbca30" stroke="#fbca30"/>
<polygon points="172.93,107.57 175.61,108.95 175.94,107.66 173.25,106.28" fill="#fcc833" stroke="#fcc833"/>
<polygon points="175.27,110.24 177.95,111.62 178.29,110.33 175.61,108.95" fill="#f9d328" stroke="#f9d328"/>
<polygon points="187.41,120.95 190.06,122.31 190.49,121.05 187.84,119.68" fill="#5eca77" stroke="#5eca77"/>
<polygon points="182.52,116.94 185.18,118.31 185.58,117.03 182.91,115.66" fill="#bec12e" stroke="#bec12e"/>
<polygon points="177.58,112.91 180.25,114.28 180.62,113.00 177.95,111.62" fill="#fcc733" stroke="#fcc733"/>
<polygon points="167.88,103.51 170.57,104.89 170.86,103.59 168.17,102.20" fill="#fbcb30" stroke="#fbcb30"/>
<polygon points="170.25,106.19 172.93,107.57 173.25,106.28 170.57,104.89" fill="#fbcc2f" stroke="#fbcc2f"/>
<polygon points="184.75,119.58 187.41,120.95 187.84,119.68 185.18,118.31" fill="#81c85b" stroke="#81c85b"/>
<polygon points="179.86,115.57 182.52,116.94 182.91,115.66 180.25,114.28" fill="#e6c02f" stroke="#e6c02f"/>
<polygon points="172.60,108.87 175.27,110.24 175.61,108.95 172.93,107.57" fill="#f8d527" stroke="#f8d527"/>
<polygon points="189.60,123.58 192.25,124.94 192.71,123.68 190.06,122.31" fill="#3fc791" stroke="#3fc791"/>
<polygon points="174.91,111.54 177.58,112.91 177.95,111.62 175.27,110.24" fill="#f8d527" stroke="#f8d527"/>
<polygon points="182.10,118.21 184.75,119.58 185.18,118.31 182.52,116.94" fill="#a2c642" stroke="#a2c642"/>
<polygon points="186.96,122.22 189.60,123.58 190.06,122.31 187.41,120.95" fill="#55ca7e" stroke="#55ca7e"/>
<polygon points="177.20,114.20 179.86,115.57 180.25,114.28 177.58,112.91" fill="#f8bb38" stroke="#f8bb38"/>
<polygon points="167.57,104.81 170.25,106.19 170.57,104.89 167.88,103.51" fill="#f8d825" stroke="#f8d825"/>
<polygon points="169.92,107.49 172.60,108.87 172.93,107.57 170.25,106.19" fill="#f7d925" stroke="#f7d925"/>
<polygon points="172.25,110.16 174.91,111.54 175.27,110.24 172.60,108.87" fill="#f8d726" stroke="#f8d726"/>
<polygon points="179.45,116.85 182.10,118.21 182.52,116.94 179.86,115.57" fill="#c5c02c" stroke="#c5c02c"/>
<polygon points="184.32,120.85 186.96,122.22 187.41,120.95 184.75,119.58" fill="#78c962" stroke="#78c962"/>
<polygon points="174.54,112.83 177.20,114.20 177.58,112.91 174.91,111.54" fill="#fcc931" stroke="#fcc931"/>
<polygon points="189.13,124.84 191.77,126.20 192.25,124.94 189.60,123.58" fill="#52c981" stroke="#52c981"/>
<polygon points="167.25,106.11 169.92,107.49 170.25,106.19 167.57,104.81" fill="#f5e31f" stroke="#f5e31f"/>
<polygon points="169.58,108.79 172.25,110.16 172.60,108.87 169.92,107.49" fill="#f7da24" stroke="#f7da24"/>
<polygon points="181.67,119.49 184.32,120.85 184.75,119.58 182.10,118.21" fill="#9cc848" stroke="#9cc848"/>
<polygon points="176.80,115.48 179.45,116.85 179.86,115.57 177.20,114.20" fill="#eabf31" stroke="#eabf31"/>
<polygon points="186.50,123.48 189.13,124.84 189.60,123.58 186.96,122.22" fill="#6dc96a" stroke="#6dc96a"/>
<polygon points="171.88,111.46 174.54,112.83 174.91,111.54 172.25,110.16" fill="#fbcb2f" stroke="#fbcb2f"/>
<polygon points="179.03,118.13 181.67,119.49 182.10,118.21 179.45,116.85" fill="#bcc12f" stroke="#bcc12f"/>
<polygon points="174.15,114.11 176.80,115.48 177.20,114.20 174.54,112.83" fill="#f8ba39" stroke="#f8ba39"/>
<polygon points="183.86,122.13 186.50,123.48 186.96,122.22 184.32,120.85" fill="#8fc850" stroke="#8fc850"/>
<polygon points="166.91,107.42 169.58,108.79 169.92,107.49 167.25,106.11" fill="#f4e51f" stroke="#f4e51f"/>
<polygon points="169.22,110.09 171.88,111.46 172.25,110.16 169.58,108.79" fill="#facf2c" stroke="#facf2c"/>
<polygon points="188.64,126.11 191.27,127.46 191.77,126.20 189.13,124.84" fill="#74c965" stroke="#74c965"/>
<polygon points="176.39,116.76 179.03,118.13 179.45,116.85 176.80,115.48" fill="#e5c02f" stroke="#e5c02f"/>
<polygon points="181.23,120.77 183.86,122.13 184.32,120.85 181.67,119.49" fill="#adc338" stroke="#adc338"/>
<polygon points="171.50,112.75 174.15,114.11 174.54,112.83 171.88,111.46" fill="#f9bc38" stroke="#f9bc38"/>
<polygon points="186.01,124.75 188.64,126.11 189.13,124.84 186.50,123.48" fill="#90c850" stroke="#90c850"/>
<polygon points="166.56,108.72 169.22,110.09 169.58,108.79 166.91,107.42" fill="#f7db24" stroke="#f7db24"/>
<polygon points="173.74,115.40 176.39,116.76 176.80,115.48 174.15,114.11" fill="#f4ba37" stroke="#f4ba37"/>
<polygon points="178.59,119.41 181.23,120.77 181.67,119.49 179.03,118.13" fill="#d5c02a" stroke="#d5c02a"/>
<polygon points="168.85,111.38 171.50,112.75 171.88,111.46 169.22,110.09" fill="#fbc136" stroke="#fbc136"/>
<polygon points="183.39,123.40 186.01,124.75 186.50,123.48 183.86,122.13" fill="#acc43a" stroke="#acc43a"/>
<polygon points="175.96,118.05 178.59,119.41 179.03,118.13 176.39,116.76" fill="#f1bc35" stroke="#f1bc35"/>
<polygon points="171.10,114.04 173.74,115.40 174.15,114.11 171.50,112.75" fill="#f6b939" stroke="#f6b939"/>
<polygon points="180.76,122.04 183.39,123.40 183.86,122.13 181.23,120.77" fill="#cfc028" stroke="#cfc028"/>
<polygon points="188.13,127.37 190.75,128.72 191.27,127.46 188.64,126.11" fill="#82c859" stroke="#82c859"/>
<polygon points="166.19,110.01 168.85,111.38 169.22,110.09 166.56,108.72" fill="#fbcd2e" stroke="#fbcd2e"/>
<polygon points="173.32,116.69 175.96,118.05 176.39,116.76 173.74,115.40" fill="#fbc136" stroke="#fbc136"/>
<polygon points="168.46,112.68 171.10,114.04 171.50,112.75 168.85,111.38" fill="#f9bd38" stroke="#f9bd38"/>
<polygon points="185.52,126.02 188.13,127.37 188.64,126.11 186.01,124.75" fill="#9dc847" stroke="#9dc847"/>
<polygon points="178.14,120.68 180.76,122.04 181.23,120.77 178.59,119.41" fill="#eebd34" stroke="#eebd34"/>
<polygon points="170.69,115.33 173.32,116.69 173.74,115.40 171.10,114.04" fill="#fcc336" stroke="#fcc336"/>
<polygon points="182.90,124.66 185.52,126.02 186.01,124.75 183.39,123.40" fill="#b6c131" stroke="#b6c131"/>
<polygon points="175.51,119.33 178.14,120.68 178.59,119.41 175.96,118.05" fill="#fcc236" stroke="#fcc236"/>
<polygon points="165.81,111.31 168.46,112.68 168.85,111.38 166.19,110.01" fill="#fcc931" stroke="#fcc931"/>
<polygon points="180.28,123.31 182.90,124.66 183.39,123.40 180.76,122.04" fill="#dcc02c" stroke="#dcc02c"/>
<polygon points="168.05,113.97 170.69,115.33 171.10,114.04 168.46,112.68" fill="#fcc733" stroke="#fcc733"/>
<polygon points="172.88,117.97 175.51,119.33 175.96,118.05 173.32,116.69" fill="#fad02b" stroke="#fad02b"/>
<polygon points="187.61,128.63 190.21,129.98 190.75,128.72 188.13,127.37" fill="#6dc96b" stroke="#6dc96b"/>
<polygon points="177.66,121.96 180.28,123.31 180.76,122.04 178.14,120.68" fill="#f4ba37" stroke="#f4ba37"/>
<polygon points="185.00,127.28 187.61,128.63 188.13,127.37 185.52,126.02" fill="#8ac854" stroke="#8ac854"/>
<polygon points="170.26,116.62 172.88,117.97 173.32,116.69 170.69,115.33" fill="#f9d229" stroke="#f9d229"/>
<polygon points="165.42,112.61 168.05,113.97 168.46,112.68 165.81,111.31" fill="#f9d428" stroke="#f9d428"/>
<polygon points="175.05,120.61 177.66,121.96 178.14,120.68 175.51,119.33" fill="#fcc832" stroke="#fcc832"/>
<polygon points="182.39,125.93 185.00,127.28 185.52,126.02 182.90,124.66" fill="#a7c53e" stroke="#a7c53e"/>
<polygon points="167.63,115.26 170.26,116.62 170.69,115.33 168.05,113.97" fill="#f8d626" stroke="#f8d626"/>
<polygon points="172.43,119.25 175.05,120.61 175.51,119.33 172.88,117.97" fill="#f8d626" stroke="#f8d626"/>
<polygon points="179.78,124.58 182.39,125.93 182.90,124.66 180.28,123.31" fill="#c8c02b" stroke="#c8c02b"/>
<polygon points="165.00,113.90 167.63,115.26 168.05,113.97 165.42,112.61" fill="#f5e121" stroke="#f5e121"/>
<polygon points="177.18,123.23 179.78,124.58 180.28,123.31 177.66,121.96" fill="#ebbe32" stroke="#ebbe32"/>
<polygon points="187.06,129.88 189.66,131.23 190.21,129.98 187.61,128.63" fill="#4cc986" stroke="#4cc986"/>
<polygon points="169.81,117.90 172.43,119.25 172.88,117.97 170.26,116.62" fill="#f8d825" stroke="#f8d825"/>
<polygon points="184.47,128.54 187.06,129.88 187.61,128.63 185.00,127.28" fill="#66c971" stroke="#66c971"/>
<polygon points="174.57,121.88 177.18,123.23 177.66,121.96 175.05,120.61" fill="#fabf37" stroke="#fabf37"/>
<polygon points="167.20,116.55 169.81,117.90 170.26,116.62 167.63,115.26" fill="#f7db23" stroke="#f7db23"/>
<polygon points="181.87,127.19 184.47,128.54 185.00,127.28 182.39,125.93" fill="#89c855" stroke="#89c855"/>
<polygon points="171.96,120.53 174.57,121.88 175.05,120.61 172.43,119.25" fill="#fbcd2e" stroke="#fbcd2e"/>
<polygon points="164.58,115.20 167.20,116.55 167.63,115.26 165.00,113.90" fill="#f4e61e" stroke="#f4e61e"/>
<polygon points="179.27,125.85 181.87,127.19 182.39,125.93 179.78,124.58" fill="#a8c53d" stroke="#a8c53d"/>
<polygon points="169.35,119.19 171.96,120.53 172.43,119.25 169.81,117.90" fill="#fad02c" stroke="#fad02c"/>
<polygon points="176.67,124.50 179.27,125.85 179.78,124.58 177.18,123.23" fill="#cec029" stroke="#cec029"/>
<polygon points="166.74,117.84 169.35,119.19 169.81,117.90 167.20,116.55" fill="#f9d328" stroke="#f9d328"/>
<polygon points="186.50,131.14 189.09,132.48 189.66,131.23 187.06,129.88" fill="#3ec791" stroke="#3ec791"/>
<polygon points="174.07,123.16 176.67,124.50 177.18,123.23 174.57,121.88" fill="#eebd33" stroke="#eebd33"/>
<polygon points="183.92,129.80 186.50,131.14 187.06,129.88 184.47,128.54" fill="#54ca7f" stroke="#54ca7f"/>
<polygon points="164.14,116.49 166.74,117.84 167.20,116.55 164.58,115.20" fill="#f6de22" stroke="#f6de22"/>
<polygon points="171.48,121.81 174.07,123.16 174.57,121.88 171.96,120.53" fill="#f9be37" stroke="#f9be37"/>
<polygon points="181.33,128.46 183.92,129.80 184.47,128.54 181.87,127.19" fill="#76c963" stroke="#76c963"/>
<polygon points="168.88,120.47 171.48,121.81 171.96,120.53 169.35,119.19" fill="#fbc037" stroke="#fbc037"/>
<polygon points="178.74,127.12 181.33,128.46 181.87,127.19 179.27,125.85" fill="#9bc849" stroke="#9bc849"/>
<polygon points="166.28,119.12 168.88,120.47 169.35,119.19 166.74,117.84" fill="#fdc435" stroke="#fdc435"/>
<polygon points="176.15,125.77 178.74,127.12 179.27,125.85 176.67,124.50" fill="#bbc12f" stroke="#bbc12f"/>
<polygon points="173.56,124.43 176.15,125.77 176.67,124.50 174.07,123.16" fill="#e4c02f" stroke="#e4c02f"/>
<polygon points="163.68,117.78 166.28,119.12 166.74,117.84 164.14,116.49" fill="#fad02b" stroke="#fad02b"/>
<polygon points="170.97,123.09 173.56,124.43 174.07,123.16 171.48,121.81" fill="#f4ba37" stroke="#f4ba37"/>
<polygon points="185.93,132.39 188.50,133.73 189.09,132.48 186.50,131.14" fill="#4bc887" stroke="#4bc887"/>
<polygon points="183.35,131.06 185.93,132.39 186.50,131.14 183.92,129.80" fill="#64c972" stroke="#64c972"/>
<polygon points="168.39,121.75 170.97,123.09 171.48,121.81 168.88,120.47" fill="#f6ba38" stroke="#f6ba38"/>
<polygon points="180.77,129.72 183.35,131.06 183.92,129.80 181.33,128.46" fill="#87c856" stroke="#87c856"/>
<polygon points="165.80,120.41 168.39,121.75 168.88,120.47 166.28,119.12" fill="#f9bc38" stroke="#f9bc38"/>
<polygon points="178.19,128.38 180.77,129.72 181.33,128.46 178.74,127.12" fill="#a7c53e" stroke="#a7c53e"/>
<polygon points="163.21,119.07 165.80,120.41 166.28,119.12 163.68,117.78" fill="#fcc932" stroke="#fcc932"/>
<polygon points="175.61,127.04 178.19,128.38 178.74,127.12 176.15,125.77" fill="#ccc029" stroke="#ccc029"/>
<polygon points="173.04,125.70 175.61,127.04 176.15,125.77 173.56,124.43" fill="#edbe33" stroke="#edbe33"/>
<polygon points="170.46,124.37 173.04,125.70 173.56,124.43 170.97,123.09" fill="#f9bd38" stroke="#f9bd38"/>
<polygon points="167.88,123.03 170.46,124.37 170.97,123.09 168.39,121.75" fill="#fabf37" stroke="#fabf37"/>
<polygon points="165.30,121.69 167.88,123.03 168.39,121.75 165.80,120.41" fill="#fcc336" stroke="#fcc336"/>
<polygon points="185.33,133.64 187.90,134.98 188.50,133.73 185.93,132.39" fill="#6bc96c" stroke="#6bc96c"/>
<polygon points="182.76,132.31 185.33,133.64 185.93,132.39 183.35,131.06" fill="#88c855" stroke="#88c855"/>
<polygon points="162.73,120.35 165.30,121.69 165.80,120.41 163.21,119.07" fill="#fad02c" stroke="#fad02c"/>
<polygon points="180.20,130.98 182.76,132.31 183.35,131.06 180.77,129.72" fill="#a5c53f" stroke="#a5c53f"/>
<polygon points="177.63,129.64 180.20,130.98 180.77,129.72 178.19,128.38" fill="#c6c02b" stroke="#c6c02b"/>
<polygon points="175.06,128.31 177.63,129.64 178.19,128.38 175.61,127.04" fill="#eabf31" stroke="#eabf31"/>
<polygon points="172.49,126.97 175.06,128.31 175.61,127.04 173.04,125.70" fill="#fabe37" stroke="#fabe37"/>
<polygon points="169.93,125.64 172.49,126.97 173.04,125.70 170.46,124.37" fill="#fbcd2e" stroke="#fbcd2e"/>
<polygon points="167.36,124.31 169.93,125.64 170.46,124.37 167.88,123.03" fill="#facf2d" stroke="#facf2d"/>
<polygon points="164.79,122.97 167.36,124.31 167.88,123.03 165.30,121.69" fill="#f9d329" stroke="#f9d329"/>
<polygon points="162.23,121.64 164.79,122.97 165.30,121.69 162.73,120.35" fill="#f6dd22" stroke="#f6dd22"/>
<polygon points="184.72,134.89 187.27,136.22 187.90,134.98 185.33,133.64" fill="#82c85a" stroke="#82c85a"/>
<polygon points="182.16,133.56 184.72,134.89 185.33,133.64 182.76,132.31" fill="#9dc847" stroke="#9dc847"/>
<polygon points="179.61,132.23 182.16,133.56 182.76,132.31 180.20,130.98" fill="#b6c131" stroke="#b6c131"/>
<polygon points="177.05,130.90 179.61,132.23 180.20,130.98 177.63,129.64" fill="#dcc02c" stroke="#dcc02c"/>
<polygon points="174.49,129.57 177.05,130.90 177.63,129.64 175.06,128.31" fill="#f4bb37" stroke="#f4bb37"/>
<polygon points="171.94,128.24 174.49,129.57 175.06,128.31 172.49,126.97" fill="#fcc832" stroke="#fcc832"/>
<polygon points="169.38,126.91 171.94,128.24 172.49,126.97 169.93,125.64" fill="#f8d626" stroke="#f8d626"/>
<polygon points="166.82,125.58 169.38,126.91 169.93,125.64 167.36,124.31" fill="#f8d825" stroke="#f8d825"/>
<polygon points="164.27,124.25 166.82,125.58 167.36,124.31 164.79,122.97" fill="#f7db23" stroke="#f7db23"/>
<polygon points="161.71,122.92 164.27,124.25 164.79,122.97 162.23,121.64" fill="#f4e51e" stroke="#f4e51e"/>
<polygon points="161.18,124.20 163.73,125.53 164.27,124.25 161.71,122.92" fill="#f5e120" stroke="#f5e120"/>
<polygon points="163.73,125.53 166.27,126.85 166.82,125.58 164.27,124.25" fill="#f8d726" stroke="#f8d726"/>
<polygon points="166.27,126.85 168.82,128.18 169.38,126.91 166.82,125.58" fill="#f9d329" stroke="#f9d329"/>
<polygon points="168.82,128.18 171.36,129.51 171.94,128.24 169.38,126.91" fill="#f9d12a" stroke="#f9d12a"/>
<polygon points="171.36,129.51 173.91,130.83 174.49,129.57 171.94,128.24" fill="#fcc336" stroke="#fcc336"/>
<polygon points="173.91,130.83 176.45,132.16 177.05,130.90 174.49,129.57" fill="#efbd34" stroke="#efbd34"/>
<polygon points="176.45,132.16 179.00,133.49 179.61,132.23 177.05,130.90" fill="#d1c028" stroke="#d1c028"/>
<polygon points="179.00,133.49 181.54,134.81 182.16,133.56 179.61,132.23" fill="#adc338" stroke="#adc338"/>
<polygon points="181.54,134.81 184.09,136.14 184.72,134.89 182.16,133.56" fill="#92c84f" stroke="#92c84f"/>
<polygon points="184.09,136.14 186.63,137.47 187.27,136.22 184.72,134.89" fill="#76c963" stroke="#76c963"/>
<polygon points="160.64,125.48 163.17,126.80 163.73,125.53 161.18,124.20" fill="#f8d527" stroke="#f8d527"/>
<polygon points="163.17,126.80 165.71,128.13 166.27,126.85 163.73,125.53" fill="#fcc832" stroke="#fcc832"/>
<polygon points="165.71,128.13 168.24,129.45 168.82,128.18 166.27,126.85" fill="#fdc435" stroke="#fdc435"/>
<polygon points="168.24,129.45 170.77,130.77 171.36,129.51 168.82,128.18" fill="#fcc236" stroke="#fcc236"/>
<polygon points="170.77,130.77 173.31,132.09 173.91,130.83 171.36,129.51" fill="#f2bb36" stroke="#f2bb36"/>
<polygon points="173.31,132.09 175.84,133.42 176.45,132.16 173.91,130.83" fill="#d7c02a" stroke="#d7c02a"/>
<polygon points="175.84,133.42 178.38,134.74 179.00,133.49 176.45,132.16" fill="#afc336" stroke="#afc336"/>
<polygon points="178.38,134.74 180.91,136.06 181.54,134.81 179.00,133.49" fill="#92c84f" stroke="#92c84f"/>
<polygon points="180.91,136.06 183.44,137.38 184.09,136.14 181.54,134.81" fill="#70c969" stroke="#70c969"/>
<polygon points="183.44,137.38 185.98,138.71 186.63,137.47 184.09,136.14" fill="#54c980" stroke="#54c980"/>
<polygon points="160.08,126.76 162.60,128.08 163.17,126.80 160.64,125.48" fill="#fcc931" stroke="#fcc931"/>
<polygon points="162.60,128.08 165.13,129.39 165.71,128.13 163.17,126.80" fill="#f9bd38" stroke="#f9bd38"/>
<polygon points="165.13,129.39 167.65,130.71 168.24,129.45 165.71,128.13" fill="#f7b939" stroke="#f7b939"/>
<polygon points="167.65,130.71 170.17,132.03 170.77,130.77 168.24,129.45" fill="#f5ba38" stroke="#f5ba38"/>
<polygon points="170.17,132.03 172.69,133.35 173.31,132.09 170.77,130.77" fill="#e6c02f" stroke="#e6c02f"/>
<polygon points="172.69,133.35 175.21,134.67 175.84,133.42 173.31,132.09" fill="#bcc12f" stroke="#bcc12f"/>
<polygon points="175.21,134.67 177.74,135.99 178.38,134.74 175.84,133.42" fill="#9cc848" stroke="#9cc848"/>
<polygon points="159.51,128.03 162.02,129.35 162.60,128.08 160.08,126.76" fill="#fbcc2f" stroke="#fbcc2f"/>
<polygon points="177.74,135.99 180.26,137.31 180.91,136.06 178.38,134.74" fill="#78c962" stroke="#78c962"/>
<polygon points="180.26,137.31 182.78,138.63 183.44,137.38 180.91,136.06" fill="#56ca7e" stroke="#56ca7e"/>
<polygon points="162.02,129.35 164.53,130.66 165.13,129.39 162.60,128.08" fill="#fac037" stroke="#fac037"/>
<polygon points="182.78,138.63 185.30,139.94 185.98,138.71 183.44,137.38" fill="#3fc790" stroke="#3fc790"/>
<polygon points="164.53,130.66 167.04,131.98 167.65,130.71 165.13,129.39" fill="#f8bc38" stroke="#f8bc38"/>
<polygon points="167.04,131.98 169.55,133.29 170.17,132.03 167.65,130.71" fill="#f7b939" stroke="#f7b939"/>
<polygon points="169.55,133.29 172.06,134.61 172.69,133.35 170.17,132.03" fill="#eabf31" stroke="#eabf31"/>
<polygon points="158.93,129.30 161.42,130.62 162.02,129.35 159.51,128.03" fill="#f7da24" stroke="#f7da24"/>
<polygon points="172.06,134.61 174.57,135.92 175.21,134.67 172.69,133.35" fill="#c4c02c" stroke="#c4c02c"/>
<polygon points="161.42,130.62 163.92,131.93 164.53,130.66 162.02,129.35" fill="#face2d" stroke="#face2d"/>
<polygon points="174.57,135.92 177.08,137.23 177.74,135.99 175.21,134.67" fill="#a1c743" stroke="#a1c743"/>
<polygon points="177.08,137.23 179.59,138.55 180.26,137.31 177.74,135.99" fill="#7fc85c" stroke="#7fc85c"/>
<polygon points="163.92,131.93 166.42,133.24 167.04,131.98 164.53,130.66" fill="#fbca30" stroke="#fbca30"/>
<polygon points="179.59,138.55 182.10,139.86 182.78,138.63 180.26,137.31" fill="#5cca79" stroke="#5cca79"/>
<polygon points="166.42,133.24 168.91,134.55 169.55,133.29 167.04,131.98" fill="#fcc832" stroke="#fcc832"/>
<polygon points="182.10,139.86 184.61,141.18 185.30,139.94 182.78,138.63" fill="#45c88c" stroke="#45c88c"/>
<polygon points="158.33,130.57 160.81,131.88 161.42,130.62 158.93,129.30" fill="#f4e41f" stroke="#f4e41f"/>
<polygon points="168.91,134.55 171.41,135.86 172.06,134.61 169.55,133.29" fill="#f7ba39" stroke="#f7ba39"/>
<polygon points="160.81,131.88 163.29,133.19 163.92,131.93 161.42,130.62" fill="#f7da24" stroke="#f7da24"/>
<polygon points="171.41,135.86 173.91,137.17 174.57,135.92 172.06,134.61" fill="#e4c02f" stroke="#e4c02f"/>
<polygon points="163.29,133.19 165.78,134.49 166.42,133.24 163.92,131.93" fill="#f8d726" stroke="#f8d726"/>
<polygon points="173.91,137.17 176.41,138.48 177.08,137.23 174.57,135.92" fill="#bbc12f" stroke="#bbc12f"/>
<polygon points="157.71,131.84 160.18,133.15 160.81,131.88 158.33,130.57" fill="#f5e41f" stroke="#f5e41f"/>
<polygon points="176.41,138.48 178.90,139.79 179.59,138.55 177.08,137.23" fill="#9ec746" stroke="#9ec746"/>
<polygon points="165.78,134.49 168.26,135.80 168.91,134.55 166.42,133.24" fill="#f8d527" stroke="#f8d527"/>
<polygon points="178.90,139.79 181.40,141.10 182.10,139.86 179.59,138.55" fill="#7ec85d" stroke="#7ec85d"/>
<polygon points="160.18,133.15 162.66,134.45 163.29,133.19 160.81,131.88" fill="#f7d924" stroke="#f7d924"/>
<polygon points="168.26,135.80 170.75,137.11 171.41,135.86 168.91,134.55" fill="#fcc733" stroke="#fcc733"/>
<polygon points="181.40,141.10 183.90,142.41 184.61,141.18 182.10,139.86" fill="#61ca75" stroke="#61ca75"/>
<polygon points="170.75,137.11 173.23,138.41 173.91,137.17 171.41,135.86" fill="#f2bb36" stroke="#f2bb36"/>
<polygon points="162.66,134.45 165.13,135.75 165.78,134.49 163.29,133.19" fill="#f8d626" stroke="#f8d626"/>
<polygon points="157.08,133.11 159.54,134.41 160.18,133.15 157.71,131.84" fill="#f7d825" stroke="#f7d825"/>
<polygon points="173.23,138.41 175.72,139.72 176.41,138.48 173.91,137.17" fill="#d9c02b" stroke="#d9c02b"/>
<polygon points="165.13,135.75 167.60,137.05 168.26,135.80 165.78,134.49" fill="#f9d428" stroke="#f9d428"/>
<polygon points="159.54,134.41 162.00,135.70 162.66,134.45 160.18,133.15" fill="#fbcd2e" stroke="#fbcd2e"/>
<polygon points="175.72,139.72 178.20,141.03 178.90,139.79 176.41,138.48" fill="#b3c233" stroke="#b3c233"/>
<polygon points="167.60,137.05 170.07,138.35 170.75,137.11 168.26,135.80" fill="#fdc634" stroke="#fdc634"/>
<polygon points="178.20,141.03 180.69,142.33 181.40,141.10 178.90,139.79" fill="#9ac849" stroke="#9ac849"/>
<polygon points="156.44,134.37 158.89,135.66 159.54,134.41 157.08,133.11" fill="#fbcb2f" stroke="#fbcb2f"/>
<polygon points="162.00,135.70 164.46,137.00 165.13,135.75 162.66,134.45" fill="#fcc932" stroke="#fcc932"/>
<polygon points="170.07,138.35 172.54,139.66 173.23,138.41 170.75,137.11" fill="#f2bb36" stroke="#f2bb36"/>
<polygon points="180.69,142.33 183.17,143.64 183.90,142.41 181.40,141.10" fill="#7fc85c" stroke="#7fc85c"/>
<polygon points="164.46,137.00 166.92,138.30 167.60,137.05 165.13,135.75" fill="#fdc734" stroke="#fdc734"/>
<polygon points="158.89,135.66 161.33,136.96 162.00,135.70 159.54,134.41" fill="#fabf37" stroke="#fabf37"/>
<polygon points="172.54,139.66 175.01,140.96 175.72,139.72 173.23,138.41" fill="#d7c02a" stroke="#d7c02a"/>
<polygon points="155.79,135.63 158.22,136.92 158.89,135.66 156.44,134.37" fill="#fcca31" stroke="#fcca31"/>
<polygon points="166.92,138.30 169.38,139.60 170.07,138.35 167.60,137.05" fill="#f6b939" stroke="#f6b939"/>
<polygon points="175.01,140.96 177.48,142.26 178.20,141.03 175.72,139.72" fill="#b2c234" stroke="#b2c234"/>
<polygon points="161.33,136.96 163.78,138.25 164.46,137.00 162.00,135.70" fill="#f8bb38" stroke="#f8bb38"/>
<polygon points="177.48,142.26 179.96,143.56 180.69,142.33 178.20,141.03" fill="#98c84a" stroke="#98c84a"/>
<polygon points="169.38,139.60 171.83,140.90 172.54,139.66 170.07,138.35" fill="#e0c02d" stroke="#e0c02d"/>
<polygon points="158.22,136.92 160.65,138.21 161.33,136.96 158.89,135.66" fill="#f9bd38" stroke="#f9bd38"/>
<polygon points="163.78,138.25 166.22,139.55 166.92,138.30 164.46,137.00" fill="#f6b939" stroke="#f6b939"/>
<polygon points="155.12,136.89 157.54,138.17 158.22,136.92 155.79,135.63" fill="#f8d626" stroke="#f8d626"/>
<polygon points="179.96,143.56 182.43,144.87 183.17,143.64 180.69,142.33" fill="#7dc85e" stroke="#7dc85e"/>
<polygon points="171.83,140.90 174.29,142.20 175.01,140.96 172.54,139.66" fill="#b7c130" stroke="#b7c130"/>
<polygon points="160.65,138.21 163.08,139.50 163.78,138.25 161.33,136.96" fill="#f7b939" stroke="#f7b939"/>
<polygon points="166.22,139.55 168.67,140.84 169.38,139.60 166.92,138.30" fill="#e9c030" stroke="#e9c030"/>
<polygon points="174.29,142.20 176.75,143.49 177.48,142.26 175.01,140.96" fill="#9bc849" stroke="#9bc849"/>
<polygon points="157.54,138.17 159.95,139.46 160.65,138.21 158.22,136.92" fill="#fcca31" stroke="#fcca31"/>
<polygon points="154.44,138.14 156.84,139.42 157.54,138.17 155.12,136.89" fill="#f5e220" stroke="#f5e220"/>
<polygon points="168.67,140.84 171.11,142.14 171.83,140.90 169.38,139.60" fill="#c1c12d" stroke="#c1c12d"/>
<polygon points="163.08,139.50 165.51,140.79 166.22,139.55 163.78,138.25" fill="#f5ba38" stroke="#f5ba38"/>
<polygon points="176.75,143.49 179.21,144.79 179.96,143.56 177.48,142.26" fill="#7ac860" stroke="#7ac860"/>
<polygon points="159.95,139.46 162.37,140.75 163.08,139.50 160.65,138.21" fill="#fdc634" stroke="#fdc634"/>
<polygon points="171.11,142.14 173.56,143.43 174.29,142.20 171.83,140.90" fill="#a0c745" stroke="#a0c745"/>
<polygon points="165.51,140.79 167.94,142.08 168.67,140.84 166.22,139.55" fill="#e7c030" stroke="#e7c030"/>
<polygon points="179.21,144.79 181.67,146.09 182.43,144.87 179.96,143.56" fill="#5dca78" stroke="#5dca78"/>
<polygon points="156.84,139.42 159.24,140.71 159.95,139.46 157.54,138.17" fill="#f8d825" stroke="#f8d825"/>
<polygon points="153.74,139.40 156.13,140.67 156.84,139.42 154.44,138.14" fill="#f4e51e" stroke="#f4e51e"/>
<polygon points="173.56,143.43 176.00,144.72 176.75,143.49 174.29,142.20" fill="#7dc85e" stroke="#7dc85e"/>
<polygon points="162.37,140.75 164.78,142.03 165.51,140.79 163.08,139.50" fill="#fcc435" stroke="#fcc435"/>
<polygon points="167.94,142.08 170.37,143.37 171.11,142.14 168.67,140.84" fill="#bec12e" stroke="#bec12e"/>
<polygon points="159.24,140.71 161.64,141.99 162.37,140.75 159.95,139.46" fill="#f9d428" stroke="#f9d428"/>
<polygon points="176.00,144.72 178.44,146.02 179.21,144.79 176.75,143.49" fill="#5aca7b" stroke="#5aca7b"/>
<polygon points="156.13,140.67 158.51,141.95 159.24,140.71 156.84,139.42" fill="#f7db24" stroke="#f7db24"/>
<polygon points="153.03,140.65 155.40,141.92 156.13,140.67 153.74,139.40" fill="#f6dc23" stroke="#f6dc23"/>
<polygon points="164.78,142.03 167.20,143.32 167.94,142.08 165.51,140.79" fill="#f3bb37" stroke="#f3bb37"/>
<polygon points="170.37,143.37 172.80,144.66 173.56,143.43 171.11,142.14" fill="#9dc847" stroke="#9dc847"/>
<polygon points="178.44,146.02 180.89,147.31 181.67,146.09 179.21,144.79" fill="#43c88d" stroke="#43c88d"/>
<polygon points="161.64,141.99 164.04,143.27 164.78,142.03 162.37,140.75" fill="#f9d229" stroke="#f9d229"/>
<polygon points="172.80,144.66 175.23,145.95 176.00,144.72 173.56,143.43" fill="#7ac861" stroke="#7ac861"/>
<polygon points="158.51,141.95 160.90,143.23 161.64,141.99 159.24,140.71" fill="#f8d725" stroke="#f8d725"/>
<polygon points="167.20,143.32 169.62,144.60 170.37,143.37 167.94,142.08" fill="#dac02b" stroke="#dac02b"/>
<polygon points="152.31,141.89 154.66,143.16 155.40,141.92 153.03,140.65" fill="#face2d" stroke="#face2d"/>
<polygon points="155.40,141.92 157.77,143.19 158.51,141.95 156.13,140.67" fill="#f9d12a" stroke="#f9d12a"/>
<polygon points="164.04,143.27 166.45,144.55 167.20,143.32 164.78,142.03" fill="#fdc435" stroke="#fdc435"/>
<polygon points="175.23,145.95 177.66,147.24 178.44,146.02 176.00,144.72" fill="#57ca7d" stroke="#57ca7d"/>
<polygon points="169.62,144.60 172.03,145.89 172.80,144.66 170.37,143.37" fill="#b2c234" stroke="#b2c234"/>
<polygon points="160.90,143.23 163.29,144.50 164.04,143.27 161.64,141.99" fill="#f8d626" stroke="#f8d626"/>
<polygon points="151.57,143.14 153.91,144.40 154.66,143.16 152.31,141.89" fill="#fcc932" stroke="#fcc932"/>
<polygon points="157.77,143.19 160.15,144.46 160.90,143.23 158.51,141.95" fill="#fbcd2e" stroke="#fbcd2e"/>
<polygon points="154.66,143.16 157.02,144.43 157.77,143.19 155.40,141.92" fill="#fbc236" stroke="#fbc236"/>
<polygon points="177.66,147.24 180.09,148.53 180.89,147.31 178.44,146.02" fill="#40c78f" stroke="#40c78f"/>
<polygon points="166.45,144.55 168.85,145.83 169.62,144.60 167.20,143.32" fill="#f0bc35" stroke="#f0bc35"/>
<polygon points="172.03,145.89 174.45,147.17 175.23,145.95 172.80,144.66" fill="#95c84d" stroke="#95c84d"/>
<polygon points="163.29,144.50 165.68,145.78 166.45,144.55 164.04,143.27" fill="#fcc833" stroke="#fcc833"/>
<polygon points="150.82,144.38 153.15,145.64 153.91,144.40 151.57,143.14" fill="#f9d22a" stroke="#f9d22a"/>
<polygon points="160.15,144.46 162.52,145.73 163.29,144.50 160.90,143.23" fill="#fbcb30" stroke="#fbcb30"/>
<polygon points="153.91,144.40 156.25,145.66 157.02,144.43 154.66,143.16" fill="#f9bc38" stroke="#f9bc38"/>
<polygon points="168.85,145.83 171.25,147.11 172.03,145.89 169.62,144.60" fill="#d3c029" stroke="#d3c029"/>
<polygon points="157.02,144.43 159.38,145.70 160.15,144.46 157.77,143.19" fill="#f9be37" stroke="#f9be37"/>
<polygon points="174.45,147.17 176.87,148.46 177.66,147.24 175.23,145.95" fill="#74c965" stroke="#74c965"/>
<polygon points="165.68,145.78 168.06,147.06 168.85,145.83 166.45,144.55" fill="#f3bb37" stroke="#f3bb37"/>
<polygon points="150.06,145.61 152.37,146.87 153.15,145.64 150.82,144.38" fill="#f6df21" stroke="#f6df21"/>
<polygon points="171.25,147.11 173.65,148.39 174.45,147.17 172.03,145.89" fill="#afc337" stroke="#afc337"/>
<polygon points="176.87,148.46 179.28,149.74 180.09,148.53 177.66,147.24" fill="#56ca7d" stroke="#56ca7d"/>
<polygon points="162.52,145.73 164.89,147.01 165.68,145.78 163.29,144.50" fill="#f9bd38" stroke="#f9bd38"/>
<polygon points="153.15,145.64 155.47,146.89 156.25,145.66 153.91,144.40" fill="#fdc634" stroke="#fdc634"/>
<polygon points="159.38,145.70 161.73,146.96 162.52,145.73 160.15,144.46" fill="#f8bc38" stroke="#f8bc38"/>
<polygon points="156.25,145.66 158.59,146.92 159.38,145.70 157.02,144.43" fill="#f6b938" stroke="#f6b938"/>
<polygon points="168.06,147.06 170.45,148.33 171.25,147.11 168.85,145.83" fill="#dbc02c" stroke="#dbc02c"/>
<polygon points="149.28,146.85 151.58,148.10 152.37,146.87 150.06,145.61" fill="#f4e61e" stroke="#f4e61e"/>
<polygon points="173.65,148.39 176.05,149.67 176.87,148.46 174.45,147.17" fill="#95c84d" stroke="#95c84d"/>
<polygon points="164.89,147.01 167.26,148.28 168.06,147.06 165.68,145.78" fill="#e9c031" stroke="#e9c031"/>
<polygon points="152.37,146.87 154.68,148.12 155.47,146.89 153.15,145.64" fill="#f8d527" stroke="#f8d527"/>
<polygon points="161.73,146.96 164.09,148.23 164.89,147.01 162.52,145.73" fill="#ecbe32" stroke="#ecbe32"/>
<polygon points="155.47,146.89 157.80,148.15 158.59,146.92 156.25,145.66" fill="#fbc236" stroke="#fbc236"/>
<polygon points="158.59,146.92 160.94,148.19 161.73,146.96 159.38,145.70" fill="#f4ba37" stroke="#f4ba37"/>
<polygon points="170.45,148.33 172.84,149.61 173.65,148.39 171.25,147.11" fill="#b5c131" stroke="#b5c131"/>
<polygon points="148.49,148.08 150.77,149.32 151.58,148.10 149.28,146.85" fill="#f6e021" stroke="#f6e021"/>
<polygon points="176.05,149.67 178.46,150.95 179.28,149.74 176.87,148.46" fill="#79c961" stroke="#79c961"/>
<polygon points="167.26,148.28 169.64,149.55 170.45,148.33 168.06,147.06" fill="#c2c12d" stroke="#c2c12d"/>
<polygon points="151.58,148.10 153.87,149.35 154.68,148.12 152.37,146.87" fill="#f7db23" stroke="#f7db23"/>
<polygon points="164.09,148.23 166.45,149.50 167.26,148.28 164.89,147.01" fill="#c8c02b" stroke="#c8c02b"/>
<polygon points="172.84,149.61 175.23,150.89 176.05,149.67 173.65,148.39" fill="#9cc848" stroke="#9cc848"/>
<polygon points="154.68,148.12 156.99,149.38 157.80,148.15 155.47,146.89" fill="#fad12b" stroke="#fad12b"/>
<polygon points="147.69,149.31 149.95,150.55 150.77,149.32 148.49,148.08" fill="#f9d229" stroke="#f9d229"/>
<polygon points="160.94,148.19 163.28,149.45 164.09,148.23 161.73,146.96" fill="#e4c02f" stroke="#e4c02f"/>
<polygon points="157.80,148.15 160.12,149.41 160.94,148.19 158.59,146.92" fill="#fabf37" stroke="#fabf37"/>
<polygon points="169.64,149.55 172.01,150.82 172.84,149.61 170.45,148.33" fill="#a3c642" stroke="#a3c642"/>
<polygon points="150.77,149.32 153.05,150.57 153.87,149.35 151.58,148.10" fill="#f8d527" stroke="#f8d527"/>
<polygon points="175.23,150.89 177.61,152.16 178.46,150.95 176.05,149.67" fill="#81c85a" stroke="#81c85a"/>
<polygon points="146.88,150.53 149.12,151.77 149.95,150.55 147.69,149.31" fill="#fcc932" stroke="#fcc932"/>
<polygon points="166.45,149.50 168.81,150.77 169.64,149.55 167.26,148.28" fill="#a5c640" stroke="#a5c640"/>
<polygon points="153.87,149.35 156.16,150.60 156.99,149.38 154.68,148.12" fill="#f8d825" stroke="#f8d825"/>
<polygon points="163.28,149.45 165.62,150.71 166.45,149.50 164.09,148.23" fill="#bbc12f" stroke="#bbc12f"/>
<polygon points="156.99,149.38 159.30,150.63 160.12,149.41 157.80,148.15" fill="#facf2c" stroke="#facf2c"/>
<polygon points="160.12,149.41 162.45,150.67 163.28,149.45 160.94,148.19" fill="#efbd34" stroke="#efbd34"/>
<polygon points="172.01,150.82 174.38,152.10 175.23,150.89 172.84,149.61" fill="#85c857" stroke="#85c857"/>
<polygon points="149.95,150.55 152.21,151.79 153.05,150.57 150.77,149.32" fill="#fdc634" stroke="#fdc634"/>
<polygon points="146.05,151.76 148.28,152.98 149.12,151.77 146.88,150.53" fill="#face2d" stroke="#face2d"/>
<polygon points="168.81,150.77 171.16,152.03 172.01,150.82 169.64,149.55" fill="#84c858" stroke="#84c858"/>
<polygon points="153.05,150.57 155.32,151.81 156.16,150.60 153.87,149.35" fill="#f9d12a" stroke="#f9d12a"/>
<polygon points="165.62,150.71 167.96,151.98 168.81,150.77 166.45,149.50" fill="#9bc849" stroke="#9bc849"/>
<polygon points="156.16,150.60 158.45,151.84 159.30,150.63 156.99,149.38" fill="#f8d626" stroke="#f8d626"/>
<polygon points="149.12,151.77 151.36,153.00 152.21,151.79 149.95,150.55" fill="#f9bc38" stroke="#f9bc38"/>
<polygon points="174.38,152.10 176.75,153.37 177.61,152.16 175.23,150.89" fill="#67c96f" stroke="#67c96f"/>
<polygon points="162.45,150.67 164.77,151.93 165.62,150.71 163.28,149.45" fill="#d1c028" stroke="#d1c028"/>
<polygon points="159.30,150.63 161.60,151.88 162.45,150.67 160.12,149.41" fill="#fbc136" stroke="#fbc136"/>
<polygon points="145.21,152.97 147.42,154.20 148.28,152.98 146.05,151.76" fill="#f7dc23" stroke="#f7dc23"/>
<polygon points="152.21,151.79 154.47,153.03 155.32,151.81 153.05,150.57" fill="#fbc236" stroke="#fbc236"/>
<polygon points="171.16,152.03 173.52,153.30 174.38,152.10 172.01,150.82" fill="#61ca75" stroke="#61ca75"/>
<polygon points="148.28,152.98 150.50,154.21 151.36,153.00 149.12,151.77" fill="#fbc236" stroke="#fbc236"/>
<polygon points="144.36,154.19 146.55,155.41 147.42,154.20 145.21,152.97" fill="#f4e51e" stroke="#f4e51e"/>
<polygon points="155.32,151.81 157.60,153.06 158.45,151.84 156.16,150.60" fill="#facf2c" stroke="#facf2c"/>
<polygon points="167.96,151.98 170.30,153.24 171.16,152.03 168.81,150.77" fill="#77c963" stroke="#77c963"/>
<polygon points="158.45,151.84 160.75,153.09 161.60,151.88 159.30,150.63" fill="#fcc832" stroke="#fcc832"/>
<polygon points="164.77,151.93 167.10,153.18 167.96,151.98 165.62,150.71" fill="#abc43b" stroke="#abc43b"/>
<polygon points="161.60,151.88 163.91,153.14 164.77,151.93 162.45,150.67" fill="#edbe33" stroke="#edbe33"/>
<polygon points="151.36,153.00 153.60,154.24 154.47,153.03 152.21,151.79" fill="#f6b938" stroke="#f6b938"/>
<polygon points="173.52,153.30 175.88,154.57 176.75,153.37 174.38,152.10" fill="#48c889" stroke="#48c889"/>
<polygon points="143.50,155.40 145.67,156.61 146.55,155.41 144.36,154.19" fill="#f5e220" stroke="#f5e220"/>
<polygon points="147.42,154.20 149.63,155.42 150.50,154.21 148.28,152.98" fill="#fad12b" stroke="#fad12b"/>
<polygon points="154.47,153.03 156.73,154.26 157.60,153.06 155.32,151.81" fill="#fac037" stroke="#fac037"/>
<polygon points="170.30,153.24 172.64,154.50 173.52,153.30 171.16,152.03" fill="#55ca7f" stroke="#55ca7f"/>
<polygon points="157.60,153.06 159.87,154.30 160.75,153.09 158.45,151.84" fill="#fbc136" stroke="#fbc136"/>
<polygon points="167.10,153.18 169.42,154.44 170.30,153.24 167.96,151.98" fill="#8cc853" stroke="#8cc853"/>
<polygon points="142.62,156.61 144.77,157.82 145.67,156.61 143.50,155.40" fill="#f8d626" stroke="#f8d626"/>
<polygon points="150.50,154.21 152.72,155.44 153.60,154.24 151.36,153.00" fill="#f9be37" stroke="#f9be37"/>
<polygon points="160.75,153.09 163.04,154.34 163.91,153.14 161.60,151.88" fill="#f4ba37" stroke="#f4ba37"/>
<polygon points="163.91,153.14 166.22,154.39 167.10,153.18 164.77,151.93" fill="#cbc02a" stroke="#cbc02a"/>
<polygon points="146.55,155.41 148.74,156.63 149.63,155.42 147.42,154.20" fill="#f7db24" stroke="#f7db24"/>
<polygon points="153.60,154.24 155.85,155.47 156.73,154.26 154.47,153.03" fill="#f4ba37" stroke="#f4ba37"/>
<polygon points="172.64,154.50 174.98,155.77 175.88,154.57 173.52,153.30" fill="#3ec791" stroke="#3ec791"/>
<polygon points="141.73,157.81 143.86,159.01 144.77,157.82 142.62,156.61" fill="#fbca30" stroke="#fbca30"/>
<polygon points="149.63,155.42 151.83,156.65 152.72,155.44 150.50,154.21" fill="#fbcd2e" stroke="#fbcd2e"/>
<polygon points="156.73,154.26 158.99,155.50 159.87,154.30 157.60,153.06" fill="#efbd34" stroke="#efbd34"/>
<polygon points="145.67,156.61 147.84,157.83 148.74,156.63 146.55,155.41" fill="#f7d825" stroke="#f7d825"/>
<polygon points="169.42,154.44 171.75,155.70 172.64,154.50 170.30,153.24" fill="#69c96e" stroke="#69c96e"/>
<polygon points="159.87,154.30 162.15,155.54 163.04,154.34 160.75,153.09" fill="#edbe33" stroke="#edbe33"/>
<polygon points="166.22,154.39 168.53,155.64 169.42,154.44 167.10,153.18" fill="#a9c43c" stroke="#a9c43c"/>
<polygon points="163.04,154.34 165.33,155.59 166.22,154.39 163.91,153.14" fill="#dcc02c" stroke="#dcc02c"/>
<polygon points="140.83,159.01 142.95,160.21 143.86,159.01 141.73,157.81" fill="#fbcb2f" stroke="#fbcb2f"/>
<polygon points="152.72,155.44 154.95,156.67 155.85,155.47 153.60,154.24" fill="#f8bb38" stroke="#f8bb38"/>
<polygon points="144.77,157.82 146.92,159.02 147.84,157.83 145.67,156.61" fill="#fbca30" stroke="#fbca30"/>
<polygon points="148.74,156.63 150.93,157.84 151.83,156.65 149.63,155.42" fill="#f8d725" stroke="#f8d725"/>
<polygon points="155.85,155.47 158.09,156.70 158.99,155.50 156.73,154.26" fill="#e4c02f" stroke="#e4c02f"/>
<polygon points="139.92,160.21 142.01,161.40 142.95,160.21 140.83,159.01" fill="#f7d825" stroke="#f7d825"/>
<polygon points="171.75,155.70 174.08,156.96 174.98,155.77 172.64,154.50" fill="#4fc984" stroke="#4fc984"/>
<polygon points="158.99,155.50 161.25,156.74 162.15,155.54 159.87,154.30" fill="#d1c028" stroke="#d1c028"/>
<polygon points="168.53,155.64 170.84,156.90 171.75,155.70 169.42,154.44" fill="#8dc852" stroke="#8dc852"/>
<polygon points="162.15,155.54 164.43,156.79 165.33,155.59 163.04,154.34" fill="#ccc029" stroke="#ccc029"/>
<polygon points="151.83,156.65 154.04,157.87 154.95,156.67 152.72,155.44" fill="#fbcb30" stroke="#fbcb30"/>
<polygon points="143.86,159.01 146.00,160.22 146.92,159.02 144.77,157.82" fill="#f9be37" stroke="#f9be37"/>
<polygon points="165.33,155.59 167.62,156.84 168.53,155.64 166.22,154.39" fill="#b6c131" stroke="#b6c131"/>
<polygon points="147.84,157.83 150.01,159.04 150.93,157.84 148.74,156.63" fill="#f8d427" stroke="#f8d427"/>
<polygon points="138.99,161.40 141.07,162.59 142.01,161.40 139.92,160.21" fill="#f5e41f" stroke="#f5e41f"/>
<polygon points="154.95,156.67 157.17,157.90 158.09,156.70 155.85,155.47" fill="#ecbe32" stroke="#ecbe32"/>
<polygon points="142.95,160.21 145.06,161.41 146.00,160.22 143.86,159.01" fill="#fabf37" stroke="#fabf37"/>
<polygon points="138.06,162.59 140.11,163.77 141.07,162.59 138.99,161.40" fill="#f4e41f" stroke="#f4e41f"/>
<polygon points="150.93,157.84 153.11,159.06 154.04,157.87 151.83,156.65" fill="#f8d626" stroke="#f8d626"/>
<polygon points="158.09,156.70 160.33,157.94 161.25,156.74 158.99,155.50" fill="#bbc12f" stroke="#bbc12f"/>
<polygon points="146.92,159.02 149.07,160.23 150.01,159.04 147.84,157.83" fill="#fdc634" stroke="#fdc634"/>
<polygon points="170.84,156.90 173.15,158.15 174.08,156.96 171.75,155.70" fill="#71c968" stroke="#71c968"/>
<polygon points="161.25,156.74 163.51,157.98 164.43,156.79 162.15,155.54" fill="#abc43a" stroke="#abc43a"/>
<polygon points="167.62,156.84 169.92,158.09 170.84,156.90 168.53,155.64" fill="#9dc847" stroke="#9dc847"/>
<polygon points="164.43,156.79 166.70,158.03 167.62,156.84 165.33,155.59" fill="#aac43c" stroke="#aac43c"/>
<polygon points="137.11,163.78 139.15,164.95 140.11,163.77 138.06,162.59" fill="#f7da24" stroke="#f7da24"/>
<polygon points="142.01,161.40 144.11,162.59 145.06,161.41 142.95,160.21" fill="#fbcc2e" stroke="#fbcc2e"/>
<polygon points="154.04,157.87 156.24,159.09 157.17,157.90 154.95,156.67" fill="#f9bc38" stroke="#f9bc38"/>
<polygon points="146.00,160.22 148.13,161.42 149.07,160.23 146.92,159.02" fill="#f7b939" stroke="#f7b939"/>
<polygon points="150.01,159.04 152.18,160.25 153.11,159.06 150.93,157.84" fill="#f9d229" stroke="#f9d229"/>
<polygon points="157.17,157.90 159.40,159.13 160.33,157.94 158.09,156.70" fill="#c8c02b" stroke="#c8c02b"/>
<polygon points="136.15,164.96 138.17,166.13 139.15,164.95 137.11,163.78" fill="#fbcd2e" stroke="#fbcd2e"/>
<polygon points="141.07,162.59 143.14,163.77 144.11,162.59 142.01,161.40" fill="#f7d924" stroke="#f7d924"/>
<polygon points="160.33,157.94 162.57,159.17 163.51,157.98 161.25,156.74" fill="#9bc849" stroke="#9bc849"/>
<polygon points="169.92,158.09 172.21,159.34 173.15,158.15 170.84,156.90" fill="#83c859" stroke="#83c859"/>
<polygon points="163.51,157.98 165.77,159.22 166.70,158.03 164.43,156.79" fill="#8cc853" stroke="#8cc853"/>
<polygon points="153.11,159.06 155.30,160.28 156.24,159.09 154.04,157.87" fill="#fcc833" stroke="#fcc833"/>
<polygon points="166.70,158.03 168.98,159.28 169.92,158.09 167.62,156.84" fill="#8ec852" stroke="#8ec852"/>
<polygon points="145.06,161.41 147.17,162.60 148.13,161.42 146.00,160.22" fill="#f8bb38" stroke="#f8bb38"/>
<polygon points="135.18,166.14 137.18,167.30 138.17,166.13 136.15,164.96" fill="#fcc931" stroke="#fcc931"/>
<polygon points="149.07,160.23 151.23,161.44 152.18,160.25 150.01,159.04" fill="#fdc435" stroke="#fdc435"/>
<polygon points="140.11,163.77 142.17,164.95 143.14,163.77 141.07,162.59" fill="#f7da24" stroke="#f7da24"/>
<polygon points="156.24,159.09 158.45,160.32 159.40,159.13 157.17,157.90" fill="#e9c030" stroke="#e9c030"/>
<polygon points="134.20,167.31 136.17,168.47 137.18,167.30 135.18,166.14" fill="#f9d428" stroke="#f9d428"/>
<polygon points="144.11,162.59 146.20,163.78 147.17,162.60 145.06,161.41" fill="#fcc832" stroke="#fcc832"/>
<polygon points="159.40,159.13 161.62,160.36 162.57,159.17 160.33,157.94" fill="#a4c640" stroke="#a4c640"/>
<polygon points="152.18,160.25 154.35,161.47 155.30,160.28 153.11,159.06" fill="#fdc535" stroke="#fdc535"/>
<polygon points="139.15,164.95 141.18,166.12 142.17,164.95 140.11,163.77" fill="#facf2d" stroke="#facf2d"/>
<polygon points="148.13,161.42 150.26,162.62 151.23,161.44 149.07,160.23" fill="#f5ba38" stroke="#f5ba38"/>
<polygon points="133.21,168.48 135.16,169.63 136.17,168.47 134.20,167.31" fill="#f5e120" stroke="#f5e120"/>
<polygon points="162.57,159.17 164.81,160.41 165.77,159.22 163.51,157.98" fill="#77c963" stroke="#77c963"/>
<polygon points="168.98,159.28 171.25,160.52 172.21,159.34 169.92,158.09" fill="#71c967" stroke="#71c967"/>
<polygon points="165.77,159.22 168.02,160.46 168.98,159.28 166.70,158.03" fill="#6ac96d" stroke="#6ac96d"/>
<polygon points="155.30,160.28 157.49,161.50 158.45,160.32 156.24,159.09" fill="#f3bb37" stroke="#f3bb37"/>
<polygon points="143.14,163.77 145.22,164.96 146.20,163.78 144.11,162.59" fill="#f8d626" stroke="#f8d626"/>
<polygon points="138.17,166.13 140.18,167.29 141.18,166.12 139.15,164.95" fill="#fbc037" stroke="#fbc037"/>
<polygon points="132.20,169.64 134.13,170.79 135.16,169.63 133.21,168.48" fill="#f4e51e" stroke="#f4e51e"/>
<polygon points="151.23,161.44 153.38,162.65 154.35,161.47 152.18,160.25" fill="#f4bb37" stroke="#f4bb37"/>
<polygon points="147.17,162.60 149.29,163.80 150.26,162.62 148.13,161.42" fill="#f6b939" stroke="#f6b939"/>
<polygon points="158.45,160.32 160.66,161.54 161.62,160.36 159.40,159.13" fill="#c1c12d" stroke="#c1c12d"/>
<polygon points="131.19,170.80 133.10,171.94 134.13,170.79 132.20,169.64" fill="#f6de22" stroke="#f6de22"/>
<polygon points="137.18,167.30 139.17,168.46 140.18,167.29 138.17,166.13" fill="#f9bd38" stroke="#f9bd38"/>
<polygon points="142.17,164.95 144.22,166.13 145.22,164.96 143.14,163.77" fill="#f8d726" stroke="#f8d726"/>
<polygon points="161.62,160.36 163.85,161.59 164.81,160.41 162.57,159.17" fill="#84c858" stroke="#84c858"/>
<polygon points="164.81,160.41 167.05,161.64 168.02,160.46 165.77,159.22" fill="#55ca7f" stroke="#55ca7f"/>
<polygon points="154.35,161.47 156.52,162.68 157.49,161.50 155.30,160.28" fill="#f0bc35" stroke="#f0bc35"/>
<polygon points="168.02,160.46 170.28,161.70 171.25,160.52 168.98,159.28" fill="#4fc983" stroke="#4fc983"/>
<polygon points="130.16,171.96 132.05,173.09 133.10,171.94 131.19,170.80" fill="#fad02b" stroke="#fad02b"/>
<polygon points="146.20,163.78 148.30,164.97 149.29,163.80 147.17,162.60" fill="#fdc634" stroke="#fdc634"/>
<polygon points="150.26,162.62 152.39,163.82 153.38,162.65 151.23,161.44" fill="#e7c030" stroke="#e7c030"/>
<polygon points="136.17,168.47 138.15,169.62 139.17,168.46 137.18,167.30" fill="#fcc832" stroke="#fcc832"/>
<polygon points="141.18,166.12 143.22,167.30 144.22,166.13 142.17,164.95" fill="#fbcb30" stroke="#fbcb30"/>
<polygon points="157.49,161.50 159.68,162.72 160.66,161.54 158.45,160.32" fill="#dbc02c" stroke="#dbc02c"/>
<polygon points="129.13,173.11 130.99,174.24 132.05,173.09 130.16,171.96" fill="#fcc932" stroke="#fcc932"/>
<polygon points="135.16,169.63 137.11,170.78 138.15,169.62 136.17,168.47" fill="#f8d726" stroke="#f8d726"/>
<polygon points="145.22,164.96 147.29,166.14 148.30,164.97 146.20,163.78" fill="#f9d428" stroke="#f9d428"/>
<polygon points="160.66,161.54 162.86,162.76 163.85,161.59 161.62,160.36" fill="#a2c642" stroke="#a2c642"/>
<polygon points="153.38,162.65 155.53,163.85 156.52,162.68 154.35,161.47" fill="#dbc02c" stroke="#dbc02c"/>
<polygon points="128.08,174.26 129.92,175.38 130.99,174.24 129.13,173.11" fill="#fad02b" stroke="#fad02b"/>
<polygon points="149.29,163.80 151.40,165.00 152.39,163.82 150.26,162.62" fill="#e9c030" stroke="#e9c030"/>
<polygon points="140.18,167.29 142.20,168.46 143.22,167.30 141.18,166.12" fill="#f8bc38" stroke="#f8bc38"/>
<polygon points="163.85,161.59 166.07,162.82 167.05,161.64 164.81,160.41" fill="#60ca75" stroke="#60ca75"/>
<polygon points="167.05,161.64 169.30,162.87 170.28,161.70 168.02,160.46" fill="#3ec791" stroke="#3ec791"/>
<polygon points="127.02,175.41 128.85,176.52 129.92,175.38 128.08,174.26" fill="#f6de22" stroke="#f6de22"/>
<polygon points="134.13,170.79 136.06,171.93 137.11,170.78 135.16,169.63" fill="#f7db23" stroke="#f7db23"/>
<polygon points="156.52,162.68 158.69,163.89 159.68,162.72 157.49,161.50" fill="#d4c029" stroke="#d4c029"/>
<polygon points="144.22,166.13 146.28,167.31 147.29,166.14 145.22,164.96" fill="#f8d527" stroke="#f8d527"/>
<polygon points="125.96,176.54 127.76,177.65 128.85,176.52 127.02,175.41" fill="#f4e61e" stroke="#f4e61e"/>
<polygon points="139.17,168.46 141.16,169.62 142.20,168.46 140.18,167.29" fill="#f7b939" stroke="#f7b939"/>
<polygon points="152.39,163.82 154.53,165.03 155.53,163.85 153.38,162.65" fill="#bec12e" stroke="#bec12e"/>
<polygon points="133.10,171.94 135.01,173.08 136.06,171.93 134.13,170.79" fill="#f9d329" stroke="#f9d329"/>
<polygon points="148.30,164.97 150.39,166.17 151.40,165.00 149.29,163.80" fill="#f6ba38" stroke="#f6ba38"/>
<polygon points="159.68,162.72 161.87,163.94 162.86,162.76 160.66,161.54" fill="#b5c131" stroke="#b5c131"/>
<polygon points="124.88,177.68 126.65,178.78 127.76,177.65 125.96,176.54" fill="#f5e121" stroke="#f5e121"/>
<polygon points="162.86,162.76 165.07,163.99 166.07,162.82 163.85,161.59" fill="#84c858" stroke="#84c858"/>
<polygon points="138.15,169.62 140.12,170.78 141.16,169.62 139.17,168.46" fill="#fdc435" stroke="#fdc435"/>
<polygon points="143.22,167.30 145.25,168.47 146.28,167.31 144.22,166.13" fill="#fcc932" stroke="#fcc932"/>
<polygon points="132.05,173.09 133.94,174.22 135.01,173.08 133.10,171.94" fill="#fcc435" stroke="#fcc435"/>
<polygon points="123.79,178.81 125.54,179.90 126.65,178.78 124.88,177.68" fill="#f9d428" stroke="#f9d428"/>
<polygon points="166.07,162.82 168.29,164.04 169.30,162.87 167.05,161.64" fill="#48c889" stroke="#48c889"/>
<polygon points="155.53,163.85 157.68,165.06 158.69,163.89 156.52,162.68" fill="#b2c234" stroke="#b2c234"/>
<polygon points="147.29,166.14 149.37,167.33 150.39,166.17 148.30,164.97" fill="#fdc634" stroke="#fdc634"/>
<polygon points="151.40,165.00 153.51,166.19 154.53,165.03 152.39,163.82" fill="#c1c12d" stroke="#c1c12d"/>
<polygon points="122.70,179.93 124.42,181.02 125.54,179.90 123.79,178.81" fill="#fcc931" stroke="#fcc931"/>
<polygon points="130.99,174.24 132.86,175.36 133.94,174.22 132.05,173.09" fill="#f9bc38" stroke="#f9bc38"/>
<polygon points="137.11,170.78 139.06,171.93 140.12,170.78 138.15,169.62" fill="#f9d329" stroke="#f9d329"/>
<polygon points="158.69,163.89 160.86,165.11 161.87,163.94 159.68,162.72" fill="#afc336" stroke="#afc336"/>
<polygon points="142.20,168.46 144.21,169.63 145.25,168.47 143.22,167.30" fill="#f7ba39" stroke="#f7ba39"/>
<polygon points="121.59,181.06 123.29,182.13 124.42,181.02 122.70,179.93" fill="#fbcd2e" stroke="#fbcd2e"/>
<polygon points="129.92,175.38 131.77,176.50 132.86,175.36 130.99,174.24" fill="#fcc435" stroke="#fcc435"/>
<polygon points="120.47,182.17 122.15,183.24 123.29,182.13 121.59,181.06" fill="#f7da24" stroke="#f7da24"/>
<polygon points="161.87,163.94 164.06,165.15 165.07,163.99 162.86,162.76" fill="#9cc848" stroke="#9cc848"/>
<polygon points="154.53,165.03 156.66,166.23 157.68,165.06 155.53,163.85" fill="#9ec847" stroke="#9ec847"/>
<polygon points="146.28,167.31 148.33,168.49 149.37,167.33 147.29,166.14" fill="#fcc733" stroke="#fcc733"/>
<polygon points="136.06,171.93 138.00,173.07 139.06,171.93 137.11,170.78" fill="#f8d825" stroke="#f8d825"/>
<polygon points="150.39,166.17 152.48,167.36 153.51,166.19 151.40,165.00" fill="#e0c02d" stroke="#e0c02d"/>
<polygon points="119.35,183.28 121.00,184.34 122.15,183.24 120.47,182.17" fill="#f4e51f" stroke="#f4e51f"/>
<polygon points="165.07,163.99 167.28,165.21 168.29,164.04 166.07,162.82" fill="#67c970" stroke="#67c970"/>
<polygon points="141.16,169.62 143.16,170.78 144.21,169.63 142.20,168.46" fill="#f5ba38" stroke="#f5ba38"/>
<polygon points="128.85,176.52 130.67,177.63 131.77,176.50 129.92,175.38" fill="#f9d328" stroke="#f9d328"/>
<polygon points="118.21,184.39 119.84,185.44 121.00,184.34 119.35,183.28" fill="#f5e31f" stroke="#f5e31f"/>
<polygon points="157.68,165.06 159.83,166.27 160.86,165.11 158.69,163.89" fill="#96c84c" stroke="#96c84c"/>
<polygon points="135.01,173.08 136.92,174.22 138.00,173.07 136.06,171.93" fill="#facf2c" stroke="#facf2c"/>
<polygon points="117.07,185.49 118.67,186.54 119.84,185.44 118.21,184.39" fill="#f8d825" stroke="#f8d825"/>
<polygon points="127.76,177.65 129.55,178.75 130.67,177.63 128.85,176.52" fill="#f7db23" stroke="#f7db23"/>
<polygon points="145.25,168.47 147.28,169.65 148.33,168.49 146.28,167.31" fill="#f8ba39" stroke="#f8ba39"/>
<polygon points="115.91,186.59 117.50,187.63 118.67,186.54 117.07,185.49" fill="#fbcb30" stroke="#fbcb30"/>
<polygon points="140.12,170.78 142.09,171.93 143.16,170.78 141.16,169.62" fill="#fbc236" stroke="#fbc236"/>
<polygon points="153.51,166.19 155.63,167.39 156.66,166.23 154.53,165.03" fill="#9fc745" stroke="#9fc745"/>
<polygon points="149.37,167.33 151.44,168.52 152.48,167.36 150.39,166.17" fill="#f2bc36" stroke="#f2bc36"/>
<polygon points="160.86,165.11 163.03,166.32 164.06,165.15 161.87,163.94" fill="#95c84d" stroke="#95c84d"/>
<polygon points="114.75,187.68 116.31,188.71 117.50,187.63 115.91,186.59" fill="#fbca30" stroke="#fbca30"/>
<polygon points="126.65,178.78 128.43,179.87 129.55,178.75 127.76,177.65" fill="#f8d626" stroke="#f8d626"/>
<polygon points="133.94,174.22 135.83,175.35 136.92,174.22 135.01,173.08" fill="#fabf37" stroke="#fabf37"/>
<polygon points="113.58,188.77 115.11,189.79 116.31,188.71 114.75,187.68" fill="#f8d726" stroke="#f8d726"/>
<polygon points="164.06,165.15 166.24,166.37 167.28,165.21 165.07,163.99" fill="#81c85b" stroke="#81c85b"/>
<polygon points="112.40,189.85 113.91,190.86 115.11,189.79 113.58,188.77" fill="#f5e320" stroke="#f5e320"/>
<polygon points="144.21,169.63 146.22,170.80 147.28,169.65 145.25,168.47" fill="#eabf31" stroke="#eabf31"/>
<polygon points="125.54,179.90 127.30,180.99 128.43,179.87 126.65,178.78" fill="#fcc833" stroke="#fcc833"/>
<polygon points="139.06,171.93 141.01,173.08 142.09,171.93 140.12,170.78" fill="#fad12b" stroke="#fad12b"/>
<polygon points="156.66,166.23 158.79,167.43 159.83,166.27 157.68,165.06" fill="#7ac860" stroke="#7ac860"/>
<polygon points="111.21,190.93 112.69,191.93 113.91,190.86 112.40,189.85" fill="#f4e51f" stroke="#f4e51f"/>
<polygon points="132.86,175.36 134.72,176.49 135.83,175.35 133.94,174.22" fill="#f6ba38" stroke="#f6ba38"/>
<polygon points="110.01,192.00 111.47,193.00 112.69,191.93 111.21,190.93" fill="#f7dc23" stroke="#f7dc23"/>
<polygon points="148.33,168.49 150.39,169.67 151.44,168.52 149.37,167.33" fill="#f3bb36" stroke="#f3bb36"/>
<polygon points="108.81,193.07 110.24,194.06 111.47,193.00 110.01,192.00" fill="#face2d" stroke="#face2d"/>
<polygon points="152.48,167.36 154.58,168.55 155.63,167.39 153.51,166.19" fill="#b7c130" stroke="#b7c130"/>
<polygon points="124.42,181.02 126.15,182.10 127.30,180.99 125.54,179.90" fill="#f9bd38" stroke="#f9bd38"/>
<polygon points="107.59,194.13 109.00,195.11 110.24,194.06 108.81,193.07" fill="#fcc931" stroke="#fcc931"/>
<polygon points="106.37,195.19 107.75,196.16 109.00,195.11 107.59,194.13" fill="#f9d329" stroke="#f9d329"/>
<polygon points="105.14,196.24 106.50,197.20 107.75,196.16 106.37,195.19" fill="#f6e021" stroke="#f6e021"/>
<polygon points="103.91,197.28 105.24,198.24 106.50,197.20 105.14,196.24" fill="#f4e61e" stroke="#f4e61e"/>
<polygon points="102.66,198.32 103.97,199.27 105.24,198.24 103.91,197.28" fill="#f6df21" stroke="#f6df21"/>
<polygon points="159.83,166.27 161.98,167.48 163.03,166.32 160.86,165.11" fill="#74c965" stroke="#74c965"/>
<polygon points="138.00,173.07 139.93,174.22 141.01,173.08 139.06,171.93" fill="#f8d626" stroke="#f8d626"/>
<polygon points="131.77,176.50 133.61,177.61 134.72,176.49 132.86,175.36" fill="#fac037" stroke="#fac037"/>
<polygon points="143.16,170.78 145.15,171.95 146.22,170.80 144.21,169.63" fill="#e5c02f" stroke="#e5c02f"/>
<polygon points="123.29,182.13 125.00,183.21 126.15,182.10 124.42,181.02" fill="#fbc037" stroke="#fbc037"/>
<polygon points="163.03,166.32 165.20,167.53 166.24,166.37 164.06,165.15" fill="#79c861" stroke="#79c861"/>
<polygon points="155.63,167.39 157.74,168.59 158.79,167.43 156.66,166.23" fill="#7dc85e" stroke="#7dc85e"/>
<polygon points="122.15,183.24 123.83,184.31 125.00,183.21 123.29,182.13" fill="#facf2c" stroke="#facf2c"/>
<polygon points="147.28,169.65 149.32,170.82 150.39,169.67 148.33,168.49" fill="#e4c02f" stroke="#e4c02f"/>
<polygon points="130.67,177.63 132.49,178.74 133.61,177.61 131.77,176.50" fill="#facf2c" stroke="#facf2c"/>
<polygon points="151.44,168.52 153.52,169.70 154.58,168.55 152.48,167.36" fill="#d7c02a" stroke="#d7c02a"/>
<polygon points="136.92,174.22 138.83,175.35 139.93,174.22 138.00,173.07" fill="#fbcd2e" stroke="#fbcd2e"/>
<polygon points="121.00,184.34 122.66,185.40 123.83,184.31 122.15,183.24" fill="#f7da24" stroke="#f7da24"/>
<polygon points="142.09,171.93 144.06,173.09 145.15,171.95 143.16,170.78" fill="#f2bc36" stroke="#f2bc36"/>
<polygon points="129.55,178.75 131.35,179.86 132.49,178.74 130.67,177.63" fill="#f8d825" stroke="#f8d825"/>
<polygon points="158.79,167.43 160.93,168.63 161.98,167.48 159.83,166.27" fill="#57ca7d" stroke="#57ca7d"/>
<polygon points="119.84,185.44 121.48,186.50 122.66,185.40 121.00,184.34" fill="#f7d925" stroke="#f7d925"/>
<polygon points="135.83,175.35 137.71,176.48 138.83,175.35 136.92,174.22" fill="#f9bd38" stroke="#f9bd38"/>
<polygon points="146.22,170.80 148.24,171.97 149.32,170.82 147.28,169.65" fill="#c4c02c" stroke="#c4c02c"/>
<polygon points="118.67,186.54 120.28,187.58 121.48,186.50 119.84,185.44" fill="#fbcc2f" stroke="#fbcc2f"/>
<polygon points="154.58,168.55 156.67,169.74 157.74,168.59 155.63,167.39" fill="#9bc849" stroke="#9bc849"/>
<polygon points="128.43,179.87 130.21,180.97 131.35,179.86 129.55,178.75" fill="#f9d329" stroke="#f9d329"/>
<polygon points="150.39,169.67 152.44,170.85 153.52,169.70 151.44,168.52" fill="#d9c02b" stroke="#d9c02b"/>
<polygon points="141.01,173.08 142.97,174.23 144.06,173.09 142.09,171.93" fill="#fcc336" stroke="#fcc336"/>
<polygon points="161.98,167.48 164.13,168.69 165.20,167.53 163.03,166.32" fill="#57ca7d" stroke="#57ca7d"/>
<polygon points="117.50,187.63 119.08,188.66 120.28,187.58 118.67,186.54" fill="#fabe37" stroke="#fabe37"/>
<polygon points="134.72,176.49 136.59,177.61 137.71,176.48 135.83,175.35" fill="#f4ba37" stroke="#f4ba37"/>
<polygon points="116.31,188.71 117.87,189.74 119.08,188.66 117.50,187.63" fill="#f9be37" stroke="#f9be37"/>
<polygon points="127.30,180.99 129.05,182.08 130.21,180.97 128.43,179.87" fill="#fcc435" stroke="#fcc435"/>
<polygon points="145.15,171.95 147.14,173.11 148.24,171.97 146.22,170.80" fill="#bcc12f" stroke="#bcc12f"/>
<polygon points="157.74,168.59 159.85,169.78 160.93,168.63 158.79,167.43" fill="#59ca7b" stroke="#59ca7b"/>
<polygon points="115.11,189.79 116.65,190.81 117.87,189.74 116.31,188.71" fill="#fbcb30" stroke="#fbcb30"/>
<polygon points="139.93,174.22 141.86,175.36 142.97,174.23 141.01,173.08" fill="#fcc832" stroke="#fcc832"/>
<polygon points="113.91,190.86 115.42,191.88 116.65,190.81 115.11,189.79" fill="#f7d825" stroke="#f7d825"/>
<polygon points="126.15,182.10 127.88,183.18 129.05,182.08 127.30,180.99" fill="#f6b939" stroke="#f6b939"/>
<polygon points="149.32,170.82 151.35,171.99 152.44,170.85 150.39,169.67" fill="#bcc12f" stroke="#bcc12f"/>
<polygon points="153.52,169.70 155.59,170.89 156.67,169.74 154.58,168.55" fill="#b2c234" stroke="#b2c234"/>
<polygon points="133.61,177.61 135.45,178.73 136.59,177.61 134.72,176.49" fill="#f9be37" stroke="#f9be37"/>
<polygon points="112.69,191.93 114.18,192.94 115.42,191.88 113.91,190.86" fill="#f7db24" stroke="#f7db24"/>
<polygon points="160.93,168.63 163.06,169.84 164.13,168.69 161.98,167.48" fill="#41c78f" stroke="#41c78f"/>
<polygon points="111.47,193.00 112.93,193.99 114.18,192.94 112.69,191.93" fill="#fad02b" stroke="#fad02b"/>
<polygon points="125.00,183.21 126.70,184.28 127.88,183.18 126.15,182.10" fill="#f9bc38" stroke="#f9bc38"/>
<polygon points="144.06,173.09 146.04,174.24 147.14,173.11 145.15,171.95" fill="#d6c02a" stroke="#d6c02a"/>
<polygon points="138.83,175.35 140.73,176.49 141.86,175.36 139.93,174.22" fill="#fabf37" stroke="#fabf37"/>
<polygon points="110.24,194.06 111.67,195.05 112.93,193.99 111.47,193.00" fill="#fbc136" stroke="#fbc136"/>
<polygon points="132.49,178.74 134.31,179.85 135.45,178.73 133.61,177.61" fill="#fbcd2e" stroke="#fbcd2e"/>
<polygon points="109.00,195.11 110.41,196.09 111.67,195.05 110.24,194.06" fill="#f9bc38" stroke="#f9bc38"/>
<polygon points="156.67,169.74 158.77,170.93 159.85,169.78 157.74,168.59" fill="#7ac860" stroke="#7ac860"/>
<polygon points="107.75,196.16 109.14,197.13 110.41,196.09 109.00,195.11" fill="#fdc634" stroke="#fdc634"/>
<polygon points="123.83,184.31 125.52,185.38 126.70,184.28 125.00,183.21" fill="#fbcb30" stroke="#fbcb30"/>
<polygon points="148.24,171.97 150.25,173.13 151.35,171.99 149.32,170.82" fill="#a2c643" stroke="#a2c643"/>
<polygon points="106.50,197.20 107.86,198.16 109.14,197.13 107.75,196.16" fill="#f8d526" stroke="#f8d526"/>
<polygon points="105.24,198.24 106.57,199.19 107.86,198.16 106.50,197.20" fill="#f7db23" stroke="#f7db23"/>
<polygon points="152.44,170.85 154.50,172.03 155.59,170.89 153.52,169.70" fill="#b3c133" stroke="#b3c133"/>
<polygon points="103.97,199.27 105.27,200.22 106.57,199.19 105.24,198.24" fill="#f8d427" stroke="#f8d427"/>
<polygon points="131.35,179.86 133.15,180.96 134.31,179.85 132.49,178.74" fill="#f8d626" stroke="#f8d626"/>
<polygon points="137.71,176.48 139.60,177.61 140.73,176.49 138.83,175.35" fill="#edbe33" stroke="#edbe33"/>
<polygon points="122.66,185.40 124.32,186.46 125.52,185.38 123.83,184.31" fill="#f8d726" stroke="#f8d726"/>
<polygon points="142.97,174.23 144.92,175.38 146.04,174.24 144.06,173.09" fill="#efbd34" stroke="#efbd34"/>
<polygon points="159.85,169.78 161.97,170.98 163.06,169.84 160.93,168.63" fill="#43c78e" stroke="#43c78e"/>
<polygon points="121.48,186.50 123.11,187.55 124.32,186.46 122.66,185.40" fill="#f8d626" stroke="#f8d626"/>
<polygon points="130.21,180.97 131.98,182.07 133.15,180.96 131.35,179.86" fill="#fad12b" stroke="#fad12b"/>
<polygon points="147.14,173.11 149.14,174.27 150.25,173.13 148.24,171.97" fill="#9cc848" stroke="#9cc848"/>
<polygon points="155.59,170.89 157.67,172.07 158.77,170.93 156.67,169.74" fill="#98c84b" stroke="#98c84b"/>
<polygon points="136.59,177.61 138.45,178.73 139.60,177.61 137.71,176.48" fill="#e4c02f" stroke="#e4c02f"/>
<polygon points="120.28,187.58 121.89,188.63 123.11,187.55 121.48,186.50" fill="#fcc832" stroke="#fcc832"/>
<polygon points="151.35,171.99 153.39,173.17 154.50,172.03 152.44,170.85" fill="#9ec746" stroke="#9ec746"/>
<polygon points="141.86,175.36 143.79,176.50 144.92,175.38 142.97,174.23" fill="#f4ba37" stroke="#f4ba37"/>
<polygon points="129.05,182.08 130.80,183.17 131.98,182.07 130.21,180.97" fill="#fbc136" stroke="#fbc136"/>
<polygon points="119.08,188.66 120.67,189.70 121.89,188.63 120.28,187.58" fill="#f8ba39" stroke="#f8ba39"/>
<polygon points="135.45,178.73 137.30,179.85 138.45,178.73 136.59,177.61" fill="#eebd33" stroke="#eebd33"/>
<polygon points="158.77,170.93 160.86,172.12 161.97,170.98 159.85,169.78" fill="#5cca79" stroke="#5cca79"/>
<polygon points="117.87,189.74 119.43,190.77 120.67,189.70 119.08,188.66" fill="#f7ba39" stroke="#f7ba39"/>
<polygon points="146.04,174.24 148.01,175.40 149.14,174.27 147.14,173.11" fill="#afc337" stroke="#afc337"/>
<polygon points="127.88,183.18 129.61,184.26 130.80,183.17 129.05,182.08" fill="#f4ba37" stroke="#f4ba37"/>
<polygon points="140.73,176.49 142.64,177.63 143.79,176.50 141.86,175.36" fill="#ebbf32" stroke="#ebbf32"/>
<polygon points="116.65,190.81 118.18,191.83 119.43,190.77 117.87,189.74" fill="#fdc734" stroke="#fdc734"/>
<polygon points="154.50,172.03 156.55,173.21 157.67,172.07 155.59,170.89" fill="#9ac849" stroke="#9ac849"/>
<polygon points="150.25,173.13 152.27,174.30 153.39,173.17 151.35,171.99" fill="#80c85c" stroke="#80c85c"/>
<polygon points="134.31,179.85 136.13,180.96 137.30,179.85 135.45,178.73" fill="#fabf37" stroke="#fabf37"/>
<polygon points="115.42,191.88 116.93,192.89 118.18,191.83 116.65,190.81" fill="#f8d527" stroke="#f8d527"/>
<polygon points="126.70,184.28 128.41,185.36 129.61,184.26 127.88,183.18" fill="#f7ba39" stroke="#f7ba39"/>
<polygon points="114.18,192.94 115.66,193.94 116.93,192.89 115.42,191.88" fill="#f8d725" stroke="#f8d725"/>
<polygon points="144.92,175.38 146.87,176.53 148.01,175.40 146.04,174.24" fill="#d0c028" stroke="#d0c028"/>
<polygon points="139.60,177.61 141.49,178.74 142.64,177.63 140.73,176.49" fill="#ccc029" stroke="#ccc029"/>
<polygon points="112.93,193.99 114.39,194.99 115.66,193.94 114.18,192.94" fill="#fbcc2e" stroke="#fbcc2e"/>
<polygon points="125.52,185.38 127.20,186.44 128.41,185.36 126.70,184.28" fill="#fcc932" stroke="#fcc932"/>
<polygon points="157.67,172.07 159.74,173.26 160.86,172.12 158.77,170.93" fill="#7cc85e" stroke="#7cc85e"/>
<polygon points="133.15,180.96 134.95,182.06 136.13,180.96 134.31,179.85" fill="#fcc832" stroke="#fcc832"/>
<polygon points="111.67,195.05 113.11,196.03 114.39,194.99 112.93,193.99" fill="#f9bd38" stroke="#f9bd38"/>
<polygon points="149.14,174.27 151.13,175.43 152.27,174.30 150.25,173.13" fill="#78c962" stroke="#78c962"/>
<polygon points="153.39,173.17 155.42,174.34 156.55,173.21 154.50,172.03" fill="#7fc85c" stroke="#7fc85c"/>
<polygon points="110.41,196.09 111.82,197.07 113.11,196.03 111.67,195.05" fill="#f6b938" stroke="#f6b938"/>
<polygon points="124.32,186.46 125.98,187.53 127.20,186.44 125.52,185.38" fill="#f8d527" stroke="#f8d527"/>
<polygon points="109.14,197.13 110.52,198.10 111.82,197.07 110.41,196.09" fill="#fcc236" stroke="#fcc236"/>
<polygon points="138.45,178.73 140.32,179.86 141.49,178.74 139.60,177.61" fill="#bbc12f" stroke="#bbc12f"/>
<polygon points="143.79,176.50 145.72,177.65 146.87,176.53 144.92,175.38" fill="#dcc02c" stroke="#dcc02c"/>
<polygon points="131.98,182.07 133.76,183.16 134.95,182.06 133.15,180.96" fill="#fcc336" stroke="#fcc336"/>
<polygon points="107.86,198.16 109.21,199.13 110.52,198.10 109.14,197.13" fill="#f9d12a" stroke="#f9d12a"/>
<polygon points="106.57,199.19 107.90,200.15 109.21,199.13 107.86,198.16" fill="#f8d825" stroke="#f8d825"/>
<polygon points="123.11,187.55 124.74,188.60 125.98,187.53 124.32,186.46" fill="#f9d328" stroke="#f9d328"/>
<polygon points="105.27,200.22 106.57,201.16 107.90,200.15 106.57,199.19" fill="#fad12b" stroke="#fad12b"/>
<polygon points="148.01,175.40 149.98,176.56 151.13,175.43 149.14,174.27" fill="#91c84f" stroke="#91c84f"/>
<polygon points="156.55,173.21 158.61,174.39 159.74,173.26 157.67,172.07" fill="#7fc85c" stroke="#7fc85c"/>
<polygon points="130.80,183.17 132.55,184.26 133.76,183.16 131.98,182.07" fill="#f1bc35" stroke="#f1bc35"/>
<polygon points="121.89,188.63 123.50,189.67 124.74,188.60 123.11,187.55" fill="#fdc634" stroke="#fdc634"/>
<polygon points="152.27,174.30 154.28,175.47 155.42,174.34 153.39,173.17" fill="#5cca78" stroke="#5cca78"/>
<polygon points="137.30,179.85 139.14,180.96 140.32,179.86 138.45,178.73" fill="#cdc029" stroke="#cdc029"/>
<polygon points="142.64,177.63 144.55,178.76 145.72,177.65 143.79,176.50" fill="#c6c02b" stroke="#c6c02b"/>
<polygon points="120.67,189.70 122.25,190.74 123.50,189.67 121.89,188.63" fill="#f6b938" stroke="#f6b938"/>
<polygon points="129.61,184.26 131.34,185.35 132.55,184.26 130.80,183.17" fill="#e5c02f" stroke="#e5c02f"/>
<polygon points="136.13,180.96 137.95,182.07 139.14,180.96 137.30,179.85" fill="#ebbf32" stroke="#ebbf32"/>
<polygon points="119.43,190.77 120.99,191.80 122.25,190.74 120.67,189.70" fill="#f5ba38" stroke="#f5ba38"/>
<polygon points="146.87,176.53 148.82,177.67 149.98,176.56 148.01,175.40" fill="#adc339" stroke="#adc339"/>
<polygon points="155.42,174.34 157.46,175.52 158.61,174.39 156.55,173.21" fill="#61ca74" stroke="#61ca74"/>
<polygon points="141.49,178.74 143.37,179.87 144.55,178.76 142.64,177.63" fill="#a7c53e" stroke="#a7c53e"/>
<polygon points="151.13,175.43 153.12,176.59 154.28,175.47 152.27,174.30" fill="#56ca7e" stroke="#56ca7e"/>
<polygon points="128.41,185.36 130.11,186.43 131.34,185.35 129.61,184.26" fill="#eabf31" stroke="#eabf31"/>
<polygon points="118.18,191.83 119.72,192.86 120.99,191.80 119.43,190.77" fill="#fdc535" stroke="#fdc535"/>
<polygon points="134.95,182.06 136.74,183.17 137.95,182.07 136.13,180.96" fill="#f4ba37" stroke="#f4ba37"/>
<polygon points="116.93,192.89 118.44,193.91 119.72,192.86 118.18,191.83" fill="#f9d329" stroke="#f9d329"/>
<polygon points="127.20,186.44 128.88,187.51 130.11,186.43 128.41,185.36" fill="#f8bb38" stroke="#f8bb38"/>
<polygon points="145.72,177.65 147.65,178.79 148.82,177.67 146.87,176.53" fill="#b6c131" stroke="#b6c131"/>
<polygon points="115.66,193.94 117.15,194.95 118.44,193.91 116.93,192.89" fill="#f8d527" stroke="#f8d527"/>
<polygon points="140.32,179.86 142.18,180.98 143.37,179.87 141.49,178.74" fill="#9bc849" stroke="#9bc849"/>
<polygon points="149.98,176.56 151.96,177.71 153.12,176.59 151.13,175.43" fill="#6fc969" stroke="#6fc969"/>
<polygon points="114.39,194.99 115.85,195.99 117.15,194.95 115.66,193.94" fill="#fbca30" stroke="#fbca30"/>
<polygon points="133.76,183.16 135.53,184.26 136.74,183.17 134.95,182.06" fill="#eebd34" stroke="#eebd34"/>
<polygon points="154.28,175.47 156.29,176.64 157.46,175.52 155.42,174.34" fill="#45c88c" stroke="#45c88c"/>
<polygon points="125.98,187.53 127.63,188.59 128.88,187.51 127.20,186.44" fill="#fcc733" stroke="#fcc733"/>
<polygon points="113.11,196.03 114.54,197.02 115.85,195.99 114.39,194.99" fill="#f8bb38" stroke="#f8bb38"/>
<polygon points="111.82,197.07 113.23,198.05 114.54,197.02 113.11,196.03" fill="#f4ba37" stroke="#f4ba37"/>
<polygon points="144.55,178.76 146.46,179.90 147.65,178.79 145.72,177.65" fill="#a6c53f" stroke="#a6c53f"/>
<polygon points="139.14,180.96 140.98,182.08 142.18,180.98 140.32,179.86" fill="#a8c53d" stroke="#a8c53d"/>
<polygon points="124.74,188.60 126.38,189.66 127.63,188.59 125.98,187.53" fill="#fdc634" stroke="#fdc634"/>
<polygon points="132.55,184.26 134.30,185.35 135.53,184.26 133.76,183.16" fill="#d5c02a" stroke="#d5c02a"/>
<polygon points="110.52,198.10 111.90,199.07 113.23,198.05 111.82,197.07" fill="#fac037" stroke="#fac037"/>
<polygon points="109.21,199.13 110.57,200.09 111.90,199.07 110.52,198.10" fill="#facf2c" stroke="#facf2c"/>
<polygon points="148.82,177.67 150.77,178.82 151.96,177.71 149.98,176.56" fill="#92c84f" stroke="#92c84f"/>
<polygon points="123.50,189.67 125.11,190.72 126.38,189.66 124.74,188.60" fill="#f5ba38" stroke="#f5ba38"/>
<polygon points="107.90,200.15 109.23,201.10 110.57,200.09 109.21,199.13" fill="#f8d626" stroke="#f8d626"/>
<polygon points="153.12,176.59 155.12,177.75 156.29,176.64 154.28,175.47" fill="#3fc790" stroke="#3fc790"/>
<polygon points="106.57,201.16 107.88,202.11 109.23,201.10 107.90,200.15" fill="#face2d" stroke="#face2d"/>
<polygon points="137.95,182.07 139.77,183.18 140.98,182.08 139.14,180.96" fill="#c7c02b" stroke="#c7c02b"/>
<polygon points="131.34,185.35 133.07,186.43 134.30,185.35 132.55,184.26" fill="#bcc12f" stroke="#bcc12f"/>
<polygon points="143.37,179.87 145.26,181.00 146.46,179.90 144.55,178.76" fill="#87c856" stroke="#87c856"/>
<polygon points="122.25,190.74 123.84,191.78 125.11,190.72 123.50,189.67" fill="#e8c030" stroke="#e8c030"/>
<polygon points="120.99,191.80 122.55,192.83 123.84,191.78 122.25,190.74" fill="#e7c030" stroke="#e7c030"/>
<polygon points="130.11,186.43 131.82,187.51 133.07,186.43 131.34,185.35" fill="#c5c02c" stroke="#c5c02c"/>
<polygon points="147.65,178.79 149.58,179.93 150.77,178.82 148.82,177.67" fill="#9dc847" stroke="#9dc847"/>
<polygon points="136.74,183.17 138.54,184.27 139.77,183.18 137.95,182.07" fill="#dcc02c" stroke="#dcc02c"/>
<polygon points="151.96,177.71 153.93,178.87 155.12,177.75 153.12,176.59" fill="#53c980" stroke="#53c980"/>
<polygon points="142.18,180.98 144.05,182.10 145.26,181.00 143.37,179.87" fill="#76c963" stroke="#76c963"/>
<polygon points="119.72,192.86 121.25,193.88 122.55,192.83 120.99,191.80" fill="#f4ba37" stroke="#f4ba37"/>
<polygon points="128.88,187.51 130.56,188.58 131.82,187.51 130.11,186.43" fill="#e5c02f" stroke="#e5c02f"/>
<polygon points="118.44,193.91 119.95,194.92 121.25,193.88 119.72,192.86" fill="#fdc535" stroke="#fdc535"/>
<polygon points="135.53,184.26 137.31,185.36 138.54,184.27 136.74,183.17" fill="#d0c028" stroke="#d0c028"/>
<polygon points="146.46,179.90 148.37,181.04 149.58,179.93 147.65,178.79" fill="#89c855" stroke="#89c855"/>
<polygon points="117.15,194.95 118.63,195.96 119.95,194.92 118.44,193.91" fill="#fcc833" stroke="#fcc833"/>
<polygon points="127.63,188.59 129.29,189.65 130.56,188.58 128.88,187.51" fill="#f3bb36" stroke="#f3bb36"/>
<polygon points="140.98,182.08 142.83,183.20 144.05,182.10 142.18,180.98" fill="#88c855" stroke="#88c855"/>
<polygon points="150.77,178.82 152.73,179.97 153.93,178.87 151.96,177.71" fill="#76c964" stroke="#76c964"/>
<polygon points="115.85,195.99 117.31,196.99 118.63,195.96 117.15,194.95" fill="#f9bc38" stroke="#f9bc38"/>
<polygon points="134.30,185.35 136.06,186.44 137.31,185.36 135.53,184.26" fill="#aec338" stroke="#aec338"/>
<polygon points="126.38,189.66 128.01,190.71 129.29,189.65 127.63,188.59" fill="#f1bc36" stroke="#f1bc36"/>
<polygon points="114.54,197.02 115.98,198.01 117.31,196.99 115.85,195.99" fill="#ebbf32" stroke="#ebbf32"/>
<polygon points="145.26,181.00 147.15,182.13 148.37,181.04 146.46,179.90" fill="#64c972" stroke="#64c972"/>
<polygon points="139.77,183.18 141.59,184.29 142.83,183.20 140.98,182.08" fill="#a6c53e" stroke="#a6c53e"/>
<polygon points="113.23,198.05 114.64,199.03 115.98,198.01 114.54,197.02" fill="#e4c02f" stroke="#e4c02f"/>
<polygon points="125.11,190.72 126.72,191.76 128.01,190.71 126.38,189.66" fill="#dfc02d" stroke="#dfc02d"/>
<polygon points="133.07,186.43 134.80,187.51 136.06,186.44 134.30,185.35" fill="#9cc848" stroke="#9cc848"/>
<polygon points="149.58,179.93 151.51,181.08 152.73,179.97 150.77,178.82" fill="#82c85a" stroke="#82c85a"/>
<polygon points="111.90,199.07 113.28,200.05 114.64,199.03 113.23,198.05" fill="#f0bc35" stroke="#f0bc35"/>
<polygon points="110.57,200.09 111.93,201.05 113.28,200.05 111.90,199.07" fill="#fbc136" stroke="#fbc136"/>
<polygon points="123.84,191.78 125.42,192.81 126.72,191.76 125.11,190.72" fill="#c0c12d" stroke="#c0c12d"/>
<polygon points="138.54,184.27 140.34,185.37 141.59,184.29 139.77,183.18" fill="#b6c131" stroke="#b6c131"/>
<polygon points="144.05,182.10 145.91,183.23 147.15,182.13 145.26,181.00" fill="#54ca7f" stroke="#54ca7f"/>
<polygon points="109.23,201.10 110.56,202.06 111.93,201.05 110.57,200.09" fill="#fcc832" stroke="#fcc832"/>
<polygon points="131.82,187.51 133.53,188.58 134.80,187.51 133.07,186.43" fill="#a2c642" stroke="#a2c642"/>
<polygon points="107.88,202.11 109.18,203.05 110.56,202.06 109.23,201.10" fill="#fbc037" stroke="#fbc037"/>
<polygon points="122.55,192.83 124.11,193.86 125.42,192.81 123.84,191.78" fill="#bfc12e" stroke="#bfc12e"/>
<polygon points="148.37,181.04 150.28,182.17 151.51,181.08 149.58,179.93" fill="#6cc96c" stroke="#6cc96c"/>
<polygon points="130.56,188.58 132.24,189.65 133.53,188.58 131.82,187.51" fill="#bdc12e" stroke="#bdc12e"/>
<polygon points="137.31,185.36 139.08,186.45 140.34,185.37 138.54,184.27" fill="#acc339" stroke="#acc339"/>
<polygon points="121.25,193.88 122.79,194.90 124.11,193.86 122.55,192.83" fill="#dcc02c" stroke="#dcc02c"/>
<polygon points="142.83,183.20 144.67,184.32 145.91,183.23 144.05,182.10" fill="#65c971" stroke="#65c971"/>
<polygon points="119.95,194.92 121.46,195.93 122.79,194.90 121.25,193.88" fill="#f0bc35" stroke="#f0bc35"/>
<polygon points="129.29,189.65 130.95,190.71 132.24,189.65 130.56,188.58" fill="#d9c02b" stroke="#d9c02b"/>
<polygon points="136.06,186.44 137.81,187.53 139.08,186.45 137.31,185.36" fill="#90c850" stroke="#90c850"/>
<polygon points="147.15,182.13 149.04,183.27 150.28,182.17 148.37,181.04" fill="#4bc887" stroke="#4bc887"/>
<polygon points="118.63,195.96 120.12,196.96 121.46,195.93 119.95,194.92" fill="#f3bb37" stroke="#f3bb37"/>
<polygon points="141.59,184.29 143.41,185.40 144.67,184.32 142.83,183.20" fill="#8ac854" stroke="#8ac854"/>
<polygon points="128.01,190.71 129.65,191.76 130.95,190.71 129.29,189.65" fill="#d6c02a" stroke="#d6c02a"/>
<polygon points="117.31,196.99 118.77,197.98 120.12,196.96 118.63,195.96" fill="#e8c030" stroke="#e8c030"/>
<polygon points="134.80,187.51 136.53,188.59 137.81,187.53 136.06,186.44" fill="#78c962" stroke="#78c962"/>
<polygon points="115.98,198.01 117.41,199.00 118.77,197.98 117.31,196.99" fill="#c7c02b" stroke="#c7c02b"/>
<polygon points="126.72,191.76 128.33,192.81 129.65,191.76 128.01,190.71" fill="#b5c131" stroke="#b5c131"/>
<polygon points="145.91,183.23 147.78,184.35 149.04,183.27 147.15,182.13" fill="#3ec791" stroke="#3ec791"/>
<polygon points="140.34,185.37 142.14,186.48 143.41,185.40 141.59,184.29" fill="#9dc847" stroke="#9dc847"/>
<polygon points="114.64,199.03 116.04,200.01 117.41,199.00 115.98,198.01" fill="#bbc12f" stroke="#bbc12f"/>
<polygon points="133.53,188.58 135.23,189.66 136.53,188.59 134.80,187.51" fill="#80c85b" stroke="#80c85b"/>
<polygon points="125.42,192.81 127.01,193.85 128.33,192.81 126.72,191.76" fill="#9fc745" stroke="#9fc745"/>
<polygon points="113.28,200.05 114.67,201.02 116.04,200.01 114.64,199.03" fill="#d2c029" stroke="#d2c029"/>
<polygon points="111.93,201.05 113.28,202.02 114.67,201.02 113.28,200.05" fill="#edbe33" stroke="#edbe33"/>
<polygon points="139.08,186.45 140.86,187.55 142.14,186.48 140.34,185.37" fill="#91c84f" stroke="#91c84f"/>
<polygon points="144.67,184.32 146.51,185.43 147.78,184.35 145.91,183.23" fill="#4cc986" stroke="#4cc986"/>
<polygon points="124.11,193.86 125.67,194.89 127.01,193.85 125.42,192.81" fill="#9ec746" stroke="#9ec746"/>
<polygon points="132.24,189.65 133.92,190.72 135.23,189.66 133.53,188.58" fill="#9fc745" stroke="#9fc745"/>
<polygon points="110.56,202.06 111.89,203.01 113.28,202.02 111.93,201.05" fill="#f4ba37" stroke="#f4ba37"/>
<polygon points="109.18,203.05 110.48,204.00 111.89,203.01 110.56,202.06" fill="#ecbe33" stroke="#ecbe33"/>
<polygon points="122.79,194.90 124.33,195.92 125.67,194.89 124.11,193.86" fill="#b3c233" stroke="#b3c233"/>
<polygon points="137.81,187.53 139.56,188.62 140.86,187.55 139.08,186.45" fill="#6ec96a" stroke="#6ec96a"/>
<polygon points="130.95,190.71 132.61,191.77 133.92,190.72 132.24,189.65" fill="#b4c132" stroke="#b4c132"/>
<polygon points="143.41,185.40 145.23,186.51 146.51,185.43 144.67,184.32" fill="#6dc96b" stroke="#6dc96b"/>
<polygon points="121.46,195.93 122.97,196.95 124.33,195.92 122.79,194.90" fill="#d4c029" stroke="#d4c029"/>
<polygon points="129.65,191.76 131.28,192.81 132.61,191.77 130.95,190.71" fill="#b1c235" stroke="#b1c235"/>
<polygon points="120.12,196.96 121.60,197.97 122.97,196.95 121.46,195.93" fill="#dac02b" stroke="#dac02b"/>
<polygon points="136.53,188.59 138.25,189.68 139.56,188.62 137.81,187.53" fill="#55ca7e" stroke="#55ca7e"/>
<polygon points="142.14,186.48 143.94,187.58 145.23,186.51 143.41,185.40" fill="#82c859" stroke="#82c859"/>
<polygon points="118.77,197.98 120.23,198.98 121.60,197.97 120.12,196.96" fill="#c0c12d" stroke="#c0c12d"/>
<polygon points="128.33,192.81 129.94,193.85 131.28,192.81 129.65,191.76" fill="#9ac84a" stroke="#9ac84a"/>
<polygon points="135.23,189.66 136.94,190.73 138.25,189.68 136.53,188.59" fill="#5dca78" stroke="#5dca78"/>
<polygon points="117.41,199.00 118.85,199.99 120.23,198.98 118.77,197.98" fill="#a4c641" stroke="#a4c641"/>
<polygon points="127.01,193.85 128.59,194.89 129.94,193.85 128.33,192.81" fill="#7cc85f" stroke="#7cc85f"/>
<polygon points="140.86,187.55 142.63,188.65 143.94,187.58 142.14,186.48" fill="#75c965" stroke="#75c965"/>
<polygon points="116.04,200.01 117.45,200.99 118.85,199.99 117.41,199.00" fill="#9bc848" stroke="#9bc848"/>
<polygon points="133.92,190.72 135.61,191.78 136.94,190.73 135.23,189.66" fill="#80c85b" stroke="#80c85b"/>
<polygon points="114.67,201.02 116.05,201.99 117.45,200.99 116.04,200.01" fill="#acc43a" stroke="#acc43a"/>
<polygon points="125.67,194.89 127.23,195.92 128.59,194.89 127.01,193.85" fill="#7ac860" stroke="#7ac860"/>
<polygon points="113.28,202.02 114.64,202.98 116.05,201.99 114.67,201.02" fill="#cdc029" stroke="#cdc029"/>
<polygon points="139.56,188.62 141.31,189.71 142.63,188.65 140.86,187.55" fill="#52c981" stroke="#52c981"/>
<polygon points="132.61,191.77 134.26,192.83 135.61,191.78 133.92,190.72" fill="#9bc849" stroke="#9bc849"/>
<polygon points="111.89,203.01 113.22,203.96 114.64,202.98 113.28,202.02" fill="#dcc02c" stroke="#dcc02c"/>
<polygon points="124.33,195.92 125.86,196.94 127.23,195.92 125.67,194.89" fill="#97c84c" stroke="#97c84c"/>
<polygon points="110.48,204.00 111.79,204.94 113.22,203.96 111.89,203.01" fill="#cac02a" stroke="#cac02a"/>
<polygon points="122.97,196.95 124.48,197.96 125.86,196.94 124.33,195.92" fill="#b0c236" stroke="#b0c236"/>
<polygon points="138.25,189.68 139.98,190.76 141.31,189.71 139.56,188.62" fill="#3fc791" stroke="#3fc791"/>
<polygon points="131.28,192.81 132.91,193.87 134.26,192.83 132.61,191.77" fill="#97c84b" stroke="#97c84b"/>
<polygon points="121.60,197.97 123.09,198.97 124.48,197.96 122.97,196.95" fill="#b4c132" stroke="#b4c132"/>
<polygon points="129.94,193.85 131.55,194.90 132.91,193.87 131.28,192.81" fill="#79c961" stroke="#79c961"/>
<polygon points="136.94,190.73 138.64,191.81 139.98,190.76 138.25,189.68" fill="#45c88b" stroke="#45c88b"/>
<polygon points="120.23,198.98 121.69,199.98 123.09,198.97 121.60,197.97" fill="#a2c643" stroke="#a2c643"/>
<polygon points="128.59,194.89 130.18,195.93 131.55,194.90 129.94,193.85" fill="#59ca7b" stroke="#59ca7b"/>
<polygon points="118.85,199.99 120.28,200.98 121.69,199.98 120.23,198.98" fill="#83c859" stroke="#83c859"/>
<polygon points="135.61,191.78 137.29,192.85 138.64,191.81 136.94,190.73" fill="#62ca74" stroke="#62ca74"/>
<polygon points="117.45,200.99 118.86,201.97 120.28,200.98 118.85,199.99" fill="#77c963" stroke="#77c963"/>
<polygon points="127.23,195.92 128.79,196.95 130.18,195.93 128.59,194.89" fill="#57ca7d" stroke="#57ca7d"/>
<polygon points="116.05,201.99 117.43,202.96 118.86,201.97 117.45,200.99" fill="#8dc852" stroke="#8dc852"/>
<polygon points="134.26,192.83 135.92,193.89 137.29,192.85 135.61,191.78" fill="#7fc85c" stroke="#7fc85c"/>
<polygon points="125.86,196.94 127.40,197.97 128.79,196.95 127.23,195.92" fill="#75c964" stroke="#75c964"/>
<polygon points="114.64,202.98 115.99,203.94 117.43,202.96 116.05,201.99" fill="#aac43b" stroke="#aac43b"/>
<polygon points="113.22,203.96 114.55,204.92 115.99,203.94 114.64,202.98" fill="#b6c131" stroke="#b6c131"/>
<polygon points="132.91,193.87 134.55,194.92 135.92,193.89 134.26,192.83" fill="#7cc85f" stroke="#7cc85f"/>
<polygon points="124.48,197.96 125.99,198.98 127.40,197.97 125.86,196.94" fill="#96c84c" stroke="#96c84c"/>
<polygon points="111.79,204.94 113.09,205.89 114.55,204.92 113.22,203.96" fill="#a9c43c" stroke="#a9c43c"/>
<polygon points="123.09,198.97 124.57,199.98 125.99,198.98 124.48,197.96" fill="#9cc848" stroke="#9cc848"/>
<polygon points="131.55,194.90 133.16,195.95 134.55,194.92 132.91,193.87" fill="#5bca7a" stroke="#5bca7a"/>
<polygon points="121.69,199.98 123.15,200.98 124.57,199.98 123.09,198.97" fill="#83c859" stroke="#83c859"/>
<polygon points="130.18,195.93 131.76,196.97 133.16,195.95 131.55,194.90" fill="#42c78e" stroke="#42c78e"/>
<polygon points="120.28,200.98 121.71,201.97 123.15,200.98 121.69,199.98" fill="#5fca76" stroke="#5fca76"/>
<polygon points="128.79,196.95 130.35,197.98 131.76,196.97 130.18,195.93" fill="#41c78f" stroke="#41c78f"/>
<polygon points="118.86,201.97 120.27,202.95 121.71,201.97 120.28,200.98" fill="#55ca7f" stroke="#55ca7f"/>
<polygon points="117.43,202.96 118.81,203.93 120.27,202.95 118.86,201.97" fill="#6bc96d" stroke="#6bc96d"/>
<polygon points="127.40,197.97 128.93,198.99 130.35,197.98 128.79,196.95" fill="#58ca7c" stroke="#58ca7c"/>
<polygon points="115.99,203.94 117.35,204.91 118.81,203.93 117.43,202.96" fill="#8ec851" stroke="#8ec851"/>
<polygon points="125.99,198.98 127.50,199.99 128.93,198.99 127.40,197.97" fill="#7ac860" stroke="#7ac860"/>
<polygon points="114.55,204.92 115.88,205.87 117.35,204.91 115.99,203.94" fill="#9dc847" stroke="#9dc847"/>
<polygon points="113.09,205.89 114.40,206.83 115.88,205.87 114.55,204.92" fill="#8cc852" stroke="#8cc852"/>
<polygon points="124.57,199.98 126.06,200.98 127.50,199.99 125.99,198.98" fill="#81c85b" stroke="#81c85b"/>
<polygon points="123.15,200.98 124.61,201.97 126.06,200.98 124.57,199.98" fill="#66c971" stroke="#66c971"/>
<polygon points="121.71,201.97 123.15,202.96 124.61,201.97 123.15,200.98" fill="#47c88a" stroke="#47c88a"/>
<polygon points="120.27,202.95 121.68,203.93 123.15,202.96 121.71,201.97" fill="#3ec791" stroke="#3ec791"/>
<polygon points="118.81,203.93 120.20,204.91 121.68,203.93 120.27,202.95" fill="#50c983" stroke="#50c983"/>
<polygon points="117.35,204.91 118.71,205.87 120.20,204.91 118.81,203.93" fill="#72c967" stroke="#72c967"/>
<polygon points="115.88,205.87 117.21,206.83 118.71,205.87 117.35,204.91" fill="#82c859" stroke="#82c859"/>
<polygon points="114.40,206.83 115.70,207.78 117.21,206.83 115.88,205.87" fill="#70c969" stroke="#70c969"/>
</g>
<defs><filter id="bl1" x="-50%" y="-50%" width="200%" height="200%"><feGaussianBlur stdDeviation="0.3"/></filter></defs>
<g fill="#3232cc" filter="url(#bl1)">
<polygon points="108.99,194.76 109.02,195.13 108.57,195.79 107.77,196.57 106.83,197.24 106.00,197.64 105.52,197.66 105.51,197.29 105.97,196.63 106.76,195.86 107.69,195.18 108.50,194.77"/>
<polygon points="111.29,196.44 111.31,196.81 110.87,197.45 110.06,198.18 109.12,198.83 108.30,199.20 107.82,199.21 107.81,198.85 108.26,198.21 109.06,197.47 109.98,196.83 110.80,196.45"/>
<polygon points="113.58,198.12 113.61,198.48 113.16,199.09 112.36,199.80 111.42,200.41 110.60,200.76 110.12,200.76 110.10,200.41 110.56,199.80 111.35,199.09 112.28,198.48 113.09,198.12"/>
<polygon points="115.88,199.80 115.90,200.15 115.46,200.74 114.65,201.42 113.71,202.00 112.89,202.33 112.41,202.32 112.40,201.98 112.85,201.39 113.65,200.71 114.57,200.12 115.39,199.79"/>
<polygon points="118.17,201.47 118.20,201.81 117.75,202.39 116.95,203.04 116.01,203.59 115.19,203.90 114.71,203.88 114.69,203.54 115.15,202.98 115.94,202.33 116.87,201.77 117.69,201.45"/>
<polygon points="120.47,203.14 120.49,203.48 120.05,204.03 119.24,204.65 118.30,205.18 117.48,205.47 117.00,205.44 116.99,205.12 117.44,204.57 118.24,203.94 119.17,203.41 119.98,203.12"/>
<polygon points="116.59,188.04 116.66,188.43 116.26,189.12 115.51,189.92 114.59,190.61 113.77,191.02 113.27,191.03 113.22,190.65 113.63,189.97 114.38,189.17 115.28,188.47 116.09,188.05"/>
<polygon points="119.16,189.81 119.22,190.19 118.83,190.86 118.07,191.62 117.15,192.28 116.34,192.67 115.84,192.67 115.78,192.30 116.19,191.64 116.94,190.87 117.84,190.21 118.65,189.82"/>
<polygon points="121.72,191.58 121.79,191.95 121.39,192.59 120.63,193.32 119.72,193.95 118.90,194.32 118.40,194.31 118.35,193.94 118.75,193.31 119.50,192.58 120.40,191.94 121.21,191.58"/>
<polygon points="124.28,193.34 124.35,193.71 123.95,194.33 123.19,195.03 122.28,195.63 121.46,195.97 120.96,195.96 120.91,195.60 121.31,194.98 122.07,194.28 122.97,193.68 123.77,193.33"/>
<polygon points="126.84,195.10 126.91,195.46 126.51,196.06 125.75,196.73 124.84,197.30 124.02,197.62 123.52,197.60 123.47,197.25 123.88,196.66 124.63,195.98 125.53,195.41 126.34,195.08"/>
<polygon points="129.41,196.86 129.47,197.21 129.07,197.79 128.31,198.44 127.40,198.98 126.59,199.28 126.08,199.26 126.03,198.91 126.44,198.34 127.19,197.69 128.09,197.14 128.90,196.83"/>
<polygon points="123.84,181.13 123.95,181.53 123.60,182.24 122.89,183.06 122.01,183.78 121.20,184.20 120.68,184.21 120.59,183.81 120.95,183.10 121.65,182.28 122.52,181.56 123.32,181.14"/>
<polygon points="126.66,182.98 126.76,183.38 126.42,184.06 125.71,184.85 124.83,185.53 124.02,185.92 123.50,185.92 123.41,185.53 123.77,184.85 124.47,184.07 125.34,183.38 126.14,182.98"/>
<polygon points="129.48,184.83 129.58,185.22 129.23,185.88 128.52,186.63 127.64,187.28 126.84,187.65 126.32,187.65 126.23,187.26 126.58,186.61 127.29,185.85 128.15,185.20 128.95,184.82"/>
<polygon points="132.29,186.67 132.40,187.05 132.05,187.69 131.34,188.42 130.46,189.04 129.65,189.38 129.13,189.37 129.04,189.00 129.40,188.36 130.10,187.63 130.97,187.01 131.77,186.66"/>
<polygon points="135.11,188.51 135.21,188.88 134.87,189.50 134.16,190.20 133.28,190.79 132.47,191.12 131.95,191.10 131.86,190.73 132.22,190.12 132.92,189.42 133.79,188.82 134.59,188.49"/>
<polygon points="137.93,190.35 138.03,190.71 137.68,191.31 136.97,191.99 136.09,192.55 135.29,192.86 134.77,192.83 134.68,192.47 135.03,191.88 135.74,191.20 136.60,190.63 137.40,190.32"/>
<polygon points="130.70,174.03 130.85,174.45 130.55,175.18 129.89,176.02 129.05,176.75 128.25,177.18 127.72,177.19 127.59,176.78 127.90,176.05 128.55,175.21 129.38,174.47 130.16,174.04"/>
<polygon points="133.76,175.95 133.90,176.36 133.61,177.07 132.95,177.88 132.11,178.58 131.31,178.98 130.78,178.98 130.65,178.58 130.95,177.88 131.61,177.06 132.44,176.36 133.22,175.95"/>
<polygon points="136.82,177.88 136.96,178.28 136.67,178.96 136.01,179.74 135.16,180.40 134.37,180.78 133.84,180.77 133.71,180.38 134.01,179.70 134.67,178.92 135.49,178.25 136.28,177.87"/>
<polygon points="139.88,179.79 140.02,180.19 139.72,180.85 139.07,181.59 138.22,182.23 137.43,182.59 136.89,182.57 136.76,182.19 137.07,181.53 137.72,180.78 138.55,180.14 139.34,179.78"/>
<polygon points="142.94,181.71 143.08,182.09 142.78,182.73 142.12,183.45 141.28,184.06 140.49,184.40 139.95,184.37 139.82,183.99 140.13,183.36 140.78,182.64 141.61,182.02 142.40,181.68"/>
<polygon points="145.99,183.62 146.14,184.00 145.84,184.62 145.18,185.31 144.34,185.89 143.54,186.21 143.01,186.18 142.88,185.81 143.19,185.19 143.84,184.50 144.67,183.91 145.46,183.59"/>
<polygon points="137.14,166.76 137.32,167.19 137.08,167.93 136.47,168.80 135.67,169.55 134.89,169.99 134.35,169.99 134.18,169.57 134.43,168.82 135.03,167.96 135.82,167.20 136.59,166.76"/>
<polygon points="140.42,168.75 140.60,169.17 140.36,169.89 139.76,170.73 138.96,171.44 138.18,171.85 137.63,171.85 137.47,171.43 137.72,170.71 138.32,169.88 139.11,169.16 139.87,168.74"/>
<polygon points="143.71,170.74 143.89,171.15 143.65,171.85 143.04,172.65 142.24,173.34 141.46,173.72 140.92,173.71 140.75,173.30 141.00,172.61 141.60,171.81 142.39,171.12 143.16,170.73"/>
<polygon points="146.99,172.72 147.17,173.13 146.93,173.81 146.33,174.58 145.53,175.23 144.75,175.60 144.20,175.58 144.04,175.18 144.29,174.50 144.89,173.73 145.68,173.07 146.45,172.70"/>
<polygon points="150.28,174.70 150.46,175.10 150.22,175.76 149.61,176.50 148.81,177.13 148.03,177.47 147.49,177.45 147.32,177.05 147.57,176.40 148.17,175.66 148.96,175.03 149.73,174.68"/>
<polygon points="153.56,176.68 153.74,177.07 153.50,177.71 152.90,178.43 152.10,179.03 151.32,179.35 150.77,179.32 150.61,178.93 150.86,178.30 151.46,177.58 152.25,176.98 153.02,176.65"/>
<polygon points="143.12,159.32 143.34,159.76 143.15,160.53 142.61,161.41 141.85,162.18 141.09,162.62 140.53,162.63 140.33,162.19 140.53,161.43 141.07,160.54 141.82,159.77 142.56,159.32"/>
<polygon points="146.62,161.38 146.84,161.81 146.65,162.55 146.10,163.40 145.35,164.13 144.59,164.55 144.03,164.55 143.83,164.12 144.03,163.38 144.57,162.53 145.31,161.79 146.06,161.37"/>
<polygon points="150.12,163.43 150.33,163.85 150.15,164.57 149.60,165.39 148.84,166.09 148.08,166.48 147.53,166.47 147.32,166.05 147.52,165.34 148.07,164.52 148.81,163.81 149.56,163.41"/>
<polygon points="153.61,165.47 153.83,165.89 153.64,166.59 153.10,167.37 152.34,168.05 151.58,168.42 151.02,168.40 150.82,167.99 151.02,167.29 151.56,166.50 152.31,165.83 153.06,165.45"/>
<polygon points="157.11,167.52 157.33,167.92 157.14,168.60 156.59,169.36 155.84,170.00 155.08,170.36 154.52,170.33 154.32,169.92 154.52,169.25 155.06,168.49 155.80,167.84 156.55,167.49"/>
<polygon points="160.61,169.56 160.82,169.96 160.63,170.61 160.09,171.35 159.33,171.96 158.57,172.30 158.02,172.26 157.81,171.87 158.01,171.21 158.55,170.48 159.30,169.86 160.05,169.52"/>
<polygon points="148.63,151.74 148.88,152.19 148.75,152.97 148.26,153.87 147.55,154.66 146.82,155.11 146.25,155.11 146.02,154.66 146.16,153.88 146.64,152.98 147.34,152.19 148.06,151.74"/>
<polygon points="152.32,153.85 152.57,154.29 152.44,155.05 151.95,155.92 151.25,156.66 150.51,157.09 149.95,157.08 149.71,156.64 149.85,155.89 150.33,155.02 151.03,154.27 151.75,153.84"/>
<polygon points="156.01,155.96 156.26,156.39 156.13,157.12 155.65,157.96 154.94,158.68 154.20,159.08 153.64,159.06 153.40,158.63 153.54,157.90 154.03,157.06 154.72,156.35 155.45,155.94"/>
<polygon points="159.70,158.06 159.95,158.49 159.82,159.20 159.34,160.00 158.63,160.69 157.89,161.07 157.33,161.05 157.09,160.62 157.23,159.92 157.72,159.11 158.41,158.42 159.14,158.04"/>
<polygon points="163.39,160.16 163.65,160.58 163.51,161.27 163.03,162.05 162.32,162.71 161.58,163.07 161.02,163.03 160.78,162.62 160.92,161.93 161.41,161.15 162.10,160.49 162.83,160.13"/>
<polygon points="167.09,162.26 167.34,162.67 167.20,163.34 166.72,164.09 166.01,164.72 165.28,165.06 164.71,165.03 164.47,164.62 164.62,163.95 165.10,163.19 165.80,162.56 166.52,162.22"/>
<polygon points="153.62,144.02 153.91,144.48 153.84,145.28 153.41,146.20 152.76,146.99 152.05,147.45 151.48,147.45 151.20,146.99 151.29,146.20 151.72,145.28 152.36,144.48 153.06,144.02"/>
<polygon points="157.49,146.18 157.78,146.64 157.71,147.41 157.28,148.29 156.63,149.05 155.92,149.48 155.35,149.48 155.07,149.03 155.16,148.26 155.58,147.37 156.23,146.61 156.93,146.17"/>
<polygon points="161.36,148.34 161.65,148.79 161.57,149.54 161.15,150.39 160.49,151.12 159.78,151.52 159.22,151.51 158.94,151.07 159.03,150.32 159.45,149.47 160.10,148.74 160.79,148.32"/>
<polygon points="165.23,150.50 165.52,150.93 165.44,151.66 165.02,152.48 164.36,153.18 163.65,153.57 163.09,153.54 162.81,153.11 162.90,152.39 163.32,151.56 163.97,150.86 164.66,150.47"/>
<polygon points="169.10,152.65 169.39,153.08 169.31,153.78 168.89,154.58 168.23,155.25 167.52,155.62 166.96,155.58 166.68,155.16 166.77,154.45 167.19,153.66 167.84,152.99 168.53,152.62"/>
<polygon points="172.97,154.80 173.26,155.22 173.18,155.90 172.76,156.67 172.10,157.32 171.39,157.66 170.82,157.62 170.55,157.21 170.64,156.52 171.06,155.75 171.70,155.11 172.40,154.76"/>
<polygon points="158.09,136.18 158.41,136.65 158.39,137.46 158.03,138.40 157.43,139.20 156.75,139.67 156.18,139.66 155.88,139.20 155.91,138.39 156.27,137.46 156.86,136.65 157.52,136.18"/>
<polygon points="162.12,138.40 162.44,138.86 162.42,139.64 162.06,140.54 161.46,141.31 160.78,141.75 160.21,141.74 159.90,141.28 159.94,140.50 160.29,139.60 160.88,138.82 161.55,138.38"/>
<polygon points="166.15,140.60 166.47,141.05 166.45,141.82 166.09,142.68 165.49,143.42 164.81,143.84 164.24,143.82 163.93,143.37 163.96,142.61 164.32,141.74 164.91,141.00 165.58,140.58"/>
<polygon points="170.18,142.80 170.50,143.25 170.48,143.99 170.12,144.82 169.52,145.53 168.84,145.93 168.27,145.90 167.96,145.46 167.99,144.72 168.35,143.88 168.94,143.17 169.61,142.78"/>
<polygon points="174.21,145.00 174.53,145.44 174.51,146.16 174.15,146.97 173.55,147.65 172.87,148.02 172.30,147.99 171.99,147.55 172.02,146.84 172.38,146.03 172.97,145.34 173.64,144.97"/>
<polygon points="178.23,147.20 178.55,147.63 178.53,148.33 178.18,149.11 177.57,149.77 176.90,150.12 176.33,150.08 176.02,149.65 176.05,148.95 176.41,148.17 177.00,147.51 177.66,147.16"/>
<polygon points="162.01,128.25 162.36,128.72 162.40,129.54 162.10,130.49 161.56,131.30 160.91,131.77 160.35,131.77 160.01,131.29 159.98,130.47 160.28,129.53 160.81,128.71 161.44,128.24"/>
<polygon points="166.18,130.50 166.53,130.97 166.57,131.76 166.27,132.68 165.73,133.46 165.08,133.90 164.51,133.89 164.17,133.42 164.15,132.63 164.44,131.72 164.98,130.93 165.61,130.49"/>
<polygon points="170.35,132.75 170.70,133.21 170.73,133.98 170.44,134.86 169.90,135.61 169.25,136.03 168.68,136.01 168.34,135.55 168.32,134.78 168.61,133.90 169.14,133.15 169.78,132.73"/>
<polygon points="174.51,135.00 174.87,135.45 174.90,136.20 174.61,137.05 174.07,137.77 173.42,138.17 172.85,138.14 172.51,137.69 172.49,136.94 172.78,136.09 173.31,135.37 173.95,134.97"/>
<polygon points="178.68,137.24 179.03,137.68 179.07,138.41 178.78,139.23 178.24,139.93 177.59,140.30 177.02,140.27 176.68,139.83 176.66,139.10 176.95,138.27 177.48,137.58 178.12,137.20"/>
<polygon points="182.85,139.48 183.20,139.92 183.24,140.63 182.95,141.42 182.40,142.09 181.76,142.44 181.19,142.40 180.85,141.97 180.82,141.26 181.12,140.46 181.65,139.79 182.28,139.43"/>
<polygon points="165.35,120.22 165.74,120.70 165.83,121.53 165.61,122.49 165.12,123.31 164.51,123.78 163.95,123.78 163.58,123.30 163.50,122.47 163.72,121.51 164.20,120.69 164.79,120.21"/>
<polygon points="169.64,122.51 170.03,122.99 170.12,123.80 169.89,124.72 169.41,125.51 168.80,125.95 168.24,125.94 167.86,125.46 167.78,124.66 168.01,123.74 168.48,122.95 169.08,122.50"/>
<polygon points="173.93,124.80 174.32,125.27 174.41,126.05 174.18,126.94 173.70,127.70 173.09,128.12 172.52,128.10 172.15,127.64 172.07,126.86 172.30,125.97 172.77,125.21 173.37,124.78"/>
<polygon points="178.22,127.09 178.60,127.55 178.70,128.31 178.47,129.17 177.99,129.90 177.38,130.30 176.81,130.27 176.44,129.81 176.36,129.05 176.59,128.19 177.06,127.46 177.66,127.06"/>
<polygon points="182.51,129.37 182.89,129.83 182.99,130.57 182.76,131.40 182.28,132.10 181.67,132.48 181.10,132.44 180.73,131.99 180.65,131.25 180.88,130.42 181.35,129.72 181.95,129.34"/>
<polygon points="186.80,131.65 187.18,132.10 187.28,132.82 187.05,133.62 186.57,134.30 185.96,134.66 185.39,134.61 185.02,134.17 184.94,133.45 185.17,132.65 185.64,131.97 186.24,131.61"/>
<polygon points="168.12,112.12 168.53,112.61 168.68,113.45 168.52,114.41 168.10,115.24 167.53,115.72 166.97,115.71 166.57,115.22 166.43,114.38 166.59,113.42 167.00,112.59 167.56,112.11"/>
<polygon points="172.51,114.45 172.92,114.94 173.06,115.75 172.91,116.68 172.49,117.47 171.92,117.92 171.36,117.91 170.96,117.43 170.82,116.62 170.98,115.68 171.39,114.89 171.95,114.44"/>
<polygon points="176.90,116.78 177.31,117.26 177.45,118.05 177.30,118.94 176.88,119.71 176.31,120.13 175.75,120.11 175.35,119.64 175.21,118.85 175.37,117.95 175.78,117.18 176.34,116.76"/>
<polygon points="181.29,119.11 181.70,119.57 181.84,120.34 181.69,121.21 181.27,121.94 180.70,122.35 180.14,122.31 179.74,121.85 179.60,121.08 179.76,120.21 180.17,119.48 180.73,119.07"/>
<polygon points="185.68,121.43 186.09,121.89 186.23,122.63 186.08,123.47 185.66,124.18 185.09,124.56 184.53,124.52 184.13,124.07 183.99,123.32 184.15,122.48 184.56,121.77 185.12,121.39"/>
<polygon points="190.07,123.75 190.47,124.20 190.62,124.93 190.47,125.74 190.05,126.42 189.48,126.78 188.92,126.73 188.52,126.29 188.38,125.56 188.54,124.74 188.95,124.06 189.51,123.70"/>
<polygon points="170.28,103.97 170.71,104.46 170.92,105.31 170.83,106.28 170.48,107.11 169.95,107.59 169.40,107.58 168.97,107.09 168.78,106.24 168.87,105.27 169.22,104.43 169.73,103.96"/>
<polygon points="174.75,106.34 175.18,106.82 175.39,107.65 175.30,108.58 174.94,109.38 174.42,109.83 173.87,109.81 173.44,109.33 173.25,108.51 173.34,107.57 173.69,106.77 174.20,106.32"/>
<polygon points="179.22,108.70 179.65,109.18 179.86,109.98 179.77,110.88 179.41,111.65 178.89,112.08 178.34,112.05 177.91,111.57 177.72,110.78 177.81,109.87 178.16,109.10 178.67,108.67"/>
<polygon points="183.69,111.06 184.12,111.53 184.33,112.31 184.24,113.18 183.88,113.92 183.36,114.33 182.81,114.29 182.38,113.82 182.19,113.05 182.28,112.17 182.63,111.43 183.14,111.03"/>
<polygon points="188.16,113.42 188.59,113.88 188.80,114.64 188.71,115.48 188.35,116.19 187.83,116.58 187.28,116.54 186.85,116.08 186.66,115.32 186.75,114.47 187.10,113.76 187.61,113.38"/>
<polygon points="192.63,115.77 193.06,116.23 193.27,116.97 193.18,117.79 192.82,118.47 192.30,118.83 191.75,118.78 191.32,118.33 191.13,117.60 191.22,116.78 191.57,116.09 192.08,115.72"/>
<polygon points="171.83,95.78 172.29,96.28 172.55,97.13 172.53,98.10 172.24,98.94 171.76,99.42 171.22,99.40 170.77,98.91 170.52,98.06 170.55,97.08 170.83,96.24 171.30,95.77"/>
<polygon points="176.36,98.18 176.82,98.67 177.08,99.50 177.06,100.44 176.77,101.24 176.29,101.69 175.75,101.67 175.30,101.18 175.05,100.36 175.08,99.42 175.36,98.61 175.83,98.16"/>
<polygon points="180.89,100.58 181.35,101.06 181.61,101.87 181.59,102.78 181.30,103.55 180.82,103.97 180.28,103.94 179.83,103.46 179.58,102.66 179.60,101.75 179.89,100.98 180.35,100.55"/>
<polygon points="185.42,102.98 185.88,103.45 186.14,104.23 186.12,105.11 185.83,105.85 185.35,106.26 184.81,106.22 184.35,105.75 184.11,104.97 184.13,104.09 184.41,103.34 184.88,102.94"/>
<polygon points="189.95,105.37 190.41,105.84 190.66,106.60 190.65,107.45 190.36,108.16 189.87,108.55 189.33,108.50 188.88,108.03 188.64,107.27 188.66,106.42 188.94,105.71 189.41,105.32"/>
<polygon points="194.47,107.76 194.93,108.22 195.19,108.96 195.18,109.78 194.89,110.47 194.40,110.84 193.86,110.78 193.41,110.32 193.17,109.58 193.19,108.76 193.47,108.07 193.94,107.70"/>
<polygon points="172.77,87.57 173.25,88.07 173.56,88.93 173.62,89.91 173.39,90.74 172.96,91.22 172.43,91.20 171.96,90.70 171.66,89.84 171.61,88.87 171.83,88.03 172.25,87.55"/>
<polygon points="177.34,90.01 177.82,90.50 178.13,91.33 178.18,92.27 177.96,93.08 177.52,93.53 177.00,93.50 176.52,93.01 176.23,92.18 176.18,91.23 176.39,90.43 176.82,89.98"/>
<polygon points="181.90,92.44 182.38,92.93 182.70,93.73 182.75,94.64 182.53,95.42 182.09,95.84 181.56,95.81 181.09,95.32 180.79,94.52 180.74,93.60 180.96,92.83 181.38,92.40"/>
<polygon points="186.47,94.87 186.95,95.35 187.26,96.13 187.31,97.01 187.09,97.75 186.66,98.16 186.13,98.12 185.65,97.64 185.36,96.86 185.31,95.97 185.53,95.23 185.95,94.83"/>
<polygon points="191.03,97.29 191.52,97.76 191.83,98.53 191.88,99.38 191.66,100.10 191.22,100.48 190.70,100.43 190.22,99.96 189.92,99.20 189.88,98.34 190.09,97.63 190.51,97.24"/>
<polygon points="195.60,99.72 196.08,100.18 196.39,100.92 196.44,101.75 196.22,102.44 195.79,102.80 195.26,102.75 194.79,102.28 194.49,101.54 194.44,100.71 194.66,100.02 195.08,99.66"/>
<polygon points="173.09,79.36 173.59,79.86 173.95,80.72 174.08,81.70 173.92,82.54 173.53,83.01 173.02,82.99 172.53,82.48 172.18,81.62 172.07,80.64 172.21,79.81 172.58,79.33"/>
<polygon points="177.67,81.83 178.17,82.32 178.54,83.16 178.66,84.10 178.50,84.90 178.12,85.35 177.61,85.32 177.11,84.82 176.76,83.99 176.65,83.05 176.79,82.24 177.17,81.80"/>
<polygon points="182.25,84.29 182.75,84.78 183.12,85.59 183.24,86.50 183.08,87.27 182.70,87.70 182.19,87.66 181.69,87.17 181.34,86.36 181.23,85.45 181.38,84.68 181.75,84.25"/>
<polygon points="186.83,86.76 187.33,87.24 187.70,88.02 187.82,88.91 187.67,89.65 187.28,90.05 186.77,90.00 186.27,89.52 185.92,88.74 185.81,87.85 185.96,87.11 186.33,86.71"/>
<polygon points="191.41,89.21 191.92,89.69 192.28,90.46 192.40,91.31 192.25,92.02 191.86,92.40 191.35,92.35 190.86,91.88 190.51,91.11 190.39,90.25 190.54,89.54 190.91,89.16"/>
<polygon points="196.00,91.67 196.50,92.14 196.86,92.88 196.98,93.71 196.83,94.40 196.44,94.76 195.93,94.70 195.44,94.23 195.09,93.49 194.97,92.66 195.12,91.97 195.49,91.61"/>
<polygon points="172.78,71.16 173.30,71.67 173.72,72.53 173.91,73.50 173.82,74.34 173.49,74.80 172.99,74.78 172.48,74.27 172.08,73.41 171.90,72.43 171.98,71.60 172.30,71.13"/>
<polygon points="177.36,73.66 177.88,74.16 178.29,75.00 178.48,75.94 178.40,76.74 178.06,77.18 177.57,77.15 177.06,76.65 176.66,75.81 176.48,74.87 176.55,74.07 176.88,73.63"/>
<polygon points="181.94,76.16 182.45,76.65 182.87,77.46 183.06,78.38 182.97,79.14 182.64,79.56 182.15,79.52 181.63,79.03 181.23,78.22 181.05,77.31 181.13,76.54 181.45,76.12"/>
<polygon points="186.51,78.66 187.03,79.14 187.44,79.93 187.63,80.81 187.55,81.55 187.21,81.95 186.72,81.90 186.21,81.41 185.81,80.62 185.63,79.74 185.71,79.00 186.03,78.61"/>
<polygon points="191.09,81.15 191.61,81.63 192.02,82.40 192.21,83.25 192.13,83.96 191.79,84.34 191.30,84.28 190.79,83.80 190.39,83.03 190.20,82.18 190.28,81.47 190.60,81.09"/>
<polygon points="195.66,83.64 196.18,84.11 196.59,84.86 196.79,85.68 196.70,86.37 196.37,86.73 195.87,86.66 195.36,86.19 194.96,85.44 194.78,84.62 194.86,83.93 195.18,83.57"/>
<polygon points="171.86,62.99 172.39,63.50 172.86,64.36 173.11,65.33 173.10,66.16 172.82,66.62 172.34,66.60 171.82,66.08 171.37,65.22 171.12,64.25 171.13,63.42 171.40,62.96"/>
<polygon points="176.41,65.53 176.94,66.03 177.40,66.87 177.66,67.80 177.65,68.60 177.36,69.04 176.89,69.00 176.36,68.50 175.92,67.66 175.67,66.72 175.68,65.92 175.95,65.49"/>
<polygon points="180.96,68.06 181.49,68.56 181.95,69.37 182.21,70.28 182.20,71.04 181.91,71.45 181.44,71.41 180.91,70.91 180.47,70.10 180.21,69.19 180.22,68.43 180.49,68.01"/>
<polygon points="185.50,70.59 186.04,71.08 186.50,71.87 186.76,72.75 186.74,73.48 186.46,73.87 185.99,73.82 185.46,73.33 185.01,72.54 184.76,71.66 184.77,70.93 185.04,70.54"/>
<polygon points="190.05,73.12 190.59,73.60 191.05,74.37 191.31,75.22 191.29,75.92 191.01,76.30 190.54,76.23 190.01,75.75 189.56,74.99 189.31,74.13 189.32,73.43 189.59,73.06"/>
<polygon points="194.60,75.65 195.14,76.12 195.60,76.87 195.86,77.69 195.84,78.37 195.56,78.72 195.09,78.65 194.56,78.18 194.11,77.43 193.86,76.61 193.87,75.93 194.14,75.57"/>
<polygon points="170.32,54.87 170.87,55.38 171.37,56.24 171.70,57.21 171.75,58.03 171.52,58.49 171.08,58.45 170.53,57.94 170.04,57.08 169.72,56.11 169.67,55.29 169.88,54.83"/>
<polygon points="174.82,57.44 175.36,57.95 175.87,58.78 176.20,59.72 176.25,60.51 176.02,60.94 175.58,60.89 175.03,60.39 174.54,59.55 174.22,58.62 174.16,57.83 174.38,57.40"/>
<polygon points="179.32,60.02 179.86,60.51 180.37,61.32 180.70,62.22 180.75,62.98 180.52,63.39 180.07,63.34 179.53,62.84 179.04,62.03 178.72,61.12 178.66,60.37 178.88,59.96"/>
<polygon points="183.82,62.58 184.36,63.07 184.87,63.86 185.20,64.73 185.25,65.46 185.02,65.84 184.57,65.78 184.03,65.29 183.54,64.51 183.22,63.63 183.16,62.91 183.38,62.52"/>
<polygon points="188.32,65.15 188.86,65.63 189.37,66.40 189.70,67.24 189.75,67.94 189.52,68.30 189.07,68.24 188.53,67.75 188.04,66.99 187.72,66.14 187.66,65.44 187.88,65.08"/>
<polygon points="192.82,67.71 193.36,68.18 193.87,68.93 194.20,69.75 194.25,70.42 194.02,70.76 193.57,70.69 193.03,70.22 192.54,69.47 192.22,68.65 192.16,67.97 192.38,67.63"/>
<polygon points="168.17,46.81 168.73,47.33 169.28,48.19 169.67,49.15 169.79,49.96 169.62,50.41 169.19,50.37 168.64,49.85 168.11,48.99 167.72,48.03 167.60,47.22 167.76,46.77"/>
<polygon points="172.60,49.43 173.16,49.94 173.71,50.77 174.10,51.69 174.22,52.47 174.05,52.89 173.62,52.85 173.07,52.34 172.54,51.51 172.15,50.58 172.03,49.80 172.19,49.38"/>
<polygon points="177.03,52.04 177.59,52.54 178.14,53.34 178.53,54.24 178.65,54.99 178.48,55.39 178.05,55.33 177.50,54.83 176.96,54.02 176.58,53.12 176.46,52.37 176.62,51.98"/>
<polygon points="181.46,54.64 182.01,55.14 182.56,55.92 182.96,56.79 183.08,57.50 182.91,57.88 182.48,57.81 181.93,57.32 181.39,56.54 181.01,55.67 180.88,54.95 181.05,54.58"/>
<polygon points="185.89,57.25 186.44,57.73 186.99,58.49 187.39,59.33 187.51,60.02 187.34,60.38 186.91,60.30 186.36,59.82 185.82,59.05 185.44,58.21 185.31,57.52 185.48,57.17"/>
<polygon points="190.32,59.84 190.87,60.32 191.42,61.07 191.81,61.88 191.94,62.54 191.76,62.88 191.34,62.80 190.79,62.32 190.25,61.57 189.87,60.76 189.74,60.10 189.90,59.76"/>
<polygon points="165.42,38.84 165.98,39.36 166.58,40.21 167.03,41.16 167.22,41.97 167.10,42.40 166.71,42.36 166.15,41.84 165.57,40.99 165.13,40.03 164.93,39.23 165.04,38.79"/>
<polygon points="169.76,41.50 170.32,42.01 170.91,42.83 171.37,43.75 171.56,44.52 171.44,44.93 171.05,44.88 170.49,44.37 169.91,43.54 169.47,42.62 169.27,41.85 169.38,41.44"/>
<polygon points="174.10,44.15 174.66,44.65 175.25,45.45 175.71,46.34 175.90,47.08 175.78,47.46 175.39,47.40 174.83,46.90 174.25,46.09 173.80,45.20 173.61,44.47 173.71,44.08"/>
<polygon points="178.44,46.79 179.00,47.29 179.59,48.07 180.05,48.93 180.24,49.63 180.12,50.00 179.73,49.93 179.16,49.43 178.59,48.65 178.14,47.79 177.95,47.08 178.05,46.72"/>
<polygon points="182.78,49.44 183.34,49.92 183.93,50.68 184.39,51.51 184.58,52.19 184.46,52.54 184.06,52.46 183.50,51.97 182.93,51.21 182.48,50.38 182.29,49.70 182.39,49.35"/>
<polygon points="187.12,52.08 187.68,52.56 188.27,53.30 188.72,54.10 188.92,54.75 188.80,55.08 188.40,54.99 187.84,54.51 187.26,53.77 186.82,52.96 186.62,52.31 186.73,51.99"/>
<polygon points="162.09,30.97 162.66,31.49 163.28,32.33 163.80,33.28 164.06,34.07 164.00,34.49 163.63,34.44 163.07,33.91 162.45,33.07 161.95,32.12 161.68,31.33 161.73,30.91"/>
<polygon points="166.31,33.67 166.88,34.18 167.51,35.00 168.03,35.91 168.29,36.66 168.23,37.06 167.86,37.00 167.29,36.49 166.68,35.66 166.17,34.75 165.91,34.00 165.96,33.60"/>
<polygon points="170.54,36.36 171.11,36.86 171.74,37.66 172.26,38.54 172.52,39.26 172.45,39.64 172.09,39.57 171.52,39.06 170.91,38.26 170.40,37.38 170.14,36.66 170.19,36.29"/>
<polygon points="174.77,39.05 175.34,39.55 175.97,40.32 176.48,41.17 176.74,41.86 176.68,42.22 176.32,42.14 175.75,41.64 175.13,40.87 174.63,40.02 174.36,39.32 174.41,38.97"/>
<polygon points="179.00,41.74 179.57,42.23 180.19,42.98 180.71,43.80 180.97,44.47 180.91,44.80 180.54,44.71 179.98,44.23 179.36,43.47 178.85,42.65 178.59,41.98 178.64,41.65"/>
<polygon points="183.22,44.42 183.79,44.91 184.42,45.64 184.94,46.43 185.20,47.07 185.14,47.39 184.77,47.29 184.20,46.81 183.59,46.07 183.08,45.28 182.82,44.64 182.87,44.33"/>
<polygon points="158.18,23.20 158.75,23.73 159.42,24.57 159.99,25.50 160.32,26.27 160.31,26.68 159.98,26.62 159.41,26.10 158.76,25.26 158.20,24.32 157.87,23.55 157.86,23.14"/>
<polygon points="162.28,25.95 162.85,26.47 163.51,27.28 164.09,28.18 164.42,28.92 164.41,29.31 164.08,29.23 163.51,28.72 162.86,27.90 162.29,27.00 161.96,26.26 161.96,25.88"/>
<polygon points="166.38,28.70 166.95,29.20 167.61,29.99 168.19,30.86 168.51,31.57 168.51,31.93 168.17,31.85 167.60,31.34 166.95,30.55 166.39,29.68 166.06,28.97 166.05,28.61"/>
<polygon points="170.47,31.43 171.04,31.93 171.71,32.70 172.28,33.54 172.61,34.22 172.60,34.56 172.27,34.47 171.70,33.97 171.05,33.20 170.48,32.36 170.15,31.68 170.15,31.34"/>
<polygon points="174.57,34.17 175.14,34.66 175.80,35.41 176.38,36.22 176.70,36.87 176.70,37.19 176.36,37.09 175.79,36.60 175.14,35.85 174.58,35.04 174.25,34.39 174.24,34.07"/>
<polygon points="178.66,36.90 179.23,37.39 179.90,38.12 180.47,38.90 180.80,39.52 180.79,39.82 180.46,39.72 179.89,39.24 179.24,38.51 178.67,37.72 178.35,37.10 178.34,36.80"/>
<polygon points="153.73,15.57 154.30,16.10 154.99,16.93 155.63,17.85 156.02,18.60 156.07,19.00 155.77,18.93 155.20,18.40 154.51,17.57 153.89,16.65 153.50,15.89 153.44,15.49"/>
<polygon points="157.67,18.37 158.24,18.89 158.94,19.69 159.57,20.58 159.96,21.30 160.01,21.68 159.71,21.59 159.14,21.08 158.46,20.27 157.84,19.38 157.45,18.65 157.38,18.28"/>
<polygon points="161.62,21.17 162.19,21.67 162.88,22.46 163.52,23.31 163.91,24.00 163.96,24.35 163.66,24.26 163.09,23.76 162.40,22.97 161.78,22.11 161.39,21.42 161.33,21.07"/>
<polygon points="165.56,23.96 166.13,24.46 166.83,25.22 167.46,26.04 167.85,26.71 167.90,27.03 167.60,26.93 167.03,26.44 166.35,25.67 165.73,24.84 165.34,24.18 165.27,23.86"/>
<polygon points="169.51,26.75 170.08,27.24 170.77,27.98 171.41,28.78 171.80,29.41 171.85,29.72 171.55,29.61 170.98,29.12 170.29,28.37 169.67,27.58 169.28,26.94 169.22,26.64"/>
<polygon points="173.46,29.53 174.02,30.02 174.72,30.74 175.35,31.51 175.74,32.12 175.79,32.40 175.49,32.29 174.92,31.81 174.24,31.08 173.62,30.31 173.23,29.70 173.17,29.42"/>
</g>
<g stroke="#262626" stroke-width="1" fill="none">
<line x1="36.00" y1="152.60" x2="115.70" y2="210.40" stroke="#262626" stroke-width="1.00"/>
<line x1="115.70" y1="210.40" x2="254.00" y2="177.20" stroke="#262626" stroke-width="1.00"/>
</g>
<line x1="36" y1="152.60" x2="36" y2="38.24" stroke="#262626" stroke-width="1"/>
<line x1="41.20" y1="156.37" x2="38.28" y2="157.07" stroke="#262626" stroke-width="1.00"/>
<line x1="78.45" y1="183.38" x2="75.53" y2="184.08" stroke="#262626" stroke-width="1.00"/>
<line x1="115.70" y1="210.40" x2="112.78" y2="211.10" stroke="#262626" stroke-width="1.00"/>
<line x1="115.70" y1="210.40" x2="118.13" y2="212.16" stroke="#262626" stroke-width="1.00"/>
<line x1="150.28" y1="202.10" x2="152.70" y2="203.86" stroke="#262626" stroke-width="1.00"/>
<line x1="184.85" y1="193.80" x2="187.28" y2="195.56" stroke="#262626" stroke-width="1.00"/>
<line x1="219.43" y1="185.50" x2="221.85" y2="187.26" stroke="#262626" stroke-width="1.00"/>
<line x1="254.00" y1="177.20" x2="256.43" y2="178.96" stroke="#262626" stroke-width="1.00"/>
<line x1="36.00" y1="152.60" x2="33.81" y2="151.01" stroke="#262626" stroke-width="1.00"/>
<line x1="36.00" y1="115.17" x2="33.81" y2="113.58" stroke="#262626" stroke-width="1.00"/>
<line x1="36.00" y1="77.73" x2="33.81" y2="76.15" stroke="#262626" stroke-width="1.00"/>
<line x1="36.00" y1="40.30" x2="33.81" y2="38.71" stroke="#262626" stroke-width="1.00"/>
<text transform="translate(29.40 153.68) scale(1 1.070)" font-size="12.80" text-anchor="end" fill="#262626">0</text>
<text transform="translate(29.40 116.18) scale(1 1.070)" font-size="12.80" text-anchor="end" fill="#262626">10</text>
<text transform="translate(29.40 78.98) scale(1 1.070)" font-size="12.80" text-anchor="end" fill="#262626">20</text>
<text transform="translate(29.40 41.48) scale(1 1.070)" font-size="12.80" text-anchor="end" fill="#262626">30</text>
<text transform="translate(29.70 171.58) scale(1 1.070)" font-size="12.80" text-anchor="middle" fill="#262626">0</text>
<text transform="translate(63.80 198.28) scale(1 1.070)" font-size="12.80" text-anchor="middle" fill="#262626">10</text>
<text transform="translate(100.80 224.98) scale(1 1.070)" font-size="12.80" text-anchor="middle" fill="#262626">20</text>
<text transform="translate(125.50 227.88) scale(1 1.070)" font-size="12.80" text-anchor="middle" fill="#262626">0</text>
<text transform="translate(160.00 219.88) scale(1 1.070)" font-size="12.80" text-anchor="middle" fill="#262626">5</text>
<text transform="translate(198.80 210.98) scale(1 1.070)" font-size="12.80" text-anchor="middle" fill="#262626">10</text>
<text transform="translate(233.10 203.48) scale(1 1.070)" font-size="12.80" text-anchor="middle" fill="#262626">15</text>
<text transform="translate(267.20 195.18) scale(1 1.070)" font-size="12.80" text-anchor="middle" fill="#262626">20</text>
<text x="44.70" y="229.90" font-size="14.00" text-anchor="middle" fill="#262626">x mm</text>
<text x="201.20" y="236.10" font-size="14.00" text-anchor="middle" fill="#262626">y mm</text>
<text x="9.5" y="96.2" font-size="14" text-anchor="middle" fill="#262626" transform="rotate(-90 9.5 96.2)">z mm</text>
<defs><linearGradient id="cb1" x1="0" y1="1" x2="0" y2="0">
<stop offset="0.000" stop-color="#3e26a8"/>
<stop offset="0.017" stop-color="#3e26a8"/>
<stop offset="0.033" stop-color="#3e26a8"/>
<stop offset="0.050" stop-color="#3e27aa"/>
<stop offset="0.067" stop-color="#3f29b4"/>
<stop offset="0.083" stop-color="#402dbe"/>
<stop offset="0.100" stop-color="#4232c8"/>
<stop offset="0.117" stop-color="#4336d2"/>
<stop offset="0.133" stop-color="#443bda"/>
<stop offset="0.150" stop-color="#4542e1"/>
<stop offset="0.167" stop-color="#4648e8"/>
<stop offset="0.183" stop-color="#464eee"/>
<stop offset="0.200" stop-color="#4654f2"/>
<stop offset="0.217" stop-color="#465af7"/>
<stop offset="0.233" stop-color="#4360f9"/>
<stop offset="0.250" stop-color="#4065fa"/>
<stop offset="0.267" stop-color="#3d6bfc"/>
<stop offset="0.283" stop-color="#3871fb"/>
<stop offset="0.300" stop-color="#3377fa"/>
<stop offset="0.317" stop-color="#2e7ef9"/>
<stop offset="0.333" stop-color="#2c83f4"/>
<stop offset="0.350" stop-color="#2a88ef"/>
<stop offset="0.367" stop-color="#288eea"/>
<stop offset="0.383" stop-color="#2593e7"/>
<stop offset="0.400" stop-color="#2299e4"/>
<stop offset="0.417" stop-color="#209ee1"/>
<stop offset="0.433" stop-color="#1ca2dd"/>
<stop offset="0.450" stop-color="#19a7d9"/>
<stop offset="0.467" stop-color="#15abd5"/>
<stop offset="0.483" stop-color="#12aed0"/>
<stop offset="0.500" stop-color="#0eb2cc"/>
<stop offset="0.517" stop-color="#0eb5c6"/>
<stop offset="0.533" stop-color="#14b8bf"/>
<stop offset="0.550" stop-color="#1abcb8"/>
<stop offset="0.567" stop-color="#21bfb1"/>
<stop offset="0.583" stop-color="#29c2a7"/>
<stop offset="0.600" stop-color="#31c49d"/>
<stop offset="0.617" stop-color="#3bc794"/>
<stop offset="0.633" stop-color="#47c88a"/>
<stop offset="0.650" stop-color="#52c981"/>
<stop offset="0.667" stop-color="#60ca76"/>
<stop offset="0.683" stop-color="#6fc969"/>
<stop offset="0.700" stop-color="#7ec85d"/>
<stop offset="0.717" stop-color="#8dc852"/>
<stop offset="0.733" stop-color="#9bc849"/>
<stop offset="0.750" stop-color="#a6c53f"/>
<stop offset="0.767" stop-color="#b0c235"/>
<stop offset="0.783" stop-color="#bec12e"/>
<stop offset="0.800" stop-color="#cdc029"/>
<stop offset="0.817" stop-color="#dbc02c"/>
<stop offset="0.833" stop-color="#e8c030"/>
<stop offset="0.850" stop-color="#efbd34"/>
<stop offset="0.867" stop-color="#f5ba38"/>
<stop offset="0.883" stop-color="#f9be37"/>
<stop offset="0.900" stop-color="#fdc435"/>
<stop offset="0.917" stop-color="#fbcb30"/>
<stop offset="0.933" stop-color="#fad12b"/>
<stop offset="0.950" stop-color="#f8d726"/>
<stop offset="0.967" stop-color="#f6dc23"/>
<stop offset="0.983" stop-color="#f5e220"/>
<stop offset="1.000" stop-color="#f4e71d"/>
</linearGradient><linearGradient id="cb2" x1="0" y1="1" x2="0" y2="0">
<stop offset="0.000" stop-color="#3e26a8"/>
<stop offset="0.017" stop-color="#3f29b2"/>
<stop offset="0.033" stop-color="#3f2cbd"/>
<stop offset="0.050" stop-color="#4131c6"/>
<stop offset="0.067" stop-color="#4335d0"/>
<stop offset="0.083" stop-color="#443ad9"/>
<stop offset="0.100" stop-color="#4540e0"/>
<stop offset="0.117" stop-color="#4647e7"/>
<stop offset="0.133" stop-color="#464ded"/>
<stop offset="0.150" stop-color="#4653f2"/>
<stop offset="0.167" stop-color="#4659f6"/>
<stop offset="0.183" stop-color="#445ff9"/>
<stop offset="0.200" stop-color="#4164fa"/>
<stop offset="0.217" stop-color="#3d6afb"/>
<stop offset="0.233" stop-color="#3970fb"/>
<stop offset="0.250" stop-color="#3476fa"/>
<stop offset="0.267" stop-color="#2f7cf9"/>
<stop offset="0.283" stop-color="#2c82f5"/>
<stop offset="0.300" stop-color="#2a87f0"/>
<stop offset="0.317" stop-color="#288deb"/>
<stop offset="0.333" stop-color="#2692e8"/>
<stop offset="0.350" stop-color="#2398e4"/>
<stop offset="0.367" stop-color="#209ee1"/>
<stop offset="0.383" stop-color="#1da2de"/>
<stop offset="0.400" stop-color="#19a6da"/>
<stop offset="0.417" stop-color="#16aad6"/>
<stop offset="0.433" stop-color="#13add1"/>
<stop offset="0.450" stop-color="#0fb1cc"/>
<stop offset="0.467" stop-color="#0db4c7"/>
<stop offset="0.483" stop-color="#13b8c1"/>
<stop offset="0.500" stop-color="#19bbba"/>
<stop offset="0.517" stop-color="#1fbeb2"/>
<stop offset="0.533" stop-color="#28c1a9"/>
<stop offset="0.550" stop-color="#30c49f"/>
<stop offset="0.567" stop-color="#39c695"/>
<stop offset="0.583" stop-color="#45c88c"/>
<stop offset="0.600" stop-color="#50c982"/>
<stop offset="0.617" stop-color="#5dca78"/>
<stop offset="0.633" stop-color="#6cc96b"/>
<stop offset="0.650" stop-color="#7cc85f"/>
<stop offset="0.667" stop-color="#8ac854"/>
<stop offset="0.683" stop-color="#98c84b"/>
<stop offset="0.700" stop-color="#a4c641"/>
<stop offset="0.717" stop-color="#aec337"/>
<stop offset="0.733" stop-color="#bbc12f"/>
<stop offset="0.750" stop-color="#cac02a"/>
<stop offset="0.767" stop-color="#d9c02b"/>
<stop offset="0.783" stop-color="#e7c030"/>
<stop offset="0.800" stop-color="#eebd33"/>
<stop offset="0.817" stop-color="#f4ba37"/>
<stop offset="0.833" stop-color="#f9bc38"/>
<stop offset="0.850" stop-color="#fcc336"/>
<stop offset="0.867" stop-color="#fcc931"/>
<stop offset="0.883" stop-color="#fad02c"/>
<stop offset="0.900" stop-color="#f8d626"/>
<stop offset="0.917" stop-color="#f7db23"/>
<stop offset="0.933" stop-color="#f5e121"/>
<stop offset="0.950" stop-color="#f4e61e"/>
<stop offset="0.967" stop-color="#f6ed1b"/>
<stop offset="0.983" stop-color="#f7f418"/>
<stop offset="1.000" stop-color="#f9fb15"/>
</linearGradient></defs>
<rect x="276.40" y="4.90" width="12.90" height="206.40" fill="url(#cb1)" stroke="#8a8a8a" stroke-width="0.8"/>
<line x1="287.10" y1="196.41" x2="289.30" y2="196.41" stroke="#555" stroke-width="1.00"/>
<text x="293.40" y="200.36" font-size="11.40" text-anchor="start" fill="#262626">1</text>
<line x1="287.10" y1="175.13" x2="289.30" y2="175.13" stroke="#555" stroke-width="1.00"/>
<text x="293.40" y="179.08" font-size="11.40" text-anchor="start" fill="#262626">2</text>
<line x1="287.10" y1="153.85" x2="289.30" y2="153.85" stroke="#555" stroke-width="1.00"/>
<text x="293.40" y="157.80" font-size="11.40" text-anchor="start" fill="#262626">3</text>
<line x1="287.10" y1="132.57" x2="289.30" y2="132.57" stroke="#555" stroke-width="1.00"/>
<text x="293.40" y="136.52" font-size="11.40" text-anchor="start" fill="#262626">4</text>
<line x1="287.10" y1="111.29" x2="289.30" y2="111.29" stroke="#555" stroke-width="1.00"/>
<text x="293.40" y="115.24" font-size="11.40" text-anchor="start" fill="#262626">5</text>
<line x1="287.10" y1="90.01" x2="289.30" y2="90.01" stroke="#555" stroke-width="1.00"/>
<text x="293.40" y="93.96" font-size="11.40" text-anchor="start" fill="#262626">6</text>
<line x1="287.10" y1="68.74" x2="289.30" y2="68.74" stroke="#555" stroke-width="1.00"/>
<text x="293.40" y="72.69" font-size="11.40" text-anchor="start" fill="#262626">7</text>
<line x1="287.10" y1="47.46" x2="289.30" y2="47.46" stroke="#555" stroke-width="1.00"/>
<text x="293.40" y="51.41" font-size="11.40" text-anchor="start" fill="#262626">8</text>
<line x1="287.10" y1="26.18" x2="289.30" y2="26.18" stroke="#555" stroke-width="1.00"/>
<text x="293.40" y="30.13" font-size="11.40" text-anchor="start" fill="#262626">9</text>
<line x1="287.10" y1="4.90" x2="289.30" y2="4.90" stroke="#555" stroke-width="1.00"/>
<text x="293.40" y="8.85" font-size="11.40" text-anchor="start" fill="#262626">10</text>
<text x="320.1" y="107.3" font-size="11.8" text-anchor="middle" fill="#262626" transform="rotate(-90 320.1 107.3)">Pressure(MPa)</text>
<text transform="translate(161.2 256.9) scale(1.08 0.9)" font-size="11.6" text-anchor="middle" fill="#111" stroke="#111" stroke-width="0.12" style="font-family:'Liberation Serif',serif">(a)</text>
<g stroke="#ebebeb" stroke-width="1.8">
<line x1="440.00" y1="5.05" x2="440.00" y2="200.50"/>
<line x1="486.00" y1="5.05" x2="486.00" y2="200.50"/>
<line x1="532.00" y1="5.05" x2="532.00" y2="200.50"/>
<line x1="578.00" y1="5.05" x2="578.00" y2="200.50"/>
<line x1="624.00" y1="5.05" x2="624.00" y2="200.50"/>
<line x1="394.00" y1="151.64" x2="624.00" y2="151.64"/>
<line x1="394.00" y1="102.77" x2="624.00" y2="102.77"/>
<line x1="394.00" y1="53.91" x2="624.00" y2="53.91"/>
<line x1="394.00" y1="5.05" x2="624.00" y2="5.05"/>
</g>
<line x1="394" y1="5.05" x2="394" y2="201" stroke="#262626" stroke-width="1"/>
<line x1="393.5" y1="200.7" x2="624.00" y2="200.7" stroke="#666" stroke-width="1.1"/>
<path d="M624.00,200.50 A184.000,195.450 0 0 0 426.68,5.56 L429.01,39.68 A151.800,161.246 0 0 1 591.80,200.50 Z" fill="#3e26a8"/>
<defs><filter id="bl2" x="-50%" y="-50%" width="200%" height="200%"><feGaussianBlur stdDeviation="0.5"/></filter><filter id="bl2b" x="-50%" y="-50%" width="200%" height="200%"><feGaussianBlur stdDeviation="0.35"/></filter></defs>
<g fill="#3fb6a0" filter="url(#bl2)">
<ellipse cx="594.41" cy="195.49" rx="2.3" ry="1.4" transform="rotate(-91.6 594.41 195.49)"/>
<ellipse cx="599.78" cy="195.31" rx="2.3" ry="1.4" transform="rotate(-91.6 599.78 195.31)"/>
<ellipse cx="605.14" cy="195.14" rx="2.3" ry="1.4" transform="rotate(-91.6 605.14 195.14)"/>
<ellipse cx="610.50" cy="194.97" rx="2.3" ry="1.4" transform="rotate(-91.6 610.50 194.97)"/>
<ellipse cx="615.87" cy="194.79" rx="2.3" ry="1.4" transform="rotate(-91.6 615.87 194.79)"/>
<ellipse cx="621.23" cy="194.62" rx="2.3" ry="1.4" transform="rotate(-91.6 621.23 194.62)"/>
<ellipse cx="593.72" cy="184.24" rx="2.3" ry="1.4" transform="rotate(-95.4 593.72 184.24)"/>
<ellipse cx="599.06" cy="183.68" rx="2.3" ry="1.4" transform="rotate(-95.4 599.06 183.68)"/>
<ellipse cx="604.40" cy="183.12" rx="2.3" ry="1.4" transform="rotate(-95.4 604.40 183.12)"/>
<ellipse cx="609.74" cy="182.55" rx="2.3" ry="1.4" transform="rotate(-95.4 609.74 182.55)"/>
<ellipse cx="615.08" cy="181.99" rx="2.3" ry="1.4" transform="rotate(-95.4 615.08 181.99)"/>
<ellipse cx="620.42" cy="181.42" rx="2.3" ry="1.4" transform="rotate(-95.4 620.42 181.42)"/>
<ellipse cx="592.31" cy="173.08" rx="2.3" ry="1.4" transform="rotate(-99.1 592.31 173.08)"/>
<ellipse cx="597.60" cy="172.12" rx="2.3" ry="1.4" transform="rotate(-99.1 597.60 172.12)"/>
<ellipse cx="602.89" cy="171.17" rx="2.3" ry="1.4" transform="rotate(-99.1 602.89 171.17)"/>
<ellipse cx="608.18" cy="170.22" rx="2.3" ry="1.4" transform="rotate(-99.1 608.18 170.22)"/>
<ellipse cx="613.48" cy="169.27" rx="2.3" ry="1.4" transform="rotate(-99.1 613.48 169.27)"/>
<ellipse cx="618.77" cy="168.31" rx="2.3" ry="1.4" transform="rotate(-99.1 618.77 168.31)"/>
<ellipse cx="590.18" cy="162.04" rx="2.3" ry="1.4" transform="rotate(-102.8 590.18 162.04)"/>
<ellipse cx="595.40" cy="160.70" rx="2.3" ry="1.4" transform="rotate(-102.8 595.40 160.70)"/>
<ellipse cx="600.61" cy="159.37" rx="2.3" ry="1.4" transform="rotate(-102.8 600.61 159.37)"/>
<ellipse cx="605.83" cy="158.03" rx="2.3" ry="1.4" transform="rotate(-102.8 605.83 158.03)"/>
<ellipse cx="611.05" cy="156.69" rx="2.3" ry="1.4" transform="rotate(-102.8 611.05 156.69)"/>
<ellipse cx="616.27" cy="155.36" rx="2.3" ry="1.4" transform="rotate(-102.8 616.27 155.36)"/>
<ellipse cx="587.34" cy="151.18" rx="2.3" ry="1.4" transform="rotate(-106.5 587.34 151.18)"/>
<ellipse cx="592.46" cy="149.47" rx="2.3" ry="1.4" transform="rotate(-106.5 592.46 149.47)"/>
<ellipse cx="597.58" cy="147.76" rx="2.3" ry="1.4" transform="rotate(-106.5 597.58 147.76)"/>
<ellipse cx="602.70" cy="146.04" rx="2.3" ry="1.4" transform="rotate(-106.5 602.70 146.04)"/>
<ellipse cx="607.82" cy="144.33" rx="2.3" ry="1.4" transform="rotate(-106.5 607.82 144.33)"/>
<ellipse cx="612.93" cy="142.62" rx="2.3" ry="1.4" transform="rotate(-106.5 612.93 142.62)"/>
<ellipse cx="583.81" cy="140.56" rx="2.3" ry="1.4" transform="rotate(-110.3 583.81 140.56)"/>
<ellipse cx="588.80" cy="138.48" rx="2.3" ry="1.4" transform="rotate(-110.3 588.80 138.48)"/>
<ellipse cx="593.80" cy="136.39" rx="2.3" ry="1.4" transform="rotate(-110.3 593.80 136.39)"/>
<ellipse cx="598.80" cy="134.31" rx="2.3" ry="1.4" transform="rotate(-110.3 598.80 134.31)"/>
<ellipse cx="603.79" cy="132.23" rx="2.3" ry="1.4" transform="rotate(-110.3 603.79 132.23)"/>
<ellipse cx="608.79" cy="130.15" rx="2.3" ry="1.4" transform="rotate(-110.3 608.79 130.15)"/>
<ellipse cx="579.60" cy="130.22" rx="2.3" ry="1.4" transform="rotate(-114.0 579.60 130.22)"/>
<ellipse cx="584.45" cy="127.78" rx="2.3" ry="1.4" transform="rotate(-114.0 584.45 127.78)"/>
<ellipse cx="589.30" cy="125.33" rx="2.3" ry="1.4" transform="rotate(-114.0 589.30 125.33)"/>
<ellipse cx="594.14" cy="122.89" rx="2.3" ry="1.4" transform="rotate(-114.0 594.14 122.89)"/>
<ellipse cx="598.99" cy="120.45" rx="2.3" ry="1.4" transform="rotate(-114.0 598.99 120.45)"/>
<ellipse cx="603.84" cy="118.01" rx="2.3" ry="1.4" transform="rotate(-114.0 603.84 118.01)"/>
<ellipse cx="574.73" cy="120.21" rx="2.3" ry="1.4" transform="rotate(-117.8 574.73 120.21)"/>
<ellipse cx="579.41" cy="117.42" rx="2.3" ry="1.4" transform="rotate(-117.8 579.41 117.42)"/>
<ellipse cx="584.09" cy="114.63" rx="2.3" ry="1.4" transform="rotate(-117.8 584.09 114.63)"/>
<ellipse cx="588.77" cy="111.84" rx="2.3" ry="1.4" transform="rotate(-117.8 588.77 111.84)"/>
<ellipse cx="593.45" cy="109.05" rx="2.3" ry="1.4" transform="rotate(-117.8 593.45 109.05)"/>
<ellipse cx="598.13" cy="106.26" rx="2.3" ry="1.4" transform="rotate(-117.8 598.13 106.26)"/>
<ellipse cx="569.22" cy="110.57" rx="2.3" ry="1.4" transform="rotate(-121.7 569.22 110.57)"/>
<ellipse cx="573.71" cy="107.45" rx="2.3" ry="1.4" transform="rotate(-121.7 573.71 107.45)"/>
<ellipse cx="578.20" cy="104.33" rx="2.3" ry="1.4" transform="rotate(-121.7 578.20 104.33)"/>
<ellipse cx="582.69" cy="101.20" rx="2.3" ry="1.4" transform="rotate(-121.7 582.69 101.20)"/>
<ellipse cx="587.18" cy="98.08" rx="2.3" ry="1.4" transform="rotate(-121.7 587.18 98.08)"/>
<ellipse cx="591.67" cy="94.96" rx="2.3" ry="1.4" transform="rotate(-121.7 591.67 94.96)"/>
<ellipse cx="563.11" cy="101.37" rx="2.3" ry="1.4" transform="rotate(-125.5 563.11 101.37)"/>
<ellipse cx="567.38" cy="97.92" rx="2.3" ry="1.4" transform="rotate(-125.5 567.38 97.92)"/>
<ellipse cx="571.66" cy="94.48" rx="2.3" ry="1.4" transform="rotate(-125.5 571.66 94.48)"/>
<ellipse cx="575.94" cy="91.04" rx="2.3" ry="1.4" transform="rotate(-125.5 575.94 91.04)"/>
<ellipse cx="580.21" cy="87.59" rx="2.3" ry="1.4" transform="rotate(-125.5 580.21 87.59)"/>
<ellipse cx="584.49" cy="84.15" rx="2.3" ry="1.4" transform="rotate(-125.5 584.49 84.15)"/>
<ellipse cx="556.41" cy="92.63" rx="2.3" ry="1.4" transform="rotate(-129.4 556.41 92.63)"/>
<ellipse cx="560.46" cy="88.88" rx="2.3" ry="1.4" transform="rotate(-129.4 560.46 88.88)"/>
<ellipse cx="564.50" cy="85.13" rx="2.3" ry="1.4" transform="rotate(-129.4 564.50 85.13)"/>
<ellipse cx="568.55" cy="81.38" rx="2.3" ry="1.4" transform="rotate(-129.4 568.55 81.38)"/>
<ellipse cx="572.59" cy="77.64" rx="2.3" ry="1.4" transform="rotate(-129.4 572.59 77.64)"/>
<ellipse cx="576.63" cy="73.89" rx="2.3" ry="1.4" transform="rotate(-129.4 576.63 73.89)"/>
<ellipse cx="549.17" cy="84.40" rx="2.3" ry="1.4" transform="rotate(-133.3 549.17 84.40)"/>
<ellipse cx="552.96" cy="80.36" rx="2.3" ry="1.4" transform="rotate(-133.3 552.96 80.36)"/>
<ellipse cx="556.75" cy="76.33" rx="2.3" ry="1.4" transform="rotate(-133.3 556.75 76.33)"/>
<ellipse cx="560.55" cy="72.30" rx="2.3" ry="1.4" transform="rotate(-133.3 560.55 72.30)"/>
<ellipse cx="564.34" cy="68.26" rx="2.3" ry="1.4" transform="rotate(-133.3 564.34 68.26)"/>
<ellipse cx="568.13" cy="64.23" rx="2.3" ry="1.4" transform="rotate(-133.3 568.13 64.23)"/>
<ellipse cx="541.41" cy="76.71" rx="2.3" ry="1.4" transform="rotate(-137.3 541.41 76.71)"/>
<ellipse cx="544.93" cy="72.41" rx="2.3" ry="1.4" transform="rotate(-137.3 544.93 72.41)"/>
<ellipse cx="548.46" cy="68.11" rx="2.3" ry="1.4" transform="rotate(-137.3 548.46 68.11)"/>
<ellipse cx="551.98" cy="63.81" rx="2.3" ry="1.4" transform="rotate(-137.3 551.98 63.81)"/>
<ellipse cx="555.50" cy="59.51" rx="2.3" ry="1.4" transform="rotate(-137.3 555.50 59.51)"/>
<ellipse cx="559.03" cy="55.21" rx="2.3" ry="1.4" transform="rotate(-137.3 559.03 55.21)"/>
<ellipse cx="533.17" cy="69.61" rx="2.3" ry="1.4" transform="rotate(-141.2 533.17 69.61)"/>
<ellipse cx="536.41" cy="65.06" rx="2.3" ry="1.4" transform="rotate(-141.2 536.41 65.06)"/>
<ellipse cx="539.65" cy="60.52" rx="2.3" ry="1.4" transform="rotate(-141.2 539.65 60.52)"/>
<ellipse cx="542.89" cy="55.97" rx="2.3" ry="1.4" transform="rotate(-141.2 542.89 55.97)"/>
<ellipse cx="546.12" cy="51.42" rx="2.3" ry="1.4" transform="rotate(-141.2 546.12 51.42)"/>
<ellipse cx="549.36" cy="46.88" rx="2.3" ry="1.4" transform="rotate(-141.2 549.36 46.88)"/>
<ellipse cx="524.50" cy="63.13" rx="2.3" ry="1.4" transform="rotate(-145.2 524.50 63.13)"/>
<ellipse cx="527.43" cy="58.35" rx="2.3" ry="1.4" transform="rotate(-145.2 527.43 58.35)"/>
<ellipse cx="530.37" cy="53.58" rx="2.3" ry="1.4" transform="rotate(-145.2 530.37 53.58)"/>
<ellipse cx="533.31" cy="48.81" rx="2.3" ry="1.4" transform="rotate(-145.2 533.31 48.81)"/>
<ellipse cx="536.24" cy="44.04" rx="2.3" ry="1.4" transform="rotate(-145.2 536.24 44.04)"/>
<ellipse cx="539.18" cy="39.27" rx="2.3" ry="1.4" transform="rotate(-145.2 539.18 39.27)"/>
<ellipse cx="515.43" cy="57.29" rx="2.3" ry="1.4" transform="rotate(-149.3 515.43 57.29)"/>
<ellipse cx="518.05" cy="52.32" rx="2.3" ry="1.4" transform="rotate(-149.3 518.05 52.32)"/>
<ellipse cx="520.67" cy="47.34" rx="2.3" ry="1.4" transform="rotate(-149.3 520.67 47.34)"/>
<ellipse cx="523.29" cy="42.37" rx="2.3" ry="1.4" transform="rotate(-149.3 523.29 42.37)"/>
<ellipse cx="525.91" cy="37.39" rx="2.3" ry="1.4" transform="rotate(-149.3 525.91 37.39)"/>
<ellipse cx="528.53" cy="32.42" rx="2.3" ry="1.4" transform="rotate(-149.3 528.53 32.42)"/>
<ellipse cx="506.00" cy="52.13" rx="2.3" ry="1.4" transform="rotate(-153.3 506.00 52.13)"/>
<ellipse cx="508.29" cy="46.98" rx="2.3" ry="1.4" transform="rotate(-153.3 508.29 46.98)"/>
<ellipse cx="510.58" cy="41.82" rx="2.3" ry="1.4" transform="rotate(-153.3 510.58 41.82)"/>
<ellipse cx="512.87" cy="36.67" rx="2.3" ry="1.4" transform="rotate(-153.3 512.87 36.67)"/>
<ellipse cx="515.17" cy="31.51" rx="2.3" ry="1.4" transform="rotate(-153.3 515.17 31.51)"/>
<ellipse cx="517.46" cy="26.36" rx="2.3" ry="1.4" transform="rotate(-153.3 517.46 26.36)"/>
<ellipse cx="496.25" cy="47.67" rx="2.3" ry="1.4" transform="rotate(-157.4 496.25 47.67)"/>
<ellipse cx="498.21" cy="42.36" rx="2.3" ry="1.4" transform="rotate(-157.4 498.21 42.36)"/>
<ellipse cx="500.16" cy="37.05" rx="2.3" ry="1.4" transform="rotate(-157.4 500.16 37.05)"/>
<ellipse cx="502.12" cy="31.74" rx="2.3" ry="1.4" transform="rotate(-157.4 502.12 31.74)"/>
<ellipse cx="504.07" cy="26.43" rx="2.3" ry="1.4" transform="rotate(-157.4 504.07 26.43)"/>
<ellipse cx="506.03" cy="21.12" rx="2.3" ry="1.4" transform="rotate(-157.4 506.03 21.12)"/>
<ellipse cx="486.25" cy="43.93" rx="2.3" ry="1.4" transform="rotate(-161.6 486.25 43.93)"/>
<ellipse cx="487.85" cy="38.49" rx="2.3" ry="1.4" transform="rotate(-161.6 487.85 38.49)"/>
<ellipse cx="489.46" cy="33.05" rx="2.3" ry="1.4" transform="rotate(-161.6 489.46 33.05)"/>
<ellipse cx="491.07" cy="27.61" rx="2.3" ry="1.4" transform="rotate(-161.6 491.07 27.61)"/>
<ellipse cx="492.67" cy="22.17" rx="2.3" ry="1.4" transform="rotate(-161.6 492.67 22.17)"/>
<ellipse cx="494.28" cy="16.73" rx="2.3" ry="1.4" transform="rotate(-161.6 494.28 16.73)"/>
<ellipse cx="476.02" cy="40.93" rx="2.3" ry="1.4" transform="rotate(-165.7 476.02 40.93)"/>
<ellipse cx="477.28" cy="35.38" rx="2.3" ry="1.4" transform="rotate(-165.7 477.28 35.38)"/>
<ellipse cx="478.53" cy="29.84" rx="2.3" ry="1.4" transform="rotate(-165.7 478.53 29.84)"/>
<ellipse cx="479.78" cy="24.30" rx="2.3" ry="1.4" transform="rotate(-165.7 479.78 24.30)"/>
<ellipse cx="481.03" cy="18.75" rx="2.3" ry="1.4" transform="rotate(-165.7 481.03 18.75)"/>
<ellipse cx="482.28" cy="13.21" rx="2.3" ry="1.4" transform="rotate(-165.7 482.28 13.21)"/>
<ellipse cx="465.63" cy="38.68" rx="2.3" ry="1.4" transform="rotate(-169.9 465.63 38.68)"/>
<ellipse cx="466.52" cy="33.06" rx="2.3" ry="1.4" transform="rotate(-169.9 466.52 33.06)"/>
<ellipse cx="467.41" cy="27.43" rx="2.3" ry="1.4" transform="rotate(-169.9 467.41 27.43)"/>
<ellipse cx="468.30" cy="21.81" rx="2.3" ry="1.4" transform="rotate(-169.9 468.30 21.81)"/>
<ellipse cx="469.19" cy="16.19" rx="2.3" ry="1.4" transform="rotate(-169.9 469.19 16.19)"/>
<ellipse cx="470.08" cy="10.57" rx="2.3" ry="1.4" transform="rotate(-169.9 470.08 10.57)"/>
<ellipse cx="455.12" cy="37.19" rx="2.3" ry="1.4" transform="rotate(-174.0 455.12 37.19)"/>
<ellipse cx="455.64" cy="31.52" rx="2.3" ry="1.4" transform="rotate(-174.0 455.64 31.52)"/>
<ellipse cx="456.17" cy="25.84" rx="2.3" ry="1.4" transform="rotate(-174.0 456.17 25.84)"/>
<ellipse cx="456.69" cy="20.17" rx="2.3" ry="1.4" transform="rotate(-174.0 456.69 20.17)"/>
<ellipse cx="457.22" cy="14.50" rx="2.3" ry="1.4" transform="rotate(-174.0 457.22 14.50)"/>
<ellipse cx="457.74" cy="8.82" rx="2.3" ry="1.4" transform="rotate(-174.0 457.74 8.82)"/>
<ellipse cx="444.53" cy="36.47" rx="2.3" ry="1.4" transform="rotate(-178.2 444.53 36.47)"/>
<ellipse cx="444.69" cy="30.78" rx="2.3" ry="1.4" transform="rotate(-178.2 444.69 30.78)"/>
<ellipse cx="444.84" cy="25.08" rx="2.3" ry="1.4" transform="rotate(-178.2 444.84 25.08)"/>
<ellipse cx="445.00" cy="19.38" rx="2.3" ry="1.4" transform="rotate(-178.2 445.00 19.38)"/>
<ellipse cx="445.16" cy="13.68" rx="2.3" ry="1.4" transform="rotate(-178.2 445.16 13.68)"/>
<ellipse cx="445.32" cy="7.98" rx="2.3" ry="1.4" transform="rotate(-178.2 445.32 7.98)"/>
<ellipse cx="433.92" cy="36.53" rx="2.3" ry="1.4" transform="rotate(177.6 433.92 36.53)"/>
<ellipse cx="433.71" cy="30.83" rx="2.3" ry="1.4" transform="rotate(177.6 433.71 30.83)"/>
<ellipse cx="433.50" cy="25.14" rx="2.3" ry="1.4" transform="rotate(177.6 433.50 25.14)"/>
<ellipse cx="433.29" cy="19.44" rx="2.3" ry="1.4" transform="rotate(177.6 433.29 19.44)"/>
<ellipse cx="433.08" cy="13.75" rx="2.3" ry="1.4" transform="rotate(177.6 433.08 13.75)"/>
<ellipse cx="432.87" cy="8.05" rx="2.3" ry="1.4" transform="rotate(177.6 432.87 8.05)"/>
</g>
<g fill="#f6e42a" filter="url(#bl2b)">
<ellipse cx="594.41" cy="195.49" rx="1.55" ry="0.85" transform="rotate(-91.6 594.41 195.49)"/>
<ellipse cx="599.78" cy="195.31" rx="1.55" ry="0.85" transform="rotate(-91.6 599.78 195.31)"/>
<ellipse cx="605.14" cy="195.14" rx="1.55" ry="0.85" transform="rotate(-91.6 605.14 195.14)"/>
<ellipse cx="610.50" cy="194.97" rx="1.55" ry="0.85" transform="rotate(-91.6 610.50 194.97)"/>
<ellipse cx="615.87" cy="194.79" rx="1.55" ry="0.85" transform="rotate(-91.6 615.87 194.79)"/>
<ellipse cx="621.23" cy="194.62" rx="1.55" ry="0.85" transform="rotate(-91.6 621.23 194.62)"/>
<ellipse cx="593.72" cy="184.24" rx="1.55" ry="0.85" transform="rotate(-95.4 593.72 184.24)"/>
<ellipse cx="599.06" cy="183.68" rx="1.55" ry="0.85" transform="rotate(-95.4 599.06 183.68)"/>
<ellipse cx="604.40" cy="183.12" rx="1.55" ry="0.85" transform="rotate(-95.4 604.40 183.12)"/>
<ellipse cx="609.74" cy="182.55" rx="1.55" ry="0.85" transform="rotate(-95.4 609.74 182.55)"/>
<ellipse cx="615.08" cy="181.99" rx="1.55" ry="0.85" transform="rotate(-95.4 615.08 181.99)"/>
<ellipse cx="620.42" cy="181.42" rx="1.55" ry="0.85" transform="rotate(-95.4 620.42 181.42)"/>
<ellipse cx="592.31" cy="173.08" rx="1.55" ry="0.85" transform="rotate(-99.1 592.31 173.08)"/>
<ellipse cx="597.60" cy="172.12" rx="1.55" ry="0.85" transform="rotate(-99.1 597.60 172.12)"/>
<ellipse cx="602.89" cy="171.17" rx="1.55" ry="0.85" transform="rotate(-99.1 602.89 171.17)"/>
<ellipse cx="608.18" cy="170.22" rx="1.55" ry="0.85" transform="rotate(-99.1 608.18 170.22)"/>
<ellipse cx="613.48" cy="169.27" rx="1.55" ry="0.85" transform="rotate(-99.1 613.48 169.27)"/>
<ellipse cx="618.77" cy="168.31" rx="1.55" ry="0.85" transform="rotate(-99.1 618.77 168.31)"/>
<ellipse cx="590.18" cy="162.04" rx="1.55" ry="0.85" transform="rotate(-102.8 590.18 162.04)"/>
<ellipse cx="595.40" cy="160.70" rx="1.55" ry="0.85" transform="rotate(-102.8 595.40 160.70)"/>
<ellipse cx="600.61" cy="159.37" rx="1.55" ry="0.85" transform="rotate(-102.8 600.61 159.37)"/>
<ellipse cx="605.83" cy="158.03" rx="1.55" ry="0.85" transform="rotate(-102.8 605.83 158.03)"/>
<ellipse cx="611.05" cy="156.69" rx="1.55" ry="0.85" transform="rotate(-102.8 611.05 156.69)"/>
<ellipse cx="616.27" cy="155.36" rx="1.55" ry="0.85" transform="rotate(-102.8 616.27 155.36)"/>
<ellipse cx="587.34" cy="151.18" rx="1.55" ry="0.85" transform="rotate(-106.5 587.34 151.18)"/>
<ellipse cx="592.46" cy="149.47" rx="1.55" ry="0.85" transform="rotate(-106.5 592.46 149.47)"/>
<ellipse cx="597.58" cy="147.76" rx="1.55" ry="0.85" transform="rotate(-106.5 597.58 147.76)"/>
<ellipse cx="602.70" cy="146.04" rx="1.55" ry="0.85" transform="rotate(-106.5 602.70 146.04)"/>
<ellipse cx="607.82" cy="144.33" rx="1.55" ry="0.85" transform="rotate(-106.5 607.82 144.33)"/>
<ellipse cx="612.93" cy="142.62" rx="1.55" ry="0.85" transform="rotate(-106.5 612.93 142.62)"/>
<ellipse cx="583.81" cy="140.56" rx="1.55" ry="0.85" transform="rotate(-110.3 583.81 140.56)"/>
<ellipse cx="588.80" cy="138.48" rx="1.55" ry="0.85" transform="rotate(-110.3 588.80 138.48)"/>
<ellipse cx="593.80" cy="136.39" rx="1.55" ry="0.85" transform="rotate(-110.3 593.80 136.39)"/>
<ellipse cx="598.80" cy="134.31" rx="1.55" ry="0.85" transform="rotate(-110.3 598.80 134.31)"/>
<ellipse cx="603.79" cy="132.23" rx="1.55" ry="0.85" transform="rotate(-110.3 603.79 132.23)"/>
<ellipse cx="608.79" cy="130.15" rx="1.55" ry="0.85" transform="rotate(-110.3 608.79 130.15)"/>
<ellipse cx="579.60" cy="130.22" rx="1.55" ry="0.85" transform="rotate(-114.0 579.60 130.22)"/>
<ellipse cx="584.45" cy="127.78" rx="1.55" ry="0.85" transform="rotate(-114.0 584.45 127.78)"/>
<ellipse cx="589.30" cy="125.33" rx="1.55" ry="0.85" transform="rotate(-114.0 589.30 125.33)"/>
<ellipse cx="594.14" cy="122.89" rx="1.55" ry="0.85" transform="rotate(-114.0 594.14 122.89)"/>
<ellipse cx="598.99" cy="120.45" rx="1.55" ry="0.85" transform="rotate(-114.0 598.99 120.45)"/>
<ellipse cx="603.84" cy="118.01" rx="1.55" ry="0.85" transform="rotate(-114.0 603.84 118.01)"/>
<ellipse cx="574.73" cy="120.21" rx="1.55" ry="0.85" transform="rotate(-117.8 574.73 120.21)"/>
<ellipse cx="579.41" cy="117.42" rx="1.55" ry="0.85" transform="rotate(-117.8 579.41 117.42)"/>
<ellipse cx="584.09" cy="114.63" rx="1.55" ry="0.85" transform="rotate(-117.8 584.09 114.63)"/>
<ellipse cx="588.77" cy="111.84" rx="1.55" ry="0.85" transform="rotate(-117.8 588.77 111.84)"/>
<ellipse cx="593.45" cy="109.05" rx="1.55" ry="0.85" transform="rotate(-117.8 593.45 109.05)"/>
<ellipse cx="598.13" cy="106.26" rx="1.55" ry="0.85" transform="rotate(-117.8 598.13 106.26)"/>
<ellipse cx="569.22" cy="110.57" rx="1.55" ry="0.85" transform="rotate(-121.7 569.22 110.57)"/>
<ellipse cx="573.71" cy="107.45" rx="1.55" ry="0.85" transform="rotate(-121.7 573.71 107.45)"/>
<ellipse cx="578.20" cy="104.33" rx="1.55" ry="0.85" transform="rotate(-121.7 578.20 104.33)"/>
<ellipse cx="582.69" cy="101.20" rx="1.55" ry="0.85" transform="rotate(-121.7 582.69 101.20)"/>
<ellipse cx="587.18" cy="98.08" rx="1.55" ry="0.85" transform="rotate(-121.7 587.18 98.08)"/>
<ellipse cx="591.67" cy="94.96" rx="1.55" ry="0.85" transform="rotate(-121.7 591.67 94.96)"/>
<ellipse cx="563.11" cy="101.37" rx="1.55" ry="0.85" transform="rotate(-125.5 563.11 101.37)"/>
<ellipse cx="567.38" cy="97.92" rx="1.55" ry="0.85" transform="rotate(-125.5 567.38 97.92)"/>
<ellipse cx="571.66" cy="94.48" rx="1.55" ry="0.85" transform="rotate(-125.5 571.66 94.48)"/>
<ellipse cx="575.94" cy="91.04" rx="1.55" ry="0.85" transform="rotate(-125.5 575.94 91.04)"/>
<ellipse cx="580.21" cy="87.59" rx="1.55" ry="0.85" transform="rotate(-125.5 580.21 87.59)"/>
<ellipse cx="584.49" cy="84.15" rx="1.55" ry="0.85" transform="rotate(-125.5 584.49 84.15)"/>
<ellipse cx="556.41" cy="92.63" rx="1.55" ry="0.85" transform="rotate(-129.4 556.41 92.63)"/>
<ellipse cx="560.46" cy="88.88" rx="1.55" ry="0.85" transform="rotate(-129.4 560.46 88.88)"/>
<ellipse cx="564.50" cy="85.13" rx="1.55" ry="0.85" transform="rotate(-129.4 564.50 85.13)"/>
<ellipse cx="568.55" cy="81.38" rx="1.55" ry="0.85" transform="rotate(-129.4 568.55 81.38)"/>
<ellipse cx="572.59" cy="77.64" rx="1.55" ry="0.85" transform="rotate(-129.4 572.59 77.64)"/>
<ellipse cx="576.63" cy="73.89" rx="1.55" ry="0.85" transform="rotate(-129.4 576.63 73.89)"/>
<ellipse cx="549.17" cy="84.40" rx="1.55" ry="0.85" transform="rotate(-133.3 549.17 84.40)"/>
<ellipse cx="552.96" cy="80.36" rx="1.55" ry="0.85" transform="rotate(-133.3 552.96 80.36)"/>
<ellipse cx="556.75" cy="76.33" rx="1.55" ry="0.85" transform="rotate(-133.3 556.75 76.33)"/>
<ellipse cx="560.55" cy="72.30" rx="1.55" ry="0.85" transform="rotate(-133.3 560.55 72.30)"/>
<ellipse cx="564.34" cy="68.26" rx="1.55" ry="0.85" transform="rotate(-133.3 564.34 68.26)"/>
<ellipse cx="568.13" cy="64.23" rx="1.55" ry="0.85" transform="rotate(-133.3 568.13 64.23)"/>
<ellipse cx="541.41" cy="76.71" rx="1.55" ry="0.85" transform="rotate(-137.3 541.41 76.71)"/>
<ellipse cx="544.93" cy="72.41" rx="1.55" ry="0.85" transform="rotate(-137.3 544.93 72.41)"/>
<ellipse cx="548.46" cy="68.11" rx="1.55" ry="0.85" transform="rotate(-137.3 548.46 68.11)"/>
<ellipse cx="551.98" cy="63.81" rx="1.55" ry="0.85" transform="rotate(-137.3 551.98 63.81)"/>
<ellipse cx="555.50" cy="59.51" rx="1.55" ry="0.85" transform="rotate(-137.3 555.50 59.51)"/>
<ellipse cx="559.03" cy="55.21" rx="1.55" ry="0.85" transform="rotate(-137.3 559.03 55.21)"/>
<ellipse cx="533.17" cy="69.61" rx="1.55" ry="0.85" transform="rotate(-141.2 533.17 69.61)"/>
<ellipse cx="536.41" cy="65.06" rx="1.55" ry="0.85" transform="rotate(-141.2 536.41 65.06)"/>
<ellipse cx="539.65" cy="60.52" rx="1.55" ry="0.85" transform="rotate(-141.2 539.65 60.52)"/>
<ellipse cx="542.89" cy="55.97" rx="1.55" ry="0.85" transform="rotate(-141.2 542.89 55.97)"/>
<ellipse cx="546.12" cy="51.42" rx="1.55" ry="0.85" transform="rotate(-141.2 546.12 51.42)"/>
<ellipse cx="549.36" cy="46.88" rx="1.55" ry="0.85" transform="rotate(-141.2 549.36 46.88)"/>
<ellipse cx="524.50" cy="63.13" rx="1.55" ry="0.85" transform="rotate(-145.2 524.50 63.13)"/>
<ellipse cx="527.43" cy="58.35" rx="1.55" ry="0.85" transform="rotate(-145.2 527.43 58.35)"/>
<ellipse cx="530.37" cy="53.58" rx="1.55" ry="0.85" transform="rotate(-145.2 530.37 53.58)"/>
<ellipse cx="533.31" cy="48.81" rx="1.55" ry="0.85" transform="rotate(-145.2 533.31 48.81)"/>
<ellipse cx="536.24" cy="44.04" rx="1.55" ry="0.85" transform="rotate(-145.2 536.24 44.04)"/>
<ellipse cx="539.18" cy="39.27" rx="1.55" ry="0.85" transform="rotate(-145.2 539.18 39.27)"/>
<ellipse cx="515.43" cy="57.29" rx="1.55" ry="0.85" transform="rotate(-149.3 515.43 57.29)"/>
<ellipse cx="518.05" cy="52.32" rx="1.55" ry="0.85" transform="rotate(-149.3 518.05 52.32)"/>
<ellipse cx="520.67" cy="47.34" rx="1.55" ry="0.85" transform="rotate(-149.3 520.67 47.34)"/>
<ellipse cx="523.29" cy="42.37" rx="1.55" ry="0.85" transform="rotate(-149.3 523.29 42.37)"/>
<ellipse cx="525.91" cy="37.39" rx="1.55" ry="0.85" transform="rotate(-149.3 525.91 37.39)"/>
<ellipse cx="528.53" cy="32.42" rx="1.55" ry="0.85" transform="rotate(-149.3 528.53 32.42)"/>
<ellipse cx="506.00" cy="52.13" rx="1.55" ry="0.85" transform="rotate(-153.3 506.00 52.13)"/>
<ellipse cx="508.29" cy="46.98" rx="1.55" ry="0.85" transform="rotate(-153.3 508.29 46.98)"/>
<ellipse cx="510.58" cy="41.82" rx="1.55" ry="0.85" transform="rotate(-153.3 510.58 41.82)"/>
<ellipse cx="512.87" cy="36.67" rx="1.55" ry="0.85" transform="rotate(-153.3 512.87 36.67)"/>
<ellipse cx="515.17" cy="31.51" rx="1.55" ry="0.85" transform="rotate(-153.3 515.17 31.51)"/>
<ellipse cx="517.46" cy="26.36" rx="1.55" ry="0.85" transform="rotate(-153.3 517.46 26.36)"/>
<ellipse cx="496.25" cy="47.67" rx="1.55" ry="0.85" transform="rotate(-157.4 496.25 47.67)"/>
<ellipse cx="498.21" cy="42.36" rx="1.55" ry="0.85" transform="rotate(-157.4 498.21 42.36)"/>
<ellipse cx="500.16" cy="37.05" rx="1.55" ry="0.85" transform="rotate(-157.4 500.16 37.05)"/>
<ellipse cx="502.12" cy="31.74" rx="1.55" ry="0.85" transform="rotate(-157.4 502.12 31.74)"/>
<ellipse cx="504.07" cy="26.43" rx="1.55" ry="0.85" transform="rotate(-157.4 504.07 26.43)"/>
<ellipse cx="506.03" cy="21.12" rx="1.55" ry="0.85" transform="rotate(-157.4 506.03 21.12)"/>
<ellipse cx="486.25" cy="43.93" rx="1.55" ry="0.85" transform="rotate(-161.6 486.25 43.93)"/>
<ellipse cx="487.85" cy="38.49" rx="1.55" ry="0.85" transform="rotate(-161.6 487.85 38.49)"/>
<ellipse cx="489.46" cy="33.05" rx="1.55" ry="0.85" transform="rotate(-161.6 489.46 33.05)"/>
<ellipse cx="491.07" cy="27.61" rx="1.55" ry="0.85" transform="rotate(-161.6 491.07 27.61)"/>
<ellipse cx="492.67" cy="22.17" rx="1.55" ry="0.85" transform="rotate(-161.6 492.67 22.17)"/>
<ellipse cx="494.28" cy="16.73" rx="1.55" ry="0.85" transform="rotate(-161.6 494.28 16.73)"/>
<ellipse cx="476.02" cy="40.93" rx="1.55" ry="0.85" transform="rotate(-165.7 476.02 40.93)"/>
<ellipse cx="477.28" cy="35.38" rx="1.55" ry="0.85" transform="rotate(-165.7 477.28 35.38)"/>
<ellipse cx="478.53" cy="29.84" rx="1.55" ry="0.85" transform="rotate(-165.7 478.53 29.84)"/>
<ellipse cx="479.78" cy="24.30" rx="1.55" ry="0.85" transform="rotate(-165.7 479.78 24.30)"/>
<ellipse cx="481.03" cy="18.75" rx="1.55" ry="0.85" transform="rotate(-165.7 481.03 18.75)"/>
<ellipse cx="482.28" cy="13.21" rx="1.55" ry="0.85" transform="rotate(-165.7 482.28 13.21)"/>
<ellipse cx="465.63" cy="38.68" rx="1.55" ry="0.85" transform="rotate(-169.9 465.63 38.68)"/>
<ellipse cx="466.52" cy="33.06" rx="1.55" ry="0.85" transform="rotate(-169.9 466.52 33.06)"/>
<ellipse cx="467.41" cy="27.43" rx="1.55" ry="0.85" transform="rotate(-169.9 467.41 27.43)"/>
<ellipse cx="468.30" cy="21.81" rx="1.55" ry="0.85" transform="rotate(-169.9 468.30 21.81)"/>
<ellipse cx="469.19" cy="16.19" rx="1.55" ry="0.85" transform="rotate(-169.9 469.19 16.19)"/>
<ellipse cx="470.08" cy="10.57" rx="1.55" ry="0.85" transform="rotate(-169.9 470.08 10.57)"/>
<ellipse cx="455.12" cy="37.19" rx="1.55" ry="0.85" transform="rotate(-174.0 455.12 37.19)"/>
<ellipse cx="455.64" cy="31.52" rx="1.55" ry="0.85" transform="rotate(-174.0 455.64 31.52)"/>
<ellipse cx="456.17" cy="25.84" rx="1.55" ry="0.85" transform="rotate(-174.0 456.17 25.84)"/>
<ellipse cx="456.69" cy="20.17" rx="1.55" ry="0.85" transform="rotate(-174.0 456.69 20.17)"/>
<ellipse cx="457.22" cy="14.50" rx="1.55" ry="0.85" transform="rotate(-174.0 457.22 14.50)"/>
<ellipse cx="457.74" cy="8.82" rx="1.55" ry="0.85" transform="rotate(-174.0 457.74 8.82)"/>
<ellipse cx="444.53" cy="36.47" rx="1.55" ry="0.85" transform="rotate(-178.2 444.53 36.47)"/>
<ellipse cx="444.69" cy="30.78" rx="1.55" ry="0.85" transform="rotate(-178.2 444.69 30.78)"/>
<ellipse cx="444.84" cy="25.08" rx="1.55" ry="0.85" transform="rotate(-178.2 444.84 25.08)"/>
<ellipse cx="445.00" cy="19.38" rx="1.55" ry="0.85" transform="rotate(-178.2 445.00 19.38)"/>
<ellipse cx="445.16" cy="13.68" rx="1.55" ry="0.85" transform="rotate(-178.2 445.16 13.68)"/>
<ellipse cx="445.32" cy="7.98" rx="1.55" ry="0.85" transform="rotate(-178.2 445.32 7.98)"/>
<ellipse cx="433.92" cy="36.53" rx="1.55" ry="0.85" transform="rotate(177.6 433.92 36.53)"/>
<ellipse cx="433.71" cy="30.83" rx="1.55" ry="0.85" transform="rotate(177.6 433.71 30.83)"/>
<ellipse cx="433.50" cy="25.14" rx="1.55" ry="0.85" transform="rotate(177.6 433.50 25.14)"/>
<ellipse cx="433.29" cy="19.44" rx="1.55" ry="0.85" transform="rotate(177.6 433.29 19.44)"/>
<ellipse cx="433.08" cy="13.75" rx="1.55" ry="0.85" transform="rotate(177.6 433.08 13.75)"/>
<ellipse cx="432.87" cy="8.05" rx="1.55" ry="0.85" transform="rotate(177.6 432.87 8.05)"/>
</g>
<line x1="439.50" y1="200.50" x2="439.50" y2="198.00" stroke="#262626" stroke-width="1.00"/>
<line x1="485.50" y1="200.50" x2="485.50" y2="198.00" stroke="#262626" stroke-width="1.00"/>
<line x1="531.50" y1="200.50" x2="531.50" y2="198.00" stroke="#262626" stroke-width="1.00"/>
<line x1="577.50" y1="200.50" x2="577.50" y2="198.00" stroke="#262626" stroke-width="1.00"/>
<line x1="623.50" y1="200.50" x2="623.50" y2="198.00" stroke="#262626" stroke-width="1.00"/>
<line x1="394.00" y1="200.90" x2="396.50" y2="200.90" stroke="#262626" stroke-width="1.00"/>
<line x1="394.00" y1="151.90" x2="396.50" y2="151.90" stroke="#262626" stroke-width="1.00"/>
<line x1="394.00" y1="102.90" x2="396.50" y2="102.90" stroke="#262626" stroke-width="1.00"/>
<line x1="394.00" y1="53.90" x2="396.50" y2="53.90" stroke="#262626" stroke-width="1.00"/>
<line x1="394.00" y1="5.90" x2="396.50" y2="5.90" stroke="#262626" stroke-width="1.00"/>
<text x="439.60" y="218.01" font-size="12.60" text-anchor="middle" fill="#262626">0</text>
<text x="485.60" y="218.01" font-size="12.60" text-anchor="middle" fill="#262626">5</text>
<text x="531.60" y="218.01" font-size="12.60" text-anchor="middle" fill="#262626">10</text>
<text x="577.60" y="218.01" font-size="12.60" text-anchor="middle" fill="#262626">15</text>
<text x="623.60" y="218.01" font-size="12.60" text-anchor="middle" fill="#262626">20</text>
<text x="389.20" y="206.01" font-size="12.60" text-anchor="end" fill="#262626">0</text>
<text x="389.20" y="156.94" font-size="12.60" text-anchor="end" fill="#262626">5</text>
<text x="389.20" y="107.86" font-size="12.60" text-anchor="end" fill="#262626">10</text>
<text x="389.20" y="58.78" font-size="12.60" text-anchor="end" fill="#262626">15</text>
<text x="389.20" y="9.71" font-size="12.60" text-anchor="end" fill="#262626">20</text>
<text x="508.70" y="236.00" font-size="14.00" text-anchor="middle" fill="#262626">x mm</text>
<text x="368.3" y="103.7" font-size="14" text-anchor="middle" fill="#262626" transform="rotate(-90 368.3 103.7)">y mm</text>
<rect x="637.40" y="5.00" width="13.10" height="195.50" fill="url(#cb2)" stroke="#8a8a8a" stroke-width="0.8"/>
<line x1="648.30" y1="200.50" x2="650.50" y2="200.50" stroke="#555" stroke-width="1.00"/>
<text x="654.50" y="204.70" font-size="11.40" text-anchor="start" fill="#262626">0</text>
<line x1="648.30" y1="151.62" x2="650.50" y2="151.62" stroke="#555" stroke-width="1.00"/>
<text x="654.50" y="155.82" font-size="11.40" text-anchor="start" fill="#262626">5</text>
<line x1="648.30" y1="102.75" x2="650.50" y2="102.75" stroke="#555" stroke-width="1.00"/>
<text x="654.50" y="106.95" font-size="11.40" text-anchor="start" fill="#262626">10</text>
<line x1="648.30" y1="53.88" x2="650.50" y2="53.88" stroke="#555" stroke-width="1.00"/>
<text x="654.50" y="58.08" font-size="11.40" text-anchor="start" fill="#262626">15</text>
<line x1="648.30" y1="5.00" x2="650.50" y2="5.00" stroke="#555" stroke-width="1.00"/>
<text x="654.50" y="9.20" font-size="11.40" text-anchor="start" fill="#262626">20</text>
<text x="681.6" y="102.5" font-size="11.7" text-anchor="middle" fill="#262626" transform="rotate(-90 681.6 102.5)">dimple depth(mm)</text>
<text transform="translate(522.5 256.9) scale(1.08 0.9)" font-size="11.6" text-anchor="middle" fill="#111" stroke="#111" stroke-width="0.12" style="font-family:'Liberation Serif',serif">(b)</text>
</svg>
</body></html>
